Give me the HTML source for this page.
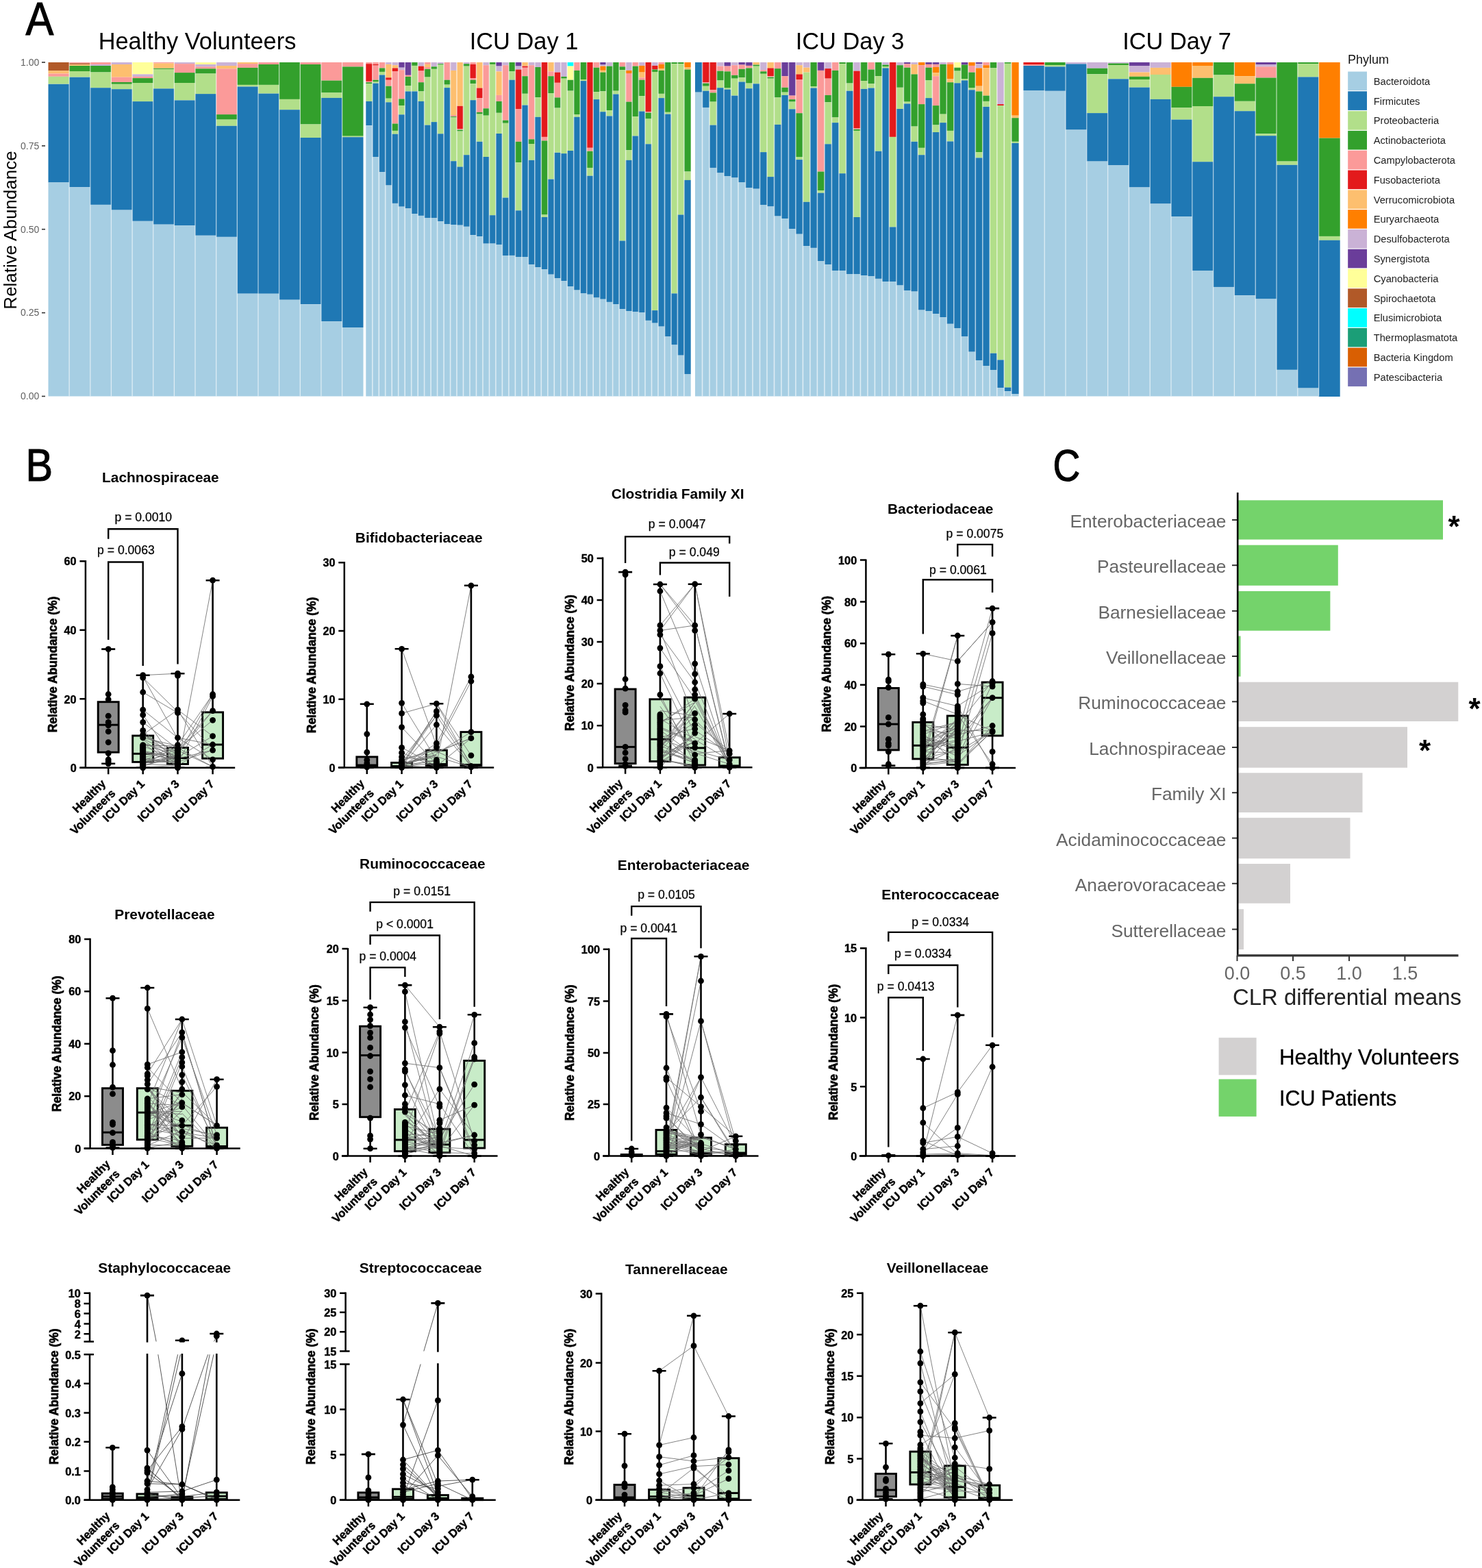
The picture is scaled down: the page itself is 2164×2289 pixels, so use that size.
<!DOCTYPE html>
<html lang="en"><head><meta charset="utf-8"><title>Figure: gut microbiota composition</title>
<style>html,body{margin:0;padding:0;background:#fff}svg{display:block}</style></head>
<body>
<svg width="2164" height="2289" viewBox="0 0 2164 2289" font-family='"Liberation Sans", Arial, Helvetica, sans-serif'>
<g id="panelA">
<text transform="translate(37.5 50.8) scale(0.9 1)" font-size="68" stroke="#000" stroke-width="1.2">A</text>
<text x="23.8" y="336" font-size="26" text-anchor="middle" transform="rotate(-90 23.8 336)">Relative Abundance</text>
<rect x="61" y="90.2" width="5" height="1.6" fill="#333"/>
<text x="57.3" y="95.8" font-size="14" text-anchor="end" fill="#5f5f5f">1.00</text>
<rect x="61" y="212.1" width="5" height="1.6" fill="#333"/>
<text x="57.3" y="217.7" font-size="14" text-anchor="end" fill="#5f5f5f">0.75</text>
<rect x="61" y="333.9" width="5" height="1.6" fill="#333"/>
<text x="57.3" y="339.6" font-size="14" text-anchor="end" fill="#5f5f5f">0.50</text>
<rect x="61" y="455.8" width="5" height="1.6" fill="#333"/>
<text x="57.3" y="461.4" font-size="14" text-anchor="end" fill="#5f5f5f">0.25</text>
<rect x="61" y="577.7" width="5" height="1.6" fill="#333"/>
<text x="57.3" y="583.3" font-size="14" text-anchor="end" fill="#5f5f5f">0.00</text>
<text x="288" y="71.6" font-size="34.4" text-anchor="middle">Healthy Volunteers</text>
<rect x="70.5" y="91" width="30.9" height="12.2" fill="#B15928"/>
<rect x="70.5" y="103.2" width="30.9" height="4.3" fill="#FDBF6F"/>
<rect x="70.5" y="107.5" width="30.9" height="4.3" fill="#FB9A99"/>
<rect x="70.5" y="111.8" width="30.9" height="10.9" fill="#B2DF8A"/>
<rect x="70.5" y="122.8" width="30.9" height="143.6" fill="#1F78B4"/>
<rect x="70.5" y="266.4" width="30.9" height="312.1" fill="#A6CEE3"/>
<rect x="101.1" y="91" width="30.9" height="1.5" fill="#FB9A99"/>
<rect x="101.1" y="92.5" width="30.9" height="1.7" fill="#B15928"/>
<rect x="101.1" y="94.3" width="30.9" height="1.7" fill="#FDBF6F"/>
<rect x="101.1" y="96" width="30.9" height="8.1" fill="#33A02C"/>
<rect x="101.1" y="104" width="30.9" height="8.6" fill="#B2DF8A"/>
<rect x="101.1" y="112.7" width="30.9" height="160.6" fill="#1F78B4"/>
<rect x="101.1" y="273.3" width="30.9" height="305.2" fill="#A6CEE3"/>
<rect x="131.8" y="91" width="30.9" height="3" fill="#FB9A99"/>
<rect x="131.8" y="94" width="30.9" height="2" fill="#CAB2D6"/>
<rect x="131.8" y="96" width="30.9" height="9.5" fill="#33A02C"/>
<rect x="131.8" y="105.5" width="30.9" height="22.7" fill="#B2DF8A"/>
<rect x="131.8" y="128.2" width="30.9" height="170.7" fill="#1F78B4"/>
<rect x="131.8" y="298.9" width="30.9" height="279.6" fill="#A6CEE3"/>
<rect x="162.4" y="91" width="30.9" height="3" fill="#CAB2D6"/>
<rect x="162.4" y="94" width="30.9" height="18.7" fill="#FDBF6F"/>
<rect x="162.4" y="112.7" width="30.9" height="7.2" fill="#FB9A99"/>
<rect x="162.4" y="119.9" width="30.9" height="2.9" fill="#33A02C"/>
<rect x="162.4" y="122.8" width="30.9" height="7.5" fill="#B2DF8A"/>
<rect x="162.4" y="130.2" width="30.9" height="176.4" fill="#1F78B4"/>
<rect x="162.4" y="306.7" width="30.9" height="271.8" fill="#A6CEE3"/>
<rect x="193.1" y="91" width="30.9" height="17.4" fill="#FFFF99"/>
<rect x="193.1" y="108.4" width="30.9" height="3.5" fill="#CAB2D6"/>
<rect x="193.1" y="111.8" width="30.9" height="2.3" fill="#FB9A99"/>
<rect x="193.1" y="114.1" width="30.9" height="6.9" fill="#33A02C"/>
<rect x="193.1" y="121" width="30.9" height="27.1" fill="#B2DF8A"/>
<rect x="193.1" y="148.1" width="30.9" height="174.7" fill="#1F78B4"/>
<rect x="193.1" y="322.8" width="30.9" height="255.7" fill="#A6CEE3"/>
<rect x="223.7" y="91" width="30.9" height="1.5" fill="#FB9A99"/>
<rect x="223.7" y="92.5" width="30.9" height="7.2" fill="#FDBF6F"/>
<rect x="223.7" y="99.7" width="30.9" height="1.2" fill="#33A02C"/>
<rect x="223.7" y="100.9" width="30.9" height="28.5" fill="#B2DF8A"/>
<rect x="223.7" y="129.4" width="30.9" height="198.3" fill="#1F78B4"/>
<rect x="223.7" y="327.7" width="30.9" height="250.8" fill="#A6CEE3"/>
<rect x="254.4" y="91" width="30.9" height="2.1" fill="#CAB2D6"/>
<rect x="254.4" y="93.1" width="30.9" height="13" fill="#FB9A99"/>
<rect x="254.4" y="106.1" width="30.9" height="15" fill="#33A02C"/>
<rect x="254.4" y="121" width="30.9" height="25.3" fill="#B2DF8A"/>
<rect x="254.4" y="146.4" width="30.9" height="182.8" fill="#1F78B4"/>
<rect x="254.4" y="329.1" width="30.9" height="249.4" fill="#A6CEE3"/>
<rect x="285" y="91" width="30.9" height="3" fill="#FFFF99"/>
<rect x="285" y="94" width="30.9" height="3.5" fill="#CAB2D6"/>
<rect x="285" y="97.4" width="30.9" height="2.9" fill="#FB9A99"/>
<rect x="285" y="100.3" width="30.9" height="7.2" fill="#33A02C"/>
<rect x="285" y="107.5" width="30.9" height="29.6" fill="#B2DF8A"/>
<rect x="285" y="137.1" width="30.9" height="206.7" fill="#1F78B4"/>
<rect x="285" y="343.8" width="30.9" height="234.7" fill="#A6CEE3"/>
<rect x="315.7" y="91" width="30.9" height="5" fill="#CAB2D6"/>
<rect x="315.7" y="96" width="30.9" height="4.3" fill="#FDBF6F"/>
<rect x="315.7" y="100.3" width="30.9" height="66.8" fill="#FB9A99"/>
<rect x="315.7" y="167.1" width="30.9" height="7.5" fill="#33A02C"/>
<rect x="315.7" y="174.6" width="30.9" height="9.2" fill="#B2DF8A"/>
<rect x="315.7" y="183.8" width="30.9" height="162.1" fill="#1F78B4"/>
<rect x="315.7" y="345.8" width="30.9" height="232.7" fill="#A6CEE3"/>
<rect x="346.3" y="91" width="30.9" height="2.1" fill="#FDBF6F"/>
<rect x="346.3" y="93.1" width="30.9" height="5.8" fill="#FB9A99"/>
<rect x="346.3" y="98.9" width="30.9" height="25" fill="#33A02C"/>
<rect x="346.3" y="123.9" width="30.9" height="2.6" fill="#B2DF8A"/>
<rect x="346.3" y="126.5" width="30.9" height="302.2" fill="#1F78B4"/>
<rect x="346.3" y="428.7" width="30.9" height="149.8" fill="#A6CEE3"/>
<rect x="377" y="91" width="30.9" height="3" fill="#FB9A99"/>
<rect x="377" y="94" width="30.9" height="29.9" fill="#33A02C"/>
<rect x="377" y="123.9" width="30.9" height="12.7" fill="#B2DF8A"/>
<rect x="377" y="136.6" width="30.9" height="292.2" fill="#1F78B4"/>
<rect x="377" y="428.7" width="30.9" height="149.8" fill="#A6CEE3"/>
<rect x="407.6" y="91" width="30.9" height="53.9" fill="#33A02C"/>
<rect x="407.6" y="144.9" width="30.9" height="15.3" fill="#B2DF8A"/>
<rect x="407.6" y="160.2" width="30.9" height="277.5" fill="#1F78B4"/>
<rect x="407.6" y="437.7" width="30.9" height="140.8" fill="#A6CEE3"/>
<rect x="438.3" y="91" width="30.9" height="3" fill="#FB9A99"/>
<rect x="438.3" y="94" width="30.9" height="87.5" fill="#33A02C"/>
<rect x="438.3" y="181.5" width="30.9" height="19.6" fill="#B2DF8A"/>
<rect x="438.3" y="201" width="30.9" height="243.2" fill="#1F78B4"/>
<rect x="438.3" y="444.3" width="30.9" height="134.2" fill="#A6CEE3"/>
<rect x="468.9" y="91" width="30.9" height="26.6" fill="#FB9A99"/>
<rect x="468.9" y="117.6" width="30.9" height="17.8" fill="#33A02C"/>
<rect x="468.9" y="135.4" width="30.9" height="7.5" fill="#B2DF8A"/>
<rect x="468.9" y="142.9" width="30.9" height="326.4" fill="#1F78B4"/>
<rect x="468.9" y="469.3" width="30.9" height="109.2" fill="#A6CEE3"/>
<rect x="499.6" y="91" width="30.9" height="6.4" fill="#FB9A99"/>
<rect x="499.6" y="97.4" width="30.9" height="101.3" fill="#33A02C"/>
<rect x="499.6" y="198.7" width="30.9" height="1.4" fill="#B2DF8A"/>
<rect x="499.6" y="200.2" width="30.9" height="277.8" fill="#1F78B4"/>
<rect x="499.6" y="478" width="30.9" height="100.5" fill="#A6CEE3"/>
<path d="M101.1 91V578.5M131.8 91V578.5M162.4 91V578.5M193.1 91V578.5M223.7 91V578.5M254.4 91V578.5M285 91V578.5M315.7 91V578.5M346.3 91V578.5M377 91V578.5M407.6 91V578.5M438.3 91V578.5M468.9 91V578.5M499.6 91V578.5" stroke="#fff" stroke-opacity="0.6" stroke-width="1.3" fill="none"/>
<text x="765" y="71.6" font-size="34.4" text-anchor="middle">ICU Day 1</text>
<rect x="534.3" y="91" width="9.8" height="2.2" fill="#FB9A99"/>
<rect x="534.3" y="93.2" width="9.8" height="25.6" fill="#E31A1C"/>
<rect x="534.3" y="118.8" width="9.8" height="1.4" fill="#FB9A99"/>
<rect x="534.3" y="120.2" width="9.8" height="2.1" fill="#33A02C"/>
<rect x="534.3" y="122.3" width="9.8" height="25.6" fill="#B2DF8A"/>
<rect x="534.3" y="147.9" width="9.8" height="35.3" fill="#1F78B4"/>
<rect x="534.3" y="183.3" width="9.8" height="395.2" fill="#A6CEE3"/>
<rect x="543.8" y="91" width="9.8" height="2.9" fill="#FB9A99"/>
<rect x="543.8" y="93.9" width="9.8" height="1.7" fill="#E31A1C"/>
<rect x="543.8" y="95.5" width="9.8" height="21.2" fill="#FB9A99"/>
<rect x="543.8" y="116.7" width="9.8" height="2.8" fill="#33A02C"/>
<rect x="543.8" y="119.5" width="9.8" height="2.1" fill="#B2DF8A"/>
<rect x="543.8" y="121.6" width="9.8" height="107.4" fill="#1F78B4"/>
<rect x="543.8" y="229" width="9.8" height="349.5" fill="#A6CEE3"/>
<rect x="553.3" y="91" width="9.8" height="8.4" fill="#FB9A99"/>
<rect x="553.3" y="99.4" width="9.8" height="5.5" fill="#33A02C"/>
<rect x="553.3" y="104.9" width="9.8" height="4.4" fill="#B2DF8A"/>
<rect x="553.3" y="109.4" width="9.8" height="141.8" fill="#1F78B4"/>
<rect x="553.3" y="251.2" width="9.8" height="327.3" fill="#A6CEE3"/>
<rect x="562.7" y="91" width="9.8" height="2.9" fill="#CAB2D6"/>
<rect x="562.7" y="93.9" width="9.8" height="19.4" fill="#FDBF6F"/>
<rect x="562.7" y="113.3" width="9.8" height="3.5" fill="#E31A1C"/>
<rect x="562.7" y="116.7" width="9.8" height="9" fill="#FB9A99"/>
<rect x="562.7" y="125.7" width="9.8" height="18" fill="#33A02C"/>
<rect x="562.7" y="143.8" width="9.8" height="5.5" fill="#B2DF8A"/>
<rect x="562.7" y="149.3" width="9.8" height="121.3" fill="#1F78B4"/>
<rect x="562.7" y="270.6" width="9.8" height="307.9" fill="#A6CEE3"/>
<rect x="572.2" y="91" width="9.8" height="4.2" fill="#CAB2D6"/>
<rect x="572.2" y="95.2" width="9.8" height="4.2" fill="#FDBF6F"/>
<rect x="572.2" y="99.4" width="9.8" height="4.9" fill="#E31A1C"/>
<rect x="572.2" y="104.3" width="9.8" height="76.2" fill="#FB9A99"/>
<rect x="572.2" y="180.5" width="9.8" height="10.4" fill="#33A02C"/>
<rect x="572.2" y="190.9" width="9.8" height="4.9" fill="#B2DF8A"/>
<rect x="572.2" y="195.7" width="9.8" height="101.2" fill="#1F78B4"/>
<rect x="572.2" y="296.9" width="9.8" height="281.6" fill="#A6CEE3"/>
<rect x="581.7" y="91" width="9.8" height="7.7" fill="#6A3D9A"/>
<rect x="581.7" y="98.7" width="9.8" height="3.5" fill="#CAB2D6"/>
<rect x="581.7" y="102.2" width="9.8" height="42.3" fill="#FB9A99"/>
<rect x="581.7" y="144.4" width="9.8" height="9.7" fill="#33A02C"/>
<rect x="581.7" y="154.1" width="9.8" height="13.2" fill="#B2DF8A"/>
<rect x="581.7" y="167.3" width="9.8" height="134.4" fill="#1F78B4"/>
<rect x="581.7" y="301.7" width="9.8" height="276.8" fill="#A6CEE3"/>
<rect x="591.2" y="91" width="9.8" height="18.8" fill="#6A3D9A"/>
<rect x="591.2" y="109.8" width="9.8" height="2.1" fill="#FB9A99"/>
<rect x="591.2" y="111.9" width="9.8" height="13.2" fill="#33A02C"/>
<rect x="591.2" y="125" width="9.8" height="8.3" fill="#B2DF8A"/>
<rect x="591.2" y="133.4" width="9.8" height="170.9" fill="#1F78B4"/>
<rect x="591.2" y="304.2" width="9.8" height="274.3" fill="#A6CEE3"/>
<rect x="600.7" y="91" width="9.8" height="4.9" fill="#33A02C"/>
<rect x="600.7" y="95.9" width="9.8" height="37.4" fill="#B2DF8A"/>
<rect x="600.7" y="133.4" width="9.8" height="178.8" fill="#1F78B4"/>
<rect x="600.7" y="312.1" width="9.8" height="266.4" fill="#A6CEE3"/>
<rect x="610.2" y="91" width="9.8" height="5.6" fill="#CAB2D6"/>
<rect x="610.2" y="96.6" width="9.8" height="6.9" fill="#E31A1C"/>
<rect x="610.2" y="103.6" width="9.8" height="16.6" fill="#FB9A99"/>
<rect x="610.2" y="120.2" width="9.8" height="13.2" fill="#33A02C"/>
<rect x="610.2" y="133.4" width="9.8" height="14.6" fill="#B2DF8A"/>
<rect x="610.2" y="147.9" width="9.8" height="167" fill="#1F78B4"/>
<rect x="610.2" y="314.9" width="9.8" height="263.6" fill="#A6CEE3"/>
<rect x="619.6" y="91" width="9.8" height="2.9" fill="#FB9A99"/>
<rect x="619.6" y="93.9" width="9.8" height="4.2" fill="#FDBF6F"/>
<rect x="619.6" y="98" width="9.8" height="2.8" fill="#FB9A99"/>
<rect x="619.6" y="100.8" width="9.8" height="11.8" fill="#33A02C"/>
<rect x="619.6" y="112.6" width="9.8" height="70" fill="#B2DF8A"/>
<rect x="619.6" y="182.6" width="9.8" height="135.8" fill="#1F78B4"/>
<rect x="619.6" y="318.4" width="9.8" height="260.1" fill="#A6CEE3"/>
<rect x="629.1" y="91" width="9.8" height="6.3" fill="#CAB2D6"/>
<rect x="629.1" y="97.3" width="9.8" height="3.5" fill="#33A02C"/>
<rect x="629.1" y="100.8" width="9.8" height="77.3" fill="#B2DF8A"/>
<rect x="629.1" y="178.1" width="9.8" height="140.3" fill="#1F78B4"/>
<rect x="629.1" y="318.4" width="9.8" height="260.1" fill="#A6CEE3"/>
<rect x="638.6" y="91" width="9.8" height="2.2" fill="#CAB2D6"/>
<rect x="638.6" y="93.2" width="9.8" height="1.4" fill="#33A02C"/>
<rect x="638.6" y="94.6" width="9.8" height="100.8" fill="#B2DF8A"/>
<rect x="638.6" y="195.3" width="9.8" height="127.9" fill="#1F78B4"/>
<rect x="638.6" y="323.2" width="9.8" height="255.3" fill="#A6CEE3"/>
<rect x="648.1" y="91" width="9.8" height="25.7" fill="#FB9A99"/>
<rect x="648.1" y="116.7" width="9.8" height="6.9" fill="#33A02C"/>
<rect x="648.1" y="123.7" width="9.8" height="4.4" fill="#B2DF8A"/>
<rect x="648.1" y="128.1" width="9.8" height="199.3" fill="#1F78B4"/>
<rect x="648.1" y="327.4" width="9.8" height="251.1" fill="#A6CEE3"/>
<rect x="657.6" y="91" width="9.8" height="11.9" fill="#CAB2D6"/>
<rect x="657.6" y="102.9" width="9.8" height="65.1" fill="#FDBF6F"/>
<rect x="657.6" y="168" width="9.8" height="2.1" fill="#FB9A99"/>
<rect x="657.6" y="170.1" width="9.8" height="1.4" fill="#33A02C"/>
<rect x="657.6" y="171.5" width="9.8" height="63.8" fill="#B2DF8A"/>
<rect x="657.6" y="235.2" width="9.8" height="92.9" fill="#1F78B4"/>
<rect x="657.6" y="328.1" width="9.8" height="250.4" fill="#A6CEE3"/>
<rect x="667" y="91" width="9.8" height="63.8" fill="#FDBF6F"/>
<rect x="667" y="154.8" width="9.8" height="33.3" fill="#E31A1C"/>
<rect x="667" y="188.1" width="9.8" height="1.4" fill="#FB9A99"/>
<rect x="667" y="189.5" width="9.8" height="2.1" fill="#33A02C"/>
<rect x="667" y="191.6" width="9.8" height="52" fill="#B2DF8A"/>
<rect x="667" y="243.5" width="9.8" height="85.2" fill="#1F78B4"/>
<rect x="667" y="328.8" width="9.8" height="249.7" fill="#A6CEE3"/>
<rect x="676.5" y="91" width="9.8" height="2.2" fill="#CAB2D6"/>
<rect x="676.5" y="93.2" width="9.8" height="3.5" fill="#33A02C"/>
<rect x="676.5" y="96.6" width="9.8" height="129.6" fill="#B2DF8A"/>
<rect x="676.5" y="226.2" width="9.8" height="104.6" fill="#1F78B4"/>
<rect x="676.5" y="330.9" width="9.8" height="247.6" fill="#A6CEE3"/>
<rect x="686" y="91" width="9.8" height="2.9" fill="#FB9A99"/>
<rect x="686" y="93.9" width="9.8" height="20.1" fill="#E31A1C"/>
<rect x="686" y="114" width="9.8" height="2.8" fill="#FB9A99"/>
<rect x="686" y="116.7" width="9.8" height="5.5" fill="#33A02C"/>
<rect x="686" y="122.3" width="9.8" height="24" fill="#B2DF8A"/>
<rect x="686" y="146.2" width="9.8" height="196.9" fill="#1F78B4"/>
<rect x="686" y="343.2" width="9.8" height="235.3" fill="#A6CEE3"/>
<rect x="695.5" y="91" width="9.8" height="37.5" fill="#FDBF6F"/>
<rect x="695.5" y="128.5" width="9.8" height="14.6" fill="#E31A1C"/>
<rect x="695.5" y="143.1" width="9.8" height="20.8" fill="#FB9A99"/>
<rect x="695.5" y="163.8" width="9.8" height="2.8" fill="#33A02C"/>
<rect x="695.5" y="166.6" width="9.8" height="40.2" fill="#B2DF8A"/>
<rect x="695.5" y="206.8" width="9.8" height="138.4" fill="#1F78B4"/>
<rect x="695.5" y="345.2" width="9.8" height="233.3" fill="#A6CEE3"/>
<rect x="705" y="91" width="9.8" height="4.2" fill="#CAB2D6"/>
<rect x="705" y="95.2" width="9.8" height="63.1" fill="#FB9A99"/>
<rect x="705" y="158.3" width="9.8" height="10.4" fill="#33A02C"/>
<rect x="705" y="168.7" width="9.8" height="60.3" fill="#B2DF8A"/>
<rect x="705" y="229" width="9.8" height="126.7" fill="#1F78B4"/>
<rect x="705" y="355.6" width="9.8" height="222.9" fill="#A6CEE3"/>
<rect x="714.5" y="91" width="9.8" height="2.9" fill="#33A02C"/>
<rect x="714.5" y="93.9" width="9.8" height="220.4" fill="#B2DF8A"/>
<rect x="714.5" y="314.2" width="9.8" height="41.4" fill="#1F78B4"/>
<rect x="714.5" y="355.6" width="9.8" height="222.9" fill="#A6CEE3"/>
<rect x="723.9" y="91" width="9.8" height="5.6" fill="#6A3D9A"/>
<rect x="723.9" y="96.6" width="9.8" height="7.6" fill="#CAB2D6"/>
<rect x="723.9" y="104.3" width="9.8" height="34.6" fill="#FDBF6F"/>
<rect x="723.9" y="138.9" width="9.8" height="9" fill="#FB9A99"/>
<rect x="723.9" y="147.9" width="9.8" height="16.9" fill="#33A02C"/>
<rect x="723.9" y="164.8" width="9.8" height="30.2" fill="#B2DF8A"/>
<rect x="723.9" y="195" width="9.8" height="162" fill="#1F78B4"/>
<rect x="723.9" y="357" width="9.8" height="221.5" fill="#A6CEE3"/>
<rect x="733.4" y="91" width="9.8" height="4.2" fill="#CAB2D6"/>
<rect x="733.4" y="95.2" width="9.8" height="80.4" fill="#FB9A99"/>
<rect x="733.4" y="175.6" width="9.8" height="4.2" fill="#33A02C"/>
<rect x="733.4" y="179.8" width="9.8" height="108.8" fill="#B2DF8A"/>
<rect x="733.4" y="288.6" width="9.8" height="84.4" fill="#1F78B4"/>
<rect x="733.4" y="373" width="9.8" height="205.5" fill="#A6CEE3"/>
<rect x="742.9" y="91" width="9.8" height="13.3" fill="#33A02C"/>
<rect x="742.9" y="104.3" width="9.8" height="12.5" fill="#B2DF8A"/>
<rect x="742.9" y="116.7" width="9.8" height="256.2" fill="#1F78B4"/>
<rect x="742.9" y="373" width="9.8" height="205.5" fill="#A6CEE3"/>
<rect x="752.4" y="91" width="9.8" height="5.6" fill="#6A3D9A"/>
<rect x="752.4" y="96.6" width="9.8" height="4.9" fill="#CAB2D6"/>
<rect x="752.4" y="101.5" width="9.8" height="57.5" fill="#E31A1C"/>
<rect x="752.4" y="159" width="9.8" height="47.8" fill="#FB9A99"/>
<rect x="752.4" y="206.8" width="9.8" height="30.5" fill="#33A02C"/>
<rect x="752.4" y="237.3" width="9.8" height="70" fill="#B2DF8A"/>
<rect x="752.4" y="307.3" width="9.8" height="67.8" fill="#1F78B4"/>
<rect x="752.4" y="375" width="9.8" height="203.5" fill="#A6CEE3"/>
<rect x="761.9" y="91" width="9.8" height="5.6" fill="#FDBF6F"/>
<rect x="761.9" y="96.6" width="9.8" height="2.1" fill="#E31A1C"/>
<rect x="761.9" y="98.7" width="9.8" height="12.5" fill="#FB9A99"/>
<rect x="761.9" y="111.2" width="9.8" height="25.6" fill="#33A02C"/>
<rect x="761.9" y="136.8" width="9.8" height="16.6" fill="#B2DF8A"/>
<rect x="761.9" y="153.5" width="9.8" height="221.6" fill="#1F78B4"/>
<rect x="761.9" y="375" width="9.8" height="203.5" fill="#A6CEE3"/>
<rect x="771.4" y="91" width="9.8" height="4.2" fill="#CAB2D6"/>
<rect x="771.4" y="95.2" width="9.8" height="108.1" fill="#FB9A99"/>
<rect x="771.4" y="203.3" width="9.8" height="6.7" fill="#33A02C"/>
<rect x="771.4" y="210" width="9.8" height="23.8" fill="#B2DF8A"/>
<rect x="771.4" y="233.8" width="9.8" height="152.3" fill="#1F78B4"/>
<rect x="771.4" y="386.1" width="9.8" height="192.4" fill="#A6CEE3"/>
<rect x="780.8" y="91" width="9.8" height="7" fill="#CAB2D6"/>
<rect x="780.8" y="98" width="9.8" height="44.3" fill="#33A02C"/>
<rect x="780.8" y="142.4" width="9.8" height="28.4" fill="#B2DF8A"/>
<rect x="780.8" y="170.8" width="9.8" height="219.5" fill="#1F78B4"/>
<rect x="780.8" y="390.3" width="9.8" height="188.2" fill="#A6CEE3"/>
<rect x="790.3" y="91" width="9.8" height="108.9" fill="#E31A1C"/>
<rect x="790.3" y="199.9" width="9.8" height="5.5" fill="#FB9A99"/>
<rect x="790.3" y="205.4" width="9.8" height="108.1" fill="#33A02C"/>
<rect x="790.3" y="313.5" width="9.8" height="3.5" fill="#B2DF8A"/>
<rect x="790.3" y="317" width="9.8" height="76.1" fill="#1F78B4"/>
<rect x="790.3" y="393.1" width="9.8" height="185.4" fill="#A6CEE3"/>
<rect x="799.8" y="91" width="9.8" height="13.3" fill="#FDBF6F"/>
<rect x="799.8" y="104.3" width="9.8" height="6.9" fill="#FB9A99"/>
<rect x="799.8" y="111.2" width="9.8" height="24.9" fill="#33A02C"/>
<rect x="799.8" y="136.1" width="9.8" height="125.4" fill="#B2DF8A"/>
<rect x="799.8" y="261.6" width="9.8" height="139.1" fill="#1F78B4"/>
<rect x="799.8" y="400.7" width="9.8" height="177.8" fill="#A6CEE3"/>
<rect x="809.3" y="91" width="9.8" height="14.6" fill="#CAB2D6"/>
<rect x="809.3" y="105.6" width="9.8" height="15.2" fill="#E31A1C"/>
<rect x="809.3" y="120.9" width="9.8" height="21.5" fill="#FB9A99"/>
<rect x="809.3" y="142.4" width="9.8" height="15.2" fill="#33A02C"/>
<rect x="809.3" y="157.6" width="9.8" height="65.1" fill="#B2DF8A"/>
<rect x="809.3" y="222.8" width="9.8" height="183.5" fill="#1F78B4"/>
<rect x="809.3" y="406.2" width="9.8" height="172.3" fill="#A6CEE3"/>
<rect x="818.8" y="91" width="9.8" height="20.9" fill="#CAB2D6"/>
<rect x="818.8" y="111.9" width="9.8" height="2.8" fill="#33A02C"/>
<rect x="818.8" y="114.6" width="9.8" height="109.5" fill="#B2DF8A"/>
<rect x="818.8" y="224.1" width="9.8" height="186.2" fill="#1F78B4"/>
<rect x="818.8" y="410.4" width="9.8" height="168.1" fill="#A6CEE3"/>
<rect x="828.2" y="91" width="9.8" height="5.6" fill="#00FFFF"/>
<rect x="828.2" y="96.6" width="9.8" height="20.1" fill="#FFFF99"/>
<rect x="828.2" y="116.7" width="9.8" height="15.9" fill="#33A02C"/>
<rect x="828.2" y="132.7" width="9.8" height="87.3" fill="#B2DF8A"/>
<rect x="828.2" y="220" width="9.8" height="198" fill="#1F78B4"/>
<rect x="828.2" y="418" width="9.8" height="160.5" fill="#A6CEE3"/>
<rect x="837.7" y="91" width="9.8" height="11.9" fill="#FB9A99"/>
<rect x="837.7" y="102.9" width="9.8" height="64.4" fill="#33A02C"/>
<rect x="837.7" y="167.3" width="9.8" height="3.5" fill="#B2DF8A"/>
<rect x="837.7" y="170.8" width="9.8" height="252.8" fill="#1F78B4"/>
<rect x="837.7" y="423.6" width="9.8" height="154.9" fill="#A6CEE3"/>
<rect x="847.2" y="91" width="9.8" height="25" fill="#33A02C"/>
<rect x="847.2" y="116" width="9.8" height="2.1" fill="#B2DF8A"/>
<rect x="847.2" y="118.1" width="9.8" height="310.3" fill="#1F78B4"/>
<rect x="847.2" y="428.4" width="9.8" height="150.1" fill="#A6CEE3"/>
<rect x="856.7" y="91" width="9.8" height="124.8" fill="#E31A1C"/>
<rect x="856.7" y="215.8" width="9.8" height="4.9" fill="#FB9A99"/>
<rect x="856.7" y="220.7" width="9.8" height="24.3" fill="#33A02C"/>
<rect x="856.7" y="244.9" width="9.8" height="11.8" fill="#B2DF8A"/>
<rect x="856.7" y="256.7" width="9.8" height="173.1" fill="#1F78B4"/>
<rect x="856.7" y="429.8" width="9.8" height="148.7" fill="#A6CEE3"/>
<rect x="866.2" y="91" width="9.8" height="7.7" fill="#FB9A99"/>
<rect x="866.2" y="98.7" width="9.8" height="35.3" fill="#33A02C"/>
<rect x="866.2" y="134.1" width="9.8" height="11.1" fill="#B2DF8A"/>
<rect x="866.2" y="145.1" width="9.8" height="289.5" fill="#1F78B4"/>
<rect x="866.2" y="434.6" width="9.8" height="143.9" fill="#A6CEE3"/>
<rect x="875.7" y="91" width="9.8" height="3.6" fill="#6A3D9A"/>
<rect x="875.7" y="94.6" width="9.8" height="2.1" fill="#CAB2D6"/>
<rect x="875.7" y="96.6" width="9.8" height="6.2" fill="#FF7F00"/>
<rect x="875.7" y="102.9" width="9.8" height="2.8" fill="#FDBF6F"/>
<rect x="875.7" y="105.6" width="9.8" height="27.7" fill="#33A02C"/>
<rect x="875.7" y="133.4" width="9.8" height="29.8" fill="#B2DF8A"/>
<rect x="875.7" y="163.2" width="9.8" height="273.6" fill="#1F78B4"/>
<rect x="875.7" y="436.7" width="9.8" height="141.8" fill="#A6CEE3"/>
<rect x="885.1" y="91" width="9.8" height="5.6" fill="#CAB2D6"/>
<rect x="885.1" y="96.6" width="9.8" height="64.4" fill="#33A02C"/>
<rect x="885.1" y="161.1" width="9.8" height="8.3" fill="#B2DF8A"/>
<rect x="885.1" y="169.4" width="9.8" height="271.5" fill="#1F78B4"/>
<rect x="885.1" y="440.9" width="9.8" height="137.6" fill="#A6CEE3"/>
<rect x="894.6" y="91" width="9.8" height="41.7" fill="#33A02C"/>
<rect x="894.6" y="132.7" width="9.8" height="4.9" fill="#B2DF8A"/>
<rect x="894.6" y="137.5" width="9.8" height="306.8" fill="#1F78B4"/>
<rect x="894.6" y="444.3" width="9.8" height="134.2" fill="#A6CEE3"/>
<rect x="904.1" y="91" width="9.8" height="6.3" fill="#FB9A99"/>
<rect x="904.1" y="97.3" width="9.8" height="4.9" fill="#33A02C"/>
<rect x="904.1" y="102.2" width="9.8" height="249.3" fill="#B2DF8A"/>
<rect x="904.1" y="351.5" width="9.8" height="99.8" fill="#1F78B4"/>
<rect x="904.1" y="451.3" width="9.8" height="127.2" fill="#A6CEE3"/>
<rect x="913.6" y="91" width="9.8" height="11.9" fill="#CAB2D6"/>
<rect x="913.6" y="102.9" width="9.8" height="4.2" fill="#FF7F00"/>
<rect x="913.6" y="107" width="9.8" height="41.6" fill="#FB9A99"/>
<rect x="913.6" y="148.6" width="9.8" height="70.7" fill="#33A02C"/>
<rect x="913.6" y="219.3" width="9.8" height="14.6" fill="#B2DF8A"/>
<rect x="913.6" y="233.8" width="9.8" height="220.2" fill="#1F78B4"/>
<rect x="913.6" y="454" width="9.8" height="124.5" fill="#A6CEE3"/>
<rect x="923.1" y="91" width="9.8" height="5.6" fill="#FB9A99"/>
<rect x="923.1" y="96.6" width="9.8" height="73.5" fill="#33A02C"/>
<rect x="923.1" y="170.1" width="9.8" height="28.4" fill="#B2DF8A"/>
<rect x="923.1" y="198.5" width="9.8" height="256.9" fill="#1F78B4"/>
<rect x="923.1" y="455.4" width="9.8" height="123.1" fill="#A6CEE3"/>
<rect x="932.5" y="91" width="9.8" height="4.9" fill="#CAB2D6"/>
<rect x="932.5" y="95.9" width="9.8" height="9.7" fill="#FF7F00"/>
<rect x="932.5" y="105.6" width="9.8" height="7.6" fill="#FDBF6F"/>
<rect x="932.5" y="113.3" width="9.8" height="3.5" fill="#FB9A99"/>
<rect x="932.5" y="116.7" width="9.8" height="23.6" fill="#33A02C"/>
<rect x="932.5" y="140.3" width="9.8" height="22.2" fill="#B2DF8A"/>
<rect x="932.5" y="162.5" width="9.8" height="293.9" fill="#1F78B4"/>
<rect x="932.5" y="456.4" width="9.8" height="122.1" fill="#A6CEE3"/>
<rect x="942" y="91" width="9.8" height="72.2" fill="#E31A1C"/>
<rect x="942" y="163.2" width="9.8" height="1.4" fill="#FB9A99"/>
<rect x="942" y="164.5" width="9.8" height="9" fill="#33A02C"/>
<rect x="942" y="173.6" width="9.8" height="36.7" fill="#B2DF8A"/>
<rect x="942" y="210.3" width="9.8" height="257.6" fill="#1F78B4"/>
<rect x="942" y="467.9" width="9.8" height="110.6" fill="#A6CEE3"/>
<rect x="951.5" y="91" width="9.8" height="4.9" fill="#CAB2D6"/>
<rect x="951.5" y="95.9" width="9.8" height="5.5" fill="#E31A1C"/>
<rect x="951.5" y="101.5" width="9.8" height="3.5" fill="#33A02C"/>
<rect x="951.5" y="104.9" width="9.8" height="348.1" fill="#B2DF8A"/>
<rect x="951.5" y="453.1" width="9.8" height="18.6" fill="#1F78B4"/>
<rect x="951.5" y="471.6" width="9.8" height="106.9" fill="#A6CEE3"/>
<rect x="961" y="91" width="9.8" height="2.9" fill="#FB9A99"/>
<rect x="961" y="93.9" width="9.8" height="6.2" fill="#FF7F00"/>
<rect x="961" y="100.1" width="9.8" height="2.8" fill="#FDBF6F"/>
<rect x="961" y="102.9" width="9.8" height="34" fill="#33A02C"/>
<rect x="961" y="136.8" width="9.8" height="6.2" fill="#B2DF8A"/>
<rect x="961" y="143.1" width="9.8" height="333.6" fill="#1F78B4"/>
<rect x="961" y="476.6" width="9.8" height="101.9" fill="#A6CEE3"/>
<rect x="970.5" y="91" width="9.8" height="72.8" fill="#33A02C"/>
<rect x="970.5" y="163.8" width="9.8" height="2.8" fill="#B2DF8A"/>
<rect x="970.5" y="166.6" width="9.8" height="324.8" fill="#1F78B4"/>
<rect x="970.5" y="491.5" width="9.8" height="87" fill="#A6CEE3"/>
<rect x="980" y="91" width="9.8" height="2.2" fill="#33A02C"/>
<rect x="980" y="93.2" width="9.8" height="335.2" fill="#B2DF8A"/>
<rect x="980" y="428.4" width="9.8" height="75.1" fill="#1F78B4"/>
<rect x="980" y="503.5" width="9.8" height="75" fill="#A6CEE3"/>
<rect x="989.4" y="91" width="9.8" height="2.2" fill="#33A02C"/>
<rect x="989.4" y="93.2" width="9.8" height="220.4" fill="#B2DF8A"/>
<rect x="989.4" y="313.5" width="9.8" height="205.2" fill="#1F78B4"/>
<rect x="989.4" y="518.8" width="9.8" height="59.7" fill="#A6CEE3"/>
<rect x="998.9" y="91" width="9.8" height="7" fill="#FF7F00"/>
<rect x="998.9" y="98" width="9.8" height="3.5" fill="#FDBF6F"/>
<rect x="998.9" y="101.5" width="9.8" height="149" fill="#33A02C"/>
<rect x="998.9" y="250.5" width="9.8" height="12.5" fill="#B2DF8A"/>
<rect x="998.9" y="262.9" width="9.8" height="283.5" fill="#1F78B4"/>
<rect x="998.9" y="546.5" width="9.8" height="32" fill="#A6CEE3"/>
<path d="M543.8 91V578.5M553.3 91V578.5M562.7 91V578.5M572.2 91V578.5M581.7 91V578.5M591.2 91V578.5M600.7 91V578.5M610.2 91V578.5M619.6 91V578.5M629.1 91V578.5M638.6 91V578.5M648.1 91V578.5M657.6 91V578.5M667 91V578.5M676.5 91V578.5M686 91V578.5M695.5 91V578.5M705 91V578.5M714.5 91V578.5M723.9 91V578.5M733.4 91V578.5M742.9 91V578.5M752.4 91V578.5M761.9 91V578.5M771.4 91V578.5M780.8 91V578.5M790.3 91V578.5M799.8 91V578.5M809.3 91V578.5M818.8 91V578.5M828.2 91V578.5M837.7 91V578.5M847.2 91V578.5M856.7 91V578.5M866.2 91V578.5M875.7 91V578.5M885.1 91V578.5M894.6 91V578.5M904.1 91V578.5M913.6 91V578.5M923.1 91V578.5M932.5 91V578.5M942 91V578.5M951.5 91V578.5M961 91V578.5M970.5 91V578.5M980 91V578.5M989.4 91V578.5M998.9 91V578.5" stroke="#fff" stroke-opacity="0.6" stroke-width="1.6" fill="none"/>
<text x="1241" y="71.6" font-size="34.4" text-anchor="middle">ICU Day 3</text>
<rect x="1015" y="91" width="10.8" height="43.7" fill="#1F78B4"/>
<rect x="1015" y="134.7" width="10.8" height="443.8" fill="#A6CEE3"/>
<rect x="1025.5" y="91" width="10.8" height="29.2" fill="#E31A1C"/>
<rect x="1025.5" y="120.2" width="10.8" height="1.4" fill="#FB9A99"/>
<rect x="1025.5" y="121.6" width="10.8" height="4.2" fill="#33A02C"/>
<rect x="1025.5" y="125.7" width="10.8" height="6.9" fill="#B2DF8A"/>
<rect x="1025.5" y="132.7" width="10.8" height="24.3" fill="#1F78B4"/>
<rect x="1025.5" y="156.9" width="10.8" height="421.6" fill="#A6CEE3"/>
<rect x="1036" y="91" width="10.8" height="40.3" fill="#E31A1C"/>
<rect x="1036" y="131.3" width="10.8" height="4.2" fill="#FB9A99"/>
<rect x="1036" y="135.4" width="10.8" height="13.2" fill="#33A02C"/>
<rect x="1036" y="148.6" width="10.8" height="34" fill="#B2DF8A"/>
<rect x="1036" y="182.6" width="10.8" height="62.4" fill="#1F78B4"/>
<rect x="1036" y="244.9" width="10.8" height="333.6" fill="#A6CEE3"/>
<rect x="1046.5" y="91" width="10.8" height="5.6" fill="#CAB2D6"/>
<rect x="1046.5" y="96.6" width="10.8" height="6.9" fill="#FB9A99"/>
<rect x="1046.5" y="103.6" width="10.8" height="13.9" fill="#33A02C"/>
<rect x="1046.5" y="117.4" width="10.8" height="10.8" fill="#B2DF8A"/>
<rect x="1046.5" y="128.2" width="10.8" height="124.3" fill="#1F78B4"/>
<rect x="1046.5" y="252.5" width="10.8" height="326" fill="#A6CEE3"/>
<rect x="1057" y="91" width="10.8" height="5.6" fill="#6A3D9A"/>
<rect x="1057" y="96.6" width="10.8" height="7.6" fill="#FB9A99"/>
<rect x="1057" y="104.3" width="10.8" height="24.3" fill="#33A02C"/>
<rect x="1057" y="128.5" width="10.8" height="2.1" fill="#B2DF8A"/>
<rect x="1057" y="130.6" width="10.8" height="126.8" fill="#1F78B4"/>
<rect x="1057" y="257.4" width="10.8" height="321.1" fill="#A6CEE3"/>
<rect x="1067.5" y="91" width="10.8" height="4.2" fill="#CAB2D6"/>
<rect x="1067.5" y="95.2" width="10.8" height="14.6" fill="#FB9A99"/>
<rect x="1067.5" y="109.8" width="10.8" height="4.9" fill="#33A02C"/>
<rect x="1067.5" y="114.6" width="10.8" height="24.9" fill="#B2DF8A"/>
<rect x="1067.5" y="139.6" width="10.8" height="119.9" fill="#1F78B4"/>
<rect x="1067.5" y="259.5" width="10.8" height="319" fill="#A6CEE3"/>
<rect x="1078" y="91" width="10.8" height="3.6" fill="#6A3D9A"/>
<rect x="1078" y="94.6" width="10.8" height="6.2" fill="#FB9A99"/>
<rect x="1078" y="100.8" width="10.8" height="12.5" fill="#33A02C"/>
<rect x="1078" y="113.3" width="10.8" height="6.2" fill="#B2DF8A"/>
<rect x="1078" y="119.5" width="10.8" height="146.5" fill="#1F78B4"/>
<rect x="1078" y="266" width="10.8" height="312.5" fill="#A6CEE3"/>
<rect x="1088.5" y="91" width="10.8" height="4.9" fill="#6A3D9A"/>
<rect x="1088.5" y="95.9" width="10.8" height="3.5" fill="#FB9A99"/>
<rect x="1088.5" y="99.4" width="10.8" height="22.2" fill="#33A02C"/>
<rect x="1088.5" y="121.6" width="10.8" height="7.6" fill="#B2DF8A"/>
<rect x="1088.5" y="129.2" width="10.8" height="145.1" fill="#1F78B4"/>
<rect x="1088.5" y="274.3" width="10.8" height="304.2" fill="#A6CEE3"/>
<rect x="1099" y="91" width="10.8" height="3.6" fill="#FDBF6F"/>
<rect x="1099" y="94.6" width="10.8" height="2.1" fill="#33A02C"/>
<rect x="1099" y="96.6" width="10.8" height="25.6" fill="#B2DF8A"/>
<rect x="1099" y="122.3" width="10.8" height="153.4" fill="#1F78B4"/>
<rect x="1099" y="275.7" width="10.8" height="302.8" fill="#A6CEE3"/>
<rect x="1109.5" y="91" width="10.8" height="11.2" fill="#CAB2D6"/>
<rect x="1109.5" y="102.2" width="10.8" height="2.1" fill="#FB9A99"/>
<rect x="1109.5" y="104.3" width="10.8" height="3.5" fill="#33A02C"/>
<rect x="1109.5" y="107.7" width="10.8" height="114.3" fill="#B2DF8A"/>
<rect x="1109.5" y="222.1" width="10.8" height="76.9" fill="#1F78B4"/>
<rect x="1109.5" y="299" width="10.8" height="279.5" fill="#A6CEE3"/>
<rect x="1120" y="91" width="10.8" height="8.4" fill="#FDBF6F"/>
<rect x="1120" y="99.4" width="10.8" height="11.8" fill="#E31A1C"/>
<rect x="1120" y="111.2" width="10.8" height="1.4" fill="#FB9A99"/>
<rect x="1120" y="112.6" width="10.8" height="2.1" fill="#33A02C"/>
<rect x="1120" y="114.6" width="10.8" height="143.4" fill="#B2DF8A"/>
<rect x="1120" y="258.1" width="10.8" height="43.4" fill="#1F78B4"/>
<rect x="1120" y="301.5" width="10.8" height="277" fill="#A6CEE3"/>
<rect x="1130.5" y="91" width="10.8" height="9.1" fill="#FB9A99"/>
<rect x="1130.5" y="100.1" width="10.8" height="42.3" fill="#33A02C"/>
<rect x="1130.5" y="142.4" width="10.8" height="39.5" fill="#B2DF8A"/>
<rect x="1130.5" y="181.9" width="10.8" height="133.7" fill="#1F78B4"/>
<rect x="1130.5" y="315.6" width="10.8" height="262.9" fill="#A6CEE3"/>
<rect x="1140.9" y="91" width="10.8" height="20.2" fill="#6A3D9A"/>
<rect x="1140.9" y="111.2" width="10.8" height="16.6" fill="#FB9A99"/>
<rect x="1140.9" y="127.8" width="10.8" height="6.9" fill="#33A02C"/>
<rect x="1140.9" y="134.7" width="10.8" height="4.2" fill="#B2DF8A"/>
<rect x="1140.9" y="138.9" width="10.8" height="180.2" fill="#1F78B4"/>
<rect x="1140.9" y="319.1" width="10.8" height="259.4" fill="#A6CEE3"/>
<rect x="1151.4" y="91" width="10.8" height="48.6" fill="#6A3D9A"/>
<rect x="1151.4" y="139.6" width="10.8" height="5.5" fill="#FB9A99"/>
<rect x="1151.4" y="145.1" width="10.8" height="3.5" fill="#33A02C"/>
<rect x="1151.4" y="148.6" width="10.8" height="10.7" fill="#B2DF8A"/>
<rect x="1151.4" y="159.3" width="10.8" height="175" fill="#1F78B4"/>
<rect x="1151.4" y="334.3" width="10.8" height="244.2" fill="#A6CEE3"/>
<rect x="1161.9" y="91" width="10.8" height="4.2" fill="#CAB2D6"/>
<rect x="1161.9" y="95.2" width="10.8" height="13.2" fill="#FDBF6F"/>
<rect x="1161.9" y="108.4" width="10.8" height="7.6" fill="#E31A1C"/>
<rect x="1161.9" y="116" width="10.8" height="49.2" fill="#FB9A99"/>
<rect x="1161.9" y="165.2" width="10.8" height="63.8" fill="#33A02C"/>
<rect x="1161.9" y="229" width="10.8" height="4.2" fill="#B2DF8A"/>
<rect x="1161.9" y="233.1" width="10.8" height="108.6" fill="#1F78B4"/>
<rect x="1161.9" y="341.8" width="10.8" height="236.7" fill="#A6CEE3"/>
<rect x="1172.4" y="91" width="10.8" height="7.7" fill="#CAB2D6"/>
<rect x="1172.4" y="98.7" width="10.8" height="6.9" fill="#FDBF6F"/>
<rect x="1172.4" y="105.6" width="10.8" height="189.2" fill="#B2DF8A"/>
<rect x="1172.4" y="294.8" width="10.8" height="64.3" fill="#1F78B4"/>
<rect x="1172.4" y="359.1" width="10.8" height="219.4" fill="#A6CEE3"/>
<rect x="1182.9" y="91" width="10.8" height="35.4" fill="#33A02C"/>
<rect x="1182.9" y="126.4" width="10.8" height="2.1" fill="#B2DF8A"/>
<rect x="1182.9" y="128.5" width="10.8" height="233.4" fill="#1F78B4"/>
<rect x="1182.9" y="361.9" width="10.8" height="216.6" fill="#A6CEE3"/>
<rect x="1193.4" y="91" width="10.8" height="11.9" fill="#6A3D9A"/>
<rect x="1193.4" y="102.9" width="10.8" height="147.6" fill="#FB9A99"/>
<rect x="1193.4" y="250.5" width="10.8" height="27.7" fill="#33A02C"/>
<rect x="1193.4" y="278.2" width="10.8" height="3.5" fill="#B2DF8A"/>
<rect x="1193.4" y="281.7" width="10.8" height="99.3" fill="#1F78B4"/>
<rect x="1193.4" y="381" width="10.8" height="197.5" fill="#A6CEE3"/>
<rect x="1203.9" y="91" width="10.8" height="9.1" fill="#CAB2D6"/>
<rect x="1203.9" y="100.1" width="10.8" height="14.6" fill="#E31A1C"/>
<rect x="1203.9" y="114.6" width="10.8" height="24.3" fill="#FB9A99"/>
<rect x="1203.9" y="138.9" width="10.8" height="10.4" fill="#33A02C"/>
<rect x="1203.9" y="149.3" width="10.8" height="61" fill="#B2DF8A"/>
<rect x="1203.9" y="210.3" width="10.8" height="175.9" fill="#1F78B4"/>
<rect x="1203.9" y="386.1" width="10.8" height="192.4" fill="#A6CEE3"/>
<rect x="1214.4" y="91" width="10.8" height="11.9" fill="#FB9A99"/>
<rect x="1214.4" y="102.9" width="10.8" height="68.6" fill="#33A02C"/>
<rect x="1214.4" y="171.5" width="10.8" height="7.6" fill="#B2DF8A"/>
<rect x="1214.4" y="179.1" width="10.8" height="216" fill="#1F78B4"/>
<rect x="1214.4" y="395.1" width="10.8" height="183.4" fill="#A6CEE3"/>
<rect x="1224.9" y="91" width="10.8" height="2.2" fill="#33A02C"/>
<rect x="1224.9" y="93.2" width="10.8" height="160.1" fill="#B2DF8A"/>
<rect x="1224.9" y="253.2" width="10.8" height="141.9" fill="#1F78B4"/>
<rect x="1224.9" y="395.1" width="10.8" height="183.4" fill="#A6CEE3"/>
<rect x="1235.4" y="91" width="10.8" height="30.6" fill="#33A02C"/>
<rect x="1235.4" y="121.6" width="10.8" height="11.1" fill="#B2DF8A"/>
<rect x="1235.4" y="132.7" width="10.8" height="267.3" fill="#1F78B4"/>
<rect x="1235.4" y="400" width="10.8" height="178.5" fill="#A6CEE3"/>
<rect x="1245.9" y="91" width="10.8" height="12.6" fill="#CAB2D6"/>
<rect x="1245.9" y="103.6" width="10.8" height="83.8" fill="#E31A1C"/>
<rect x="1245.9" y="187.4" width="10.8" height="1.4" fill="#FB9A99"/>
<rect x="1245.9" y="188.8" width="10.8" height="2.1" fill="#33A02C"/>
<rect x="1245.9" y="190.9" width="10.8" height="126.1" fill="#B2DF8A"/>
<rect x="1245.9" y="317" width="10.8" height="83" fill="#1F78B4"/>
<rect x="1245.9" y="400" width="10.8" height="178.5" fill="#A6CEE3"/>
<rect x="1256.4" y="91" width="10.8" height="27.1" fill="#33A02C"/>
<rect x="1256.4" y="118.1" width="10.8" height="11.8" fill="#B2DF8A"/>
<rect x="1256.4" y="129.9" width="10.8" height="272.2" fill="#1F78B4"/>
<rect x="1256.4" y="402.1" width="10.8" height="176.4" fill="#A6CEE3"/>
<rect x="1266.9" y="91" width="10.8" height="10.5" fill="#FB9A99"/>
<rect x="1266.9" y="101.5" width="10.8" height="20.8" fill="#33A02C"/>
<rect x="1266.9" y="122.3" width="10.8" height="6.2" fill="#B2DF8A"/>
<rect x="1266.9" y="128.5" width="10.8" height="274.9" fill="#1F78B4"/>
<rect x="1266.9" y="403.5" width="10.8" height="175" fill="#A6CEE3"/>
<rect x="1277.4" y="91" width="10.8" height="20.2" fill="#33A02C"/>
<rect x="1277.4" y="111.2" width="10.8" height="109.5" fill="#B2DF8A"/>
<rect x="1277.4" y="220.7" width="10.8" height="186.2" fill="#1F78B4"/>
<rect x="1277.4" y="406.9" width="10.8" height="171.6" fill="#A6CEE3"/>
<rect x="1287.9" y="91" width="10.8" height="3.6" fill="#CAB2D6"/>
<rect x="1287.9" y="94.6" width="10.8" height="2.8" fill="#33A02C"/>
<rect x="1287.9" y="97.3" width="10.8" height="2.1" fill="#B2DF8A"/>
<rect x="1287.9" y="99.4" width="10.8" height="311.7" fill="#1F78B4"/>
<rect x="1287.9" y="411.1" width="10.8" height="167.4" fill="#A6CEE3"/>
<rect x="1298.4" y="91" width="10.8" height="108.9" fill="#E31A1C"/>
<rect x="1298.4" y="199.9" width="10.8" height="131.5" fill="#B2DF8A"/>
<rect x="1298.4" y="331.4" width="10.8" height="79.7" fill="#1F78B4"/>
<rect x="1298.4" y="411.1" width="10.8" height="167.4" fill="#A6CEE3"/>
<rect x="1308.9" y="91" width="10.8" height="4.2" fill="#CAB2D6"/>
<rect x="1308.9" y="95.2" width="10.8" height="32.6" fill="#33A02C"/>
<rect x="1308.9" y="127.8" width="10.8" height="31.2" fill="#B2DF8A"/>
<rect x="1308.9" y="159" width="10.8" height="257.6" fill="#1F78B4"/>
<rect x="1308.9" y="416.6" width="10.8" height="161.9" fill="#A6CEE3"/>
<rect x="1319.4" y="91" width="10.8" height="2.2" fill="#6A3D9A"/>
<rect x="1319.4" y="93.2" width="10.8" height="5.5" fill="#FB9A99"/>
<rect x="1319.4" y="98.7" width="10.8" height="49.9" fill="#33A02C"/>
<rect x="1319.4" y="148.6" width="10.8" height="2.8" fill="#B2DF8A"/>
<rect x="1319.4" y="151.4" width="10.8" height="272.9" fill="#1F78B4"/>
<rect x="1319.4" y="424.2" width="10.8" height="154.3" fill="#A6CEE3"/>
<rect x="1329.9" y="91" width="10.8" height="2.9" fill="#CAB2D6"/>
<rect x="1329.9" y="93.9" width="10.8" height="14.6" fill="#FDBF6F"/>
<rect x="1329.9" y="108.4" width="10.8" height="76.2" fill="#33A02C"/>
<rect x="1329.9" y="184.6" width="10.8" height="22.2" fill="#B2DF8A"/>
<rect x="1329.9" y="206.8" width="10.8" height="218.8" fill="#1F78B4"/>
<rect x="1329.9" y="425.6" width="10.8" height="152.9" fill="#A6CEE3"/>
<rect x="1340.4" y="91" width="10.8" height="4.2" fill="#FF7F00"/>
<rect x="1340.4" y="95.2" width="10.8" height="56.8" fill="#FB9A99"/>
<rect x="1340.4" y="152.1" width="10.8" height="63.8" fill="#33A02C"/>
<rect x="1340.4" y="215.8" width="10.8" height="10.4" fill="#B2DF8A"/>
<rect x="1340.4" y="226.2" width="10.8" height="226.4" fill="#1F78B4"/>
<rect x="1340.4" y="452.7" width="10.8" height="125.8" fill="#A6CEE3"/>
<rect x="1350.9" y="91" width="10.8" height="2.9" fill="#6A3D9A"/>
<rect x="1350.9" y="93.9" width="10.8" height="4.9" fill="#FB9A99"/>
<rect x="1350.9" y="98.7" width="10.8" height="18.7" fill="#33A02C"/>
<rect x="1350.9" y="117.4" width="10.8" height="25.6" fill="#B2DF8A"/>
<rect x="1350.9" y="143.1" width="10.8" height="311" fill="#1F78B4"/>
<rect x="1350.9" y="454" width="10.8" height="124.5" fill="#A6CEE3"/>
<rect x="1361.4" y="91" width="10.8" height="2.9" fill="#6A3D9A"/>
<rect x="1361.4" y="93.9" width="10.8" height="4.2" fill="#FB9A99"/>
<rect x="1361.4" y="98" width="10.8" height="8.3" fill="#FF7F00"/>
<rect x="1361.4" y="106.3" width="10.8" height="4.9" fill="#FDBF6F"/>
<rect x="1361.4" y="111.2" width="10.8" height="43" fill="#FB9A99"/>
<rect x="1361.4" y="154.1" width="10.8" height="28.4" fill="#33A02C"/>
<rect x="1361.4" y="182.6" width="10.8" height="10.4" fill="#B2DF8A"/>
<rect x="1361.4" y="193" width="10.8" height="265.2" fill="#1F78B4"/>
<rect x="1361.4" y="458.2" width="10.8" height="120.3" fill="#A6CEE3"/>
<rect x="1371.8" y="91" width="10.8" height="2.9" fill="#CAB2D6"/>
<rect x="1371.8" y="93.9" width="10.8" height="72.8" fill="#33A02C"/>
<rect x="1371.8" y="166.6" width="10.8" height="12.5" fill="#B2DF8A"/>
<rect x="1371.8" y="179.1" width="10.8" height="284.2" fill="#1F78B4"/>
<rect x="1371.8" y="463.3" width="10.8" height="115.2" fill="#A6CEE3"/>
<rect x="1382.3" y="91" width="10.8" height="2.9" fill="#FB9A99"/>
<rect x="1382.3" y="93.9" width="10.8" height="21.5" fill="#FF7F00"/>
<rect x="1382.3" y="115.3" width="10.8" height="4.9" fill="#FDBF6F"/>
<rect x="1382.3" y="120.2" width="10.8" height="70.7" fill="#33A02C"/>
<rect x="1382.3" y="190.9" width="10.8" height="15.5" fill="#B2DF8A"/>
<rect x="1382.3" y="206.4" width="10.8" height="266.4" fill="#1F78B4"/>
<rect x="1382.3" y="472.8" width="10.8" height="105.7" fill="#A6CEE3"/>
<rect x="1392.8" y="91" width="10.8" height="7.7" fill="#FFFF99"/>
<rect x="1392.8" y="98.7" width="10.8" height="4.9" fill="#33A02C"/>
<rect x="1392.8" y="103.6" width="10.8" height="17.7" fill="#B2DF8A"/>
<rect x="1392.8" y="121.3" width="10.8" height="357.7" fill="#1F78B4"/>
<rect x="1392.8" y="479" width="10.8" height="99.5" fill="#A6CEE3"/>
<rect x="1403.3" y="91" width="10.8" height="3.6" fill="#6A3D9A"/>
<rect x="1403.3" y="94.6" width="10.8" height="20.8" fill="#33A02C"/>
<rect x="1403.3" y="115.3" width="10.8" height="2.1" fill="#B2DF8A"/>
<rect x="1403.3" y="117.4" width="10.8" height="374" fill="#1F78B4"/>
<rect x="1403.3" y="491.5" width="10.8" height="87" fill="#A6CEE3"/>
<rect x="1413.8" y="91" width="10.8" height="4.9" fill="#FF7F00"/>
<rect x="1413.8" y="95.9" width="10.8" height="9.7" fill="#FB9A99"/>
<rect x="1413.8" y="105.6" width="10.8" height="22.9" fill="#33A02C"/>
<rect x="1413.8" y="128.5" width="10.8" height="2.8" fill="#B2DF8A"/>
<rect x="1413.8" y="131.3" width="10.8" height="382.4" fill="#1F78B4"/>
<rect x="1413.8" y="513.6" width="10.8" height="64.9" fill="#A6CEE3"/>
<rect x="1424.3" y="91" width="10.8" height="2.2" fill="#6A3D9A"/>
<rect x="1424.3" y="93.2" width="10.8" height="6.2" fill="#CAB2D6"/>
<rect x="1424.3" y="99.4" width="10.8" height="26.3" fill="#FF7F00"/>
<rect x="1424.3" y="125.7" width="10.8" height="7.6" fill="#FDBF6F"/>
<rect x="1424.3" y="133.4" width="10.8" height="88.7" fill="#33A02C"/>
<rect x="1424.3" y="222.1" width="10.8" height="8.3" fill="#B2DF8A"/>
<rect x="1424.3" y="230.4" width="10.8" height="295.7" fill="#1F78B4"/>
<rect x="1424.3" y="526.1" width="10.8" height="52.4" fill="#A6CEE3"/>
<rect x="1434.8" y="91" width="10.8" height="4.2" fill="#FB9A99"/>
<rect x="1434.8" y="95.2" width="10.8" height="4.2" fill="#FF7F00"/>
<rect x="1434.8" y="99.4" width="10.8" height="40.2" fill="#FDBF6F"/>
<rect x="1434.8" y="139.6" width="10.8" height="8.3" fill="#33A02C"/>
<rect x="1434.8" y="147.9" width="10.8" height="8" fill="#B2DF8A"/>
<rect x="1434.8" y="155.9" width="10.8" height="378.1" fill="#1F78B4"/>
<rect x="1434.8" y="534" width="10.8" height="44.5" fill="#A6CEE3"/>
<rect x="1445.3" y="91" width="10.8" height="8.4" fill="#33A02C"/>
<rect x="1445.3" y="99.4" width="10.8" height="416.3" fill="#B2DF8A"/>
<rect x="1445.3" y="515.7" width="10.8" height="24.3" fill="#1F78B4"/>
<rect x="1445.3" y="540" width="10.8" height="38.5" fill="#A6CEE3"/>
<rect x="1455.8" y="91" width="10.8" height="61.1" fill="#CAB2D6"/>
<rect x="1455.8" y="152.1" width="10.8" height="2.1" fill="#E31A1C"/>
<rect x="1455.8" y="154.1" width="10.8" height="371.3" fill="#B2DF8A"/>
<rect x="1455.8" y="525.4" width="10.8" height="40.9" fill="#1F78B4"/>
<rect x="1455.8" y="566.3" width="10.8" height="12.2" fill="#A6CEE3"/>
<rect x="1466.3" y="91" width="10.8" height="1.8" fill="#33A02C"/>
<rect x="1466.3" y="92.8" width="10.8" height="472.9" fill="#B2DF8A"/>
<rect x="1466.3" y="565.6" width="10.8" height="5.5" fill="#1F78B4"/>
<rect x="1466.3" y="571.2" width="10.8" height="7.3" fill="#A6CEE3"/>
<rect x="1476.8" y="91" width="10.8" height="77.7" fill="#FF7F00"/>
<rect x="1476.8" y="168.7" width="10.8" height="3.5" fill="#FDBF6F"/>
<rect x="1476.8" y="172.2" width="10.8" height="34.6" fill="#33A02C"/>
<rect x="1476.8" y="206.8" width="10.8" height="2.1" fill="#B2DF8A"/>
<rect x="1476.8" y="208.9" width="10.8" height="366.4" fill="#1F78B4"/>
<rect x="1476.8" y="575.3" width="10.8" height="3.2" fill="#A6CEE3"/>
<path d="M1025.5 91V578.5M1036 91V578.5M1046.5 91V578.5M1057 91V578.5M1067.5 91V578.5M1078 91V578.5M1088.5 91V578.5M1099 91V578.5M1109.5 91V578.5M1120 91V578.5M1130.5 91V578.5M1140.9 91V578.5M1151.4 91V578.5M1161.9 91V578.5M1172.4 91V578.5M1182.9 91V578.5M1193.4 91V578.5M1203.9 91V578.5M1214.4 91V578.5M1224.9 91V578.5M1235.4 91V578.5M1245.9 91V578.5M1256.4 91V578.5M1266.9 91V578.5M1277.4 91V578.5M1287.9 91V578.5M1298.4 91V578.5M1308.9 91V578.5M1319.4 91V578.5M1329.9 91V578.5M1340.4 91V578.5M1350.9 91V578.5M1361.4 91V578.5M1371.8 91V578.5M1382.3 91V578.5M1392.8 91V578.5M1403.3 91V578.5M1413.8 91V578.5M1424.3 91V578.5M1434.8 91V578.5M1445.3 91V578.5M1455.8 91V578.5M1466.3 91V578.5M1476.8 91V578.5" stroke="#fff" stroke-opacity="0.6" stroke-width="1.6" fill="none"/>
<text x="1718.5" y="71.6" font-size="34.4" text-anchor="middle">ICU Day 7</text>
<rect x="1494.4" y="91" width="31.1" height="3.5" fill="#E31A1C"/>
<rect x="1494.4" y="94.5" width="31.1" height="1.4" fill="#FB9A99"/>
<rect x="1494.4" y="96" width="31.1" height="36" fill="#1F78B4"/>
<rect x="1494.4" y="132" width="31.1" height="446.5" fill="#A6CEE3"/>
<rect x="1525.2" y="91" width="31.1" height="4.1" fill="#33A02C"/>
<rect x="1525.2" y="95.1" width="31.1" height="2.3" fill="#B2DF8A"/>
<rect x="1525.2" y="97.4" width="31.1" height="35.4" fill="#1F78B4"/>
<rect x="1525.2" y="132.8" width="31.1" height="445.7" fill="#A6CEE3"/>
<rect x="1556" y="91" width="31.1" height="2.4" fill="#CAB2D6"/>
<rect x="1556" y="93.4" width="31.1" height="96.1" fill="#1F78B4"/>
<rect x="1556" y="189.5" width="31.1" height="389" fill="#A6CEE3"/>
<rect x="1586.8" y="91" width="31.1" height="8.7" fill="#CAB2D6"/>
<rect x="1586.8" y="99.7" width="31.1" height="8.6" fill="#33A02C"/>
<rect x="1586.8" y="108.4" width="31.1" height="56.7" fill="#B2DF8A"/>
<rect x="1586.8" y="165.1" width="31.1" height="70.5" fill="#1F78B4"/>
<rect x="1586.8" y="235.6" width="31.1" height="342.9" fill="#A6CEE3"/>
<rect x="1617.6" y="91" width="31.1" height="1.5" fill="#CAB2D6"/>
<rect x="1617.6" y="92.5" width="31.1" height="2.6" fill="#33A02C"/>
<rect x="1617.6" y="95.1" width="31.1" height="20.1" fill="#B2DF8A"/>
<rect x="1617.6" y="115.3" width="31.1" height="126.1" fill="#1F78B4"/>
<rect x="1617.6" y="241.3" width="31.1" height="337.2" fill="#A6CEE3"/>
<rect x="1648.4" y="91" width="31.1" height="5" fill="#6A3D9A"/>
<rect x="1648.4" y="96" width="31.1" height="9.5" fill="#CAB2D6"/>
<rect x="1648.4" y="105.5" width="31.1" height="6.3" fill="#FDBF6F"/>
<rect x="1648.4" y="111.8" width="31.1" height="4.3" fill="#33A02C"/>
<rect x="1648.4" y="116.1" width="31.1" height="11.5" fill="#B2DF8A"/>
<rect x="1648.4" y="127.6" width="31.1" height="145.9" fill="#1F78B4"/>
<rect x="1648.4" y="273.6" width="31.1" height="304.9" fill="#A6CEE3"/>
<rect x="1679.2" y="91" width="31.1" height="7.9" fill="#CAB2D6"/>
<rect x="1679.2" y="98.9" width="31.1" height="10.1" fill="#FDBF6F"/>
<rect x="1679.2" y="108.9" width="31.1" height="36" fill="#B2DF8A"/>
<rect x="1679.2" y="144.9" width="31.1" height="152.6" fill="#1F78B4"/>
<rect x="1679.2" y="297.5" width="31.1" height="281" fill="#A6CEE3"/>
<rect x="1710" y="91" width="31.1" height="35.8" fill="#FF7F00"/>
<rect x="1710" y="126.8" width="31.1" height="30.5" fill="#33A02C"/>
<rect x="1710" y="157.3" width="31.1" height="17.3" fill="#B2DF8A"/>
<rect x="1710" y="174.6" width="31.1" height="141.6" fill="#1F78B4"/>
<rect x="1710" y="316.2" width="31.1" height="262.3" fill="#A6CEE3"/>
<rect x="1740.8" y="91" width="31.1" height="5" fill="#FF7F00"/>
<rect x="1740.8" y="96" width="31.1" height="17.8" fill="#FDBF6F"/>
<rect x="1740.8" y="113.8" width="31.1" height="41.2" fill="#33A02C"/>
<rect x="1740.8" y="155" width="31.1" height="81.2" fill="#B2DF8A"/>
<rect x="1740.8" y="236.2" width="31.1" height="159.2" fill="#1F78B4"/>
<rect x="1740.8" y="395.3" width="31.1" height="183.2" fill="#A6CEE3"/>
<rect x="1771.6" y="91" width="31.1" height="18.5" fill="#33A02C"/>
<rect x="1771.6" y="109.5" width="31.1" height="31.7" fill="#B2DF8A"/>
<rect x="1771.6" y="141.2" width="31.1" height="277.8" fill="#1F78B4"/>
<rect x="1771.6" y="418.9" width="31.1" height="159.6" fill="#A6CEE3"/>
<rect x="1802.4" y="91" width="31.1" height="20.2" fill="#FF7F00"/>
<rect x="1802.4" y="111.2" width="31.1" height="10.9" fill="#FDBF6F"/>
<rect x="1802.4" y="122.2" width="31.1" height="25.6" fill="#33A02C"/>
<rect x="1802.4" y="147.8" width="31.1" height="14.4" fill="#B2DF8A"/>
<rect x="1802.4" y="162.2" width="31.1" height="269.1" fill="#1F78B4"/>
<rect x="1802.4" y="431.3" width="31.1" height="147.2" fill="#A6CEE3"/>
<rect x="1833.2" y="91" width="31.1" height="3" fill="#6A3D9A"/>
<rect x="1833.2" y="94" width="31.1" height="3.5" fill="#CAB2D6"/>
<rect x="1833.2" y="97.4" width="31.1" height="16.1" fill="#FB9A99"/>
<rect x="1833.2" y="113.5" width="31.1" height="81.7" fill="#33A02C"/>
<rect x="1833.2" y="195.3" width="31.1" height="2.9" fill="#B2DF8A"/>
<rect x="1833.2" y="198.2" width="31.1" height="238.3" fill="#1F78B4"/>
<rect x="1833.2" y="436.5" width="31.1" height="142" fill="#A6CEE3"/>
<rect x="1864" y="91" width="31.1" height="144.6" fill="#33A02C"/>
<rect x="1864" y="235.6" width="31.1" height="5.2" fill="#B2DF8A"/>
<rect x="1864" y="240.8" width="31.1" height="299.1" fill="#1F78B4"/>
<rect x="1864" y="539.8" width="31.1" height="38.7" fill="#A6CEE3"/>
<rect x="1894.8" y="91" width="31.1" height="2.1" fill="#33A02C"/>
<rect x="1894.8" y="93.1" width="31.1" height="19.3" fill="#B2DF8A"/>
<rect x="1894.8" y="112.4" width="31.1" height="454.2" fill="#1F78B4"/>
<rect x="1894.8" y="566.6" width="31.1" height="11.9" fill="#A6CEE3"/>
<rect x="1925.6" y="91" width="31.1" height="110.6" fill="#FF7F00"/>
<rect x="1925.6" y="201.6" width="31.1" height="143.3" fill="#33A02C"/>
<rect x="1925.6" y="345" width="31.1" height="5.8" fill="#B2DF8A"/>
<rect x="1925.6" y="350.7" width="31.1" height="228.3" fill="#1F78B4"/>
<path d="M1525.2 91V578.5M1556 91V578.5M1586.8 91V578.5M1617.6 91V578.5M1648.4 91V578.5M1679.2 91V578.5M1710 91V578.5M1740.8 91V578.5M1771.6 91V578.5M1802.4 91V578.5M1833.2 91V578.5M1864 91V578.5M1894.8 91V578.5M1925.6 91V578.5" stroke="#fff" stroke-opacity="0.6" stroke-width="1.3" fill="none"/>
<text x="1968" y="92.5" font-size="18" fill="#111">Phylum</text>
<rect x="1968.2" y="104.5" width="27.8" height="27.6" fill="#A6CEE3"/>
<text x="2005.7" y="123.7" font-size="14.7" fill="#222">Bacteroidota</text>
<rect x="1968.2" y="133.3" width="27.8" height="27.6" fill="#1F78B4"/>
<text x="2005.7" y="152.5" font-size="14.7" fill="#222">Firmicutes</text>
<rect x="1968.2" y="162.1" width="27.8" height="27.6" fill="#B2DF8A"/>
<text x="2005.7" y="181.3" font-size="14.7" fill="#222">Proteobacteria</text>
<rect x="1968.2" y="190.9" width="27.8" height="27.6" fill="#33A02C"/>
<text x="2005.7" y="210.1" font-size="14.7" fill="#222">Actinobacteriota</text>
<rect x="1968.2" y="219.7" width="27.8" height="27.6" fill="#FB9A99"/>
<text x="2005.7" y="238.9" font-size="14.7" fill="#222">Campylobacterota</text>
<rect x="1968.2" y="248.5" width="27.8" height="27.6" fill="#E31A1C"/>
<text x="2005.7" y="267.7" font-size="14.7" fill="#222">Fusobacteriota</text>
<rect x="1968.2" y="277.3" width="27.8" height="27.6" fill="#FDBF6F"/>
<text x="2005.7" y="296.5" font-size="14.7" fill="#222">Verrucomicrobiota</text>
<rect x="1968.2" y="306.1" width="27.8" height="27.6" fill="#FF7F00"/>
<text x="2005.7" y="325.3" font-size="14.7" fill="#222">Euryarchaeota</text>
<rect x="1968.2" y="334.9" width="27.8" height="27.6" fill="#CAB2D6"/>
<text x="2005.7" y="354.1" font-size="14.7" fill="#222">Desulfobacterota</text>
<rect x="1968.2" y="363.7" width="27.8" height="27.6" fill="#6A3D9A"/>
<text x="2005.7" y="382.9" font-size="14.7" fill="#222">Synergistota</text>
<rect x="1968.2" y="392.5" width="27.8" height="27.6" fill="#FFFF99"/>
<text x="2005.7" y="411.7" font-size="14.7" fill="#222">Cyanobacteria</text>
<rect x="1968.2" y="421.3" width="27.8" height="27.6" fill="#B15928"/>
<text x="2005.7" y="440.5" font-size="14.7" fill="#222">Spirochaetota</text>
<rect x="1968.2" y="450.1" width="27.8" height="27.6" fill="#00FFFF"/>
<text x="2005.7" y="469.3" font-size="14.7" fill="#222">Elusimicrobiota</text>
<rect x="1968.2" y="478.9" width="27.8" height="27.6" fill="#1B9E77"/>
<text x="2005.7" y="498.1" font-size="14.7" fill="#222">Thermoplasmatota</text>
<rect x="1968.2" y="507.7" width="27.8" height="27.6" fill="#D95F02"/>
<text x="2005.7" y="526.9" font-size="14.7" fill="#222">Bacteria Kingdom</text>
<rect x="1968.2" y="536.5" width="27.8" height="27.6" fill="#7570B3"/>
<text x="2005.7" y="555.7" font-size="14.7" fill="#222">Patescibacteria</text>
</g>
<g id="panelB">
<text transform="translate(37.5 702) scale(0.9 1)" font-size="66" stroke="#000" stroke-width="1.2">B</text>
<g id="bp-Lachnospiraceae">
<text x="234.4" y="703.5" font-size="20.9" font-weight="bold" text-anchor="middle">Lachnospiraceae</text>
<text x="83.4" y="970" font-size="17.5" font-weight="bold" text-anchor="middle" transform="rotate(-90 83.4 970)" stroke="#000" stroke-width="0.7">Relative Abundance (%)</text>
<rect x="143.2" y="1024.7" width="30" height="73.5" fill="#8c8c8c" stroke="#000" stroke-width="2.9"/>
<path d="M143.2 1058.2H173.2" stroke="#000" stroke-width="2.9"/>
<rect x="193.7" y="1074" width="30" height="38.4" fill="#c8ecc8" stroke="#000" stroke-width="2.9"/>
<path d="M193.7 1100.3H223.7" stroke="#000" stroke-width="2.9"/>
<rect x="244.5" y="1091.5" width="30" height="23.9" fill="#c8ecc8" stroke="#000" stroke-width="2.9"/>
<path d="M244.5 1106.6H274.5" stroke="#000" stroke-width="2.9"/>
<rect x="295.6" y="1039.8" width="30" height="67.4" fill="#c8ecc8" stroke="#000" stroke-width="2.9"/>
<path d="M295.6 1087H325.6" stroke="#000" stroke-width="2.9"/>
<path d="M208.7 985.7L259.5 983.2M208.7 989.3L259.5 1039.2M259.5 1039.2L310.6 1093.6M208.7 1010.5L259.5 1040.7M208.7 1036.2L259.5 1077M259.5 1077L310.6 1087M208.7 1043.7L259.5 1117.8M208.7 1054.3L259.5 1093.6M259.5 1093.6L310.6 1051.3M208.7 1066.4L259.5 1111.8M259.5 1117.8L310.6 847.2M259.5 1087.6L310.6 1013.5M259.5 1099.7L310.6 1037.7M259.5 1114.8L310.6 1016.5M259.5 1036.2L310.6 1119.3M259.5 1077L310.6 1108.8M208.7 987.8L259.5 1078.5M208.7 1072.5L259.5 1036.2M259.5 1036.2L310.6 1074.6M208.7 1079.8L259.5 1116.6M208.7 1110.9L259.5 1098.3M208.7 1098.7L259.5 1104.8M208.7 1105.9L259.5 1115M208.7 1077.2L259.5 1088.9M208.7 1114L259.5 1104.3M208.7 1110.8L259.5 1087.2M208.7 1096.4L259.5 1113.1M208.7 1085.2L259.5 1119.4M208.7 1116.8L259.5 1089.1M208.7 1072.2L259.5 1107.7M208.7 1118.3L259.5 1102.6M208.7 1084.6L259.5 1104M208.7 1072.5L259.5 1097.1M208.7 1096L259.5 1106.3M208.7 1085.5L259.5 1097.5M208.7 1084.7L259.5 1105.2M208.7 1088.5L259.5 1088.5M208.7 1114.1L259.5 1108.2M208.7 1105.5L259.5 1095.8M208.7 1120.5L259.5 1117M208.7 1078.9L259.5 1101M208.7 1109L259.5 1112.8M208.7 1118.2L259.5 1104M208.7 1113.7L259.5 1111.6M208.7 1089.2L259.5 1109.1M208.7 1116L259.5 1116.6M208.7 1099.2L259.5 1109.2M208.7 1072.9L259.5 1097.9M208.7 1112.3L259.5 1103.7M259.5 1095.3L310.6 1119.3M259.5 1117.6L310.6 1087M259.5 1091.8L310.6 1119.3M259.5 1092.7L310.6 1037.7M259.5 1107.1L310.6 1095.1M259.5 1102.3L310.6 1013.5M259.5 1105.5L310.6 1074.6M259.5 1112.5L310.6 1095.1" stroke="#747474" stroke-width="0.9" fill="none"/>
<path d="M158.2 947.6V1024.7M158.2 1098.2V1114.8M148.2 947.6H168.2M148.2 1114.8H168.2" stroke="#000" stroke-width="2.6" fill="none"/>
<path d="M208.7 985.7V1074M208.7 1112.4V1120.8M198.7 985.7H218.7M198.7 1120.8H218.7" stroke="#000" stroke-width="2.6" fill="none"/>
<path d="M259.5 983.2V1091.5M259.5 1115.4V1120.8M249.5 983.2H269.5M249.5 1120.8H269.5" stroke="#000" stroke-width="2.6" fill="none"/>
<path d="M310.6 847.2V1039.8M310.6 1107.2V1120.8M300.6 847.2H320.6M300.6 1120.8H320.6" stroke="#000" stroke-width="2.6" fill="none"/>
<g fill="#000"><circle cx="158.2" cy="947.6" r="4.4"/><circle cx="158.2" cy="1013.5" r="4.4"/><circle cx="158.2" cy="1021" r="4.4"/><circle cx="158.2" cy="1045.2" r="4.4"/><circle cx="158.2" cy="1054.3" r="4.4"/><circle cx="158.2" cy="1058.9" r="4.4"/><circle cx="158.2" cy="1067.9" r="4.4"/><circle cx="158.2" cy="1083.6" r="4.4"/><circle cx="158.2" cy="1099.7" r="4.4"/><circle cx="158.2" cy="1108.8" r="4.4"/><circle cx="158.2" cy="1111.8" r="4.4"/><circle cx="158.2" cy="1114.8" r="4.4"/><circle cx="208.7" cy="985.7" r="4.4"/><circle cx="208.7" cy="989.3" r="4.4"/><circle cx="208.7" cy="1010.5" r="4.4"/><circle cx="208.7" cy="1036.2" r="4.4"/><circle cx="208.7" cy="1043.7" r="4.4"/><circle cx="208.7" cy="1054.3" r="4.4"/><circle cx="208.7" cy="1066.4" r="4.4"/><circle cx="208.7" cy="1072.5" r="4.4"/><circle cx="208.7" cy="1077" r="4.4"/><circle cx="208.7" cy="1087.6" r="4.4"/><circle cx="208.7" cy="1088.7" r="4.4"/><circle cx="208.7" cy="1089.9" r="4.4"/><circle cx="208.7" cy="1091" r="4.4"/><circle cx="208.7" cy="1092.2" r="4.4"/><circle cx="208.7" cy="1093.3" r="4.4"/><circle cx="208.7" cy="1094.5" r="4.4"/><circle cx="208.7" cy="1095.6" r="4.4"/><circle cx="208.7" cy="1096.8" r="4.4"/><circle cx="208.7" cy="1097.9" r="4.4"/><circle cx="208.7" cy="1099.1" r="4.4"/><circle cx="208.7" cy="1100.2" r="4.4"/><circle cx="208.7" cy="1101.3" r="4.4"/><circle cx="208.7" cy="1102.5" r="4.4"/><circle cx="208.7" cy="1103.6" r="4.4"/><circle cx="208.7" cy="1104.8" r="4.4"/><circle cx="208.7" cy="1105.9" r="4.4"/><circle cx="208.7" cy="1107.1" r="4.4"/><circle cx="208.7" cy="1108.2" r="4.4"/><circle cx="208.7" cy="1109.4" r="4.4"/><circle cx="208.7" cy="1110.5" r="4.4"/><circle cx="208.7" cy="1111.7" r="4.4"/><circle cx="208.7" cy="1112.8" r="4.4"/><circle cx="208.7" cy="1114" r="4.4"/><circle cx="208.7" cy="1115.1" r="4.4"/><circle cx="208.7" cy="1116.3" r="4.4"/><circle cx="208.7" cy="1117.4" r="4.4"/><circle cx="208.7" cy="1118.6" r="4.4"/><circle cx="208.7" cy="1119.7" r="4.4"/><circle cx="208.7" cy="1120.8" r="4.4"/><circle cx="259.5" cy="983.2" r="4.4"/><circle cx="259.5" cy="986.3" r="4.4"/><circle cx="259.5" cy="1036.2" r="4.4"/><circle cx="259.5" cy="1040.7" r="4.4"/><circle cx="259.5" cy="1077" r="4.4"/><circle cx="259.5" cy="1087.6" r="4.4"/><circle cx="259.5" cy="1092.1" r="4.4"/><circle cx="259.5" cy="1093.1" r="4.4"/><circle cx="259.5" cy="1094.1" r="4.4"/><circle cx="259.5" cy="1095.1" r="4.4"/><circle cx="259.5" cy="1096.1" r="4.4"/><circle cx="259.5" cy="1097.1" r="4.4"/><circle cx="259.5" cy="1098.1" r="4.4"/><circle cx="259.5" cy="1099.1" r="4.4"/><circle cx="259.5" cy="1100" r="4.4"/><circle cx="259.5" cy="1101" r="4.4"/><circle cx="259.5" cy="1102" r="4.4"/><circle cx="259.5" cy="1103" r="4.4"/><circle cx="259.5" cy="1104" r="4.4"/><circle cx="259.5" cy="1105" r="4.4"/><circle cx="259.5" cy="1106" r="4.4"/><circle cx="259.5" cy="1107" r="4.4"/><circle cx="259.5" cy="1108" r="4.4"/><circle cx="259.5" cy="1109" r="4.4"/><circle cx="259.5" cy="1109.9" r="4.4"/><circle cx="259.5" cy="1110.9" r="4.4"/><circle cx="259.5" cy="1111.9" r="4.4"/><circle cx="259.5" cy="1112.9" r="4.4"/><circle cx="259.5" cy="1113.9" r="4.4"/><circle cx="259.5" cy="1114.9" r="4.4"/><circle cx="259.5" cy="1115.9" r="4.4"/><circle cx="259.5" cy="1116.9" r="4.4"/><circle cx="259.5" cy="1117.9" r="4.4"/><circle cx="259.5" cy="1118.9" r="4.4"/><circle cx="259.5" cy="1119.9" r="4.4"/><circle cx="259.5" cy="1120.8" r="4.4"/><circle cx="310.6" cy="847.2" r="4.4"/><circle cx="310.6" cy="1013.5" r="4.4"/><circle cx="310.6" cy="1016.5" r="4.4"/><circle cx="310.6" cy="1037.7" r="4.4"/><circle cx="310.6" cy="1051.3" r="4.4"/><circle cx="310.6" cy="1074.6" r="4.4"/><circle cx="310.6" cy="1087" r="4.4"/><circle cx="310.6" cy="1095.1" r="4.4"/><circle cx="310.6" cy="1108.8" r="4.4"/><circle cx="310.6" cy="1119.3" r="4.4"/></g>
<path d="M124.9 817.9V1120.8" stroke="#000" stroke-width="2.5" fill="none"/>
<path d="M116.4 1120.8H343.2" stroke="#000" stroke-width="2.5" fill="none"/>
<text x="111.7" y="825.4" font-size="16.3" font-weight="bold" text-anchor="end" stroke="#000" stroke-width="0.4">60</text>
<text x="111.7" y="925.9" font-size="16.3" font-weight="bold" text-anchor="end" stroke="#000" stroke-width="0.4">40</text>
<text x="111.7" y="1026.5" font-size="16.3" font-weight="bold" text-anchor="end" stroke="#000" stroke-width="0.4">20</text>
<text x="111.7" y="1127" font-size="16.3" font-weight="bold" text-anchor="end" stroke="#000" stroke-width="0.4">0</text>
<path d="M116.4 819.2H124.9M116.4 919.7H124.9M116.4 1020.3H124.9M116.4 1120.8H124.9M158.2 1120.8V1130.3M208.7 1120.8V1130.3M259.5 1120.8V1130.3M310.6 1120.8V1130.3" stroke="#000" stroke-width="2.5" fill="none"/>
<g transform="translate(157.2 1145.3) rotate(-45)" font-size="16.7" font-weight="bold" text-anchor="end" stroke="#000" stroke-width="0.45"><text x="-1" y="-1.5">Healthy</text><text x="-1" y="18.5">Volunteers</text></g>
<g transform="translate(207.7 1141.3) rotate(-45)" font-size="16.7" font-weight="bold" text-anchor="end" stroke="#000" stroke-width="0.45"><text x="0" y="6">ICU Day 1</text></g>
<g transform="translate(258.5 1141.3) rotate(-45)" font-size="16.7" font-weight="bold" text-anchor="end" stroke="#000" stroke-width="0.45"><text x="0" y="6">ICU Day 3</text></g>
<g transform="translate(309.6 1141.3) rotate(-45)" font-size="16.7" font-weight="bold" text-anchor="end" stroke="#000" stroke-width="0.45"><text x="0" y="6">ICU Day 7</text></g>
<path d="M158.2 786.7V772.2H259.5V969.6" stroke="#000" stroke-width="2.4" fill="none"/>
<text x="209.3" y="760.9" font-size="17.6" text-anchor="middle" stroke="#000" stroke-width="0.25">p = 0.0010</text>
<path d="M158.2 934V820.5H208.7V972.1" stroke="#000" stroke-width="2.4" fill="none"/>
<text x="183.9" y="809.2" font-size="17.6" text-anchor="middle" stroke="#000" stroke-width="0.25">p = 0.0063</text>
</g>
<g id="bp-Bifidobacteriaceae">
<text x="611.7" y="791.9" font-size="20.9" font-weight="bold" text-anchor="middle">Bifidobacteriaceae</text>
<text x="460.7" y="970.9" font-size="17.5" font-weight="bold" text-anchor="middle" transform="rotate(-90 460.7 970.9)" stroke="#000" stroke-width="0.7">Relative Abundance (%)</text>
<rect x="520.8" y="1104.9" width="30" height="13.6" fill="#8c8c8c" stroke="#000" stroke-width="2.9"/>
<path d="M520.8 1117H550.8" stroke="#000" stroke-width="2.9"/>
<rect x="571.6" y="1113.4" width="30" height="6.7" fill="#c8ecc8" stroke="#000" stroke-width="2.9"/>
<path d="M571.6 1118.5H601.6" stroke="#000" stroke-width="2.9"/>
<rect x="622.4" y="1095.2" width="30" height="22.4" fill="#c8ecc8" stroke="#000" stroke-width="2.9"/>
<path d="M622.4 1115.5H652.4" stroke="#000" stroke-width="2.9"/>
<rect x="672.9" y="1068.6" width="30" height="49" fill="#c8ecc8" stroke="#000" stroke-width="2.9"/>
<path d="M672.9 1116.4H702.9" stroke="#000" stroke-width="2.9"/>
<path d="M586.6 947.3L637.4 1088.3M586.6 1026.3L637.4 1109.4M586.6 1041.4L637.4 1027.2M637.4 1027.2L687.9 1118.5M586.6 1061.7L637.4 1115.5M586.6 1115.5L637.4 1038.4M586.6 1117L637.4 1044.4M586.6 1118.5L637.4 1058M586.6 1118.5L637.4 1085.2M637.4 1085.2L687.9 987.9M637.4 1115.5L687.9 854.8M637.4 1090.7L687.9 994.5M637.4 1027.2L687.9 1102.8M637.4 1058L687.9 1118.5M586.6 1091.3L637.4 1118.5M637.4 1118.5L687.9 1077.7M586.6 1098.9L637.4 1120M586.6 1104.9L637.4 1112.5M586.6 1120L637.4 1090.7M586.6 1109.4L637.4 1044.4M637.4 1044.4L687.9 1120M586.6 1119.1L637.4 1038.4M637.4 1038.4L687.9 1115.5M586.6 1120.2L637.4 1119.4M586.6 1110L637.4 1094.8M586.6 1119L637.4 1114.1M586.6 1117.4L637.4 1102.4M586.6 1116.7L637.4 1110.8M586.6 1116.5L637.4 1097.5M586.6 1114.8L637.4 1104.9M586.6 1117.9L637.4 1120.5M586.6 1120.1L637.4 1109.1M586.6 1115L637.4 1101.1M586.6 1109.7L637.4 1092.4M586.6 1115.2L637.4 1102.7M637.4 1104.5L687.9 1120M637.4 1097.8L687.9 1077.7M637.4 1100.1L687.9 1068.6M637.4 1098.2L687.9 1077.7M637.4 1096.8L687.9 1120" stroke="#747474" stroke-width="0.9" fill="none"/>
<path d="M535.8 1027.8V1104.9M535.8 1118.5V1120.6M525.8 1027.8H545.8M525.8 1120.6H545.8" stroke="#000" stroke-width="2.6" fill="none"/>
<path d="M586.6 947.3V1113.4M586.6 1120V1120.6M576.6 947.3H596.6M576.6 1120.6H596.6" stroke="#000" stroke-width="2.6" fill="none"/>
<path d="M637.4 1027.2V1095.2M637.4 1117.6V1120.6M627.4 1027.2H647.4M627.4 1120.6H647.4" stroke="#000" stroke-width="2.6" fill="none"/>
<path d="M687.9 854.8V1068.6M687.9 1117.6V1120.6M677.9 854.8H697.9M677.9 1120.6H697.9" stroke="#000" stroke-width="2.6" fill="none"/>
<g fill="#000"><circle cx="535.8" cy="1027.8" r="4.4"/><circle cx="535.8" cy="1071.6" r="4.4"/><circle cx="535.8" cy="1098.2" r="4.4"/><circle cx="535.8" cy="1109.4" r="4.4"/><circle cx="535.8" cy="1114" r="4.4"/><circle cx="535.8" cy="1117" r="4.4"/><circle cx="535.8" cy="1118.5" r="4.4"/><circle cx="535.8" cy="1120" r="4.4"/><circle cx="586.6" cy="947.3" r="4.4"/><circle cx="586.6" cy="1026.3" r="4.4"/><circle cx="586.6" cy="1041.4" r="4.4"/><circle cx="586.6" cy="1061.7" r="4.4"/><circle cx="586.6" cy="1091.3" r="4.4"/><circle cx="586.6" cy="1098.9" r="4.4"/><circle cx="586.6" cy="1104.9" r="4.4"/><circle cx="586.6" cy="1109.4" r="4.4"/><circle cx="586.6" cy="1112.5" r="4.4"/><circle cx="586.6" cy="1113.2" r="4.4"/><circle cx="586.6" cy="1113.9" r="4.4"/><circle cx="586.6" cy="1114.7" r="4.4"/><circle cx="586.6" cy="1115.4" r="4.4"/><circle cx="586.6" cy="1116.2" r="4.4"/><circle cx="586.6" cy="1116.9" r="4.4"/><circle cx="586.6" cy="1117.7" r="4.4"/><circle cx="586.6" cy="1118.4" r="4.4"/><circle cx="586.6" cy="1119.1" r="4.4"/><circle cx="586.6" cy="1119.9" r="4.4"/><circle cx="586.6" cy="1120.6" r="4.4"/><circle cx="637.4" cy="1027.2" r="4.4"/><circle cx="637.4" cy="1038.4" r="4.4"/><circle cx="637.4" cy="1044.4" r="4.4"/><circle cx="637.4" cy="1058" r="4.4"/><circle cx="637.4" cy="1085.2" r="4.4"/><circle cx="637.4" cy="1090.7" r="4.4"/><circle cx="637.4" cy="1109.4" r="4.4"/><circle cx="637.4" cy="1112.5" r="4.4"/><circle cx="637.4" cy="1113.2" r="4.4"/><circle cx="637.4" cy="1113.9" r="4.4"/><circle cx="637.4" cy="1114.7" r="4.4"/><circle cx="637.4" cy="1115.4" r="4.4"/><circle cx="637.4" cy="1116.2" r="4.4"/><circle cx="637.4" cy="1116.9" r="4.4"/><circle cx="637.4" cy="1117.7" r="4.4"/><circle cx="637.4" cy="1118.4" r="4.4"/><circle cx="637.4" cy="1119.1" r="4.4"/><circle cx="637.4" cy="1119.9" r="4.4"/><circle cx="637.4" cy="1120.6" r="4.4"/><circle cx="687.9" cy="854.8" r="4.4"/><circle cx="687.9" cy="987.9" r="4.4"/><circle cx="687.9" cy="994.5" r="4.4"/><circle cx="687.9" cy="1068.6" r="4.4"/><circle cx="687.9" cy="1077.7" r="4.4"/><circle cx="687.9" cy="1102.8" r="4.4"/><circle cx="687.9" cy="1118.5" r="4.4"/><circle cx="687.9" cy="1120" r="4.4"/></g>
<path d="M502.8 820V1120.6" stroke="#000" stroke-width="2.5" fill="none"/>
<path d="M493.8 1120.6H721.2" stroke="#000" stroke-width="2.5" fill="none"/>
<text x="489.6" y="827.4" font-size="16.3" font-weight="bold" text-anchor="end" stroke="#000" stroke-width="0.4">30</text>
<text x="489.6" y="927.2" font-size="16.3" font-weight="bold" text-anchor="end" stroke="#000" stroke-width="0.4">20</text>
<text x="489.6" y="1027" font-size="16.3" font-weight="bold" text-anchor="end" stroke="#000" stroke-width="0.4">10</text>
<text x="489.6" y="1126.8" font-size="16.3" font-weight="bold" text-anchor="end" stroke="#000" stroke-width="0.4">0</text>
<path d="M494.3 821.2H502.8M494.3 921H502.8M494.3 1020.8H502.8M494.3 1120.6H502.8M535.8 1120.6V1130.1M586.6 1120.6V1130.1M637.4 1120.6V1130.1M687.9 1120.6V1130.1" stroke="#000" stroke-width="2.5" fill="none"/>
<g transform="translate(534.8 1145.1) rotate(-45)" font-size="16.7" font-weight="bold" text-anchor="end" stroke="#000" stroke-width="0.45"><text x="-1" y="-1.5">Healthy</text><text x="-1" y="18.5">Volunteers</text></g>
<g transform="translate(585.6 1141.1) rotate(-45)" font-size="16.7" font-weight="bold" text-anchor="end" stroke="#000" stroke-width="0.45"><text x="0" y="6">ICU Day 1</text></g>
<g transform="translate(636.4 1141.1) rotate(-45)" font-size="16.7" font-weight="bold" text-anchor="end" stroke="#000" stroke-width="0.45"><text x="0" y="6">ICU Day 3</text></g>
<g transform="translate(686.9 1141.1) rotate(-45)" font-size="16.7" font-weight="bold" text-anchor="end" stroke="#000" stroke-width="0.45"><text x="0" y="6">ICU Day 7</text></g>
</g>
<g id="bp-Clostridia_Family_XI">
<text x="989.6" y="728.4" font-size="20.9" font-weight="bold" text-anchor="middle">Clostridia Family XI</text>
<text x="837.7" y="967.6" font-size="17.5" font-weight="bold" text-anchor="middle" transform="rotate(-90 837.7 967.6)" stroke="#000" stroke-width="0.7">Relative Abundance (%)</text>
<rect x="898.1" y="1006" width="30" height="108.6" fill="#8c8c8c" stroke="#000" stroke-width="2.9"/>
<path d="M898.1 1090.4H928.1" stroke="#000" stroke-width="2.9"/>
<rect x="948.9" y="1020.8" width="30" height="90.7" fill="#c8ecc8" stroke="#000" stroke-width="2.9"/>
<path d="M948.9 1079.2H978.9" stroke="#000" stroke-width="2.9"/>
<rect x="999.7" y="1018.1" width="30" height="98.9" fill="#c8ecc8" stroke="#000" stroke-width="2.9"/>
<path d="M999.7 1091.9H1029.7" stroke="#000" stroke-width="2.9"/>
<rect x="1050.2" y="1105.8" width="30" height="13.3" fill="#c8ecc8" stroke="#000" stroke-width="2.9"/>
<path d="M1050.2 1117.9H1080.2" stroke="#000" stroke-width="2.9"/>
<path d="M963.9 853L1014.7 912.9M1014.7 912.9L1065.2 1115.5M963.9 863L1014.7 983.9M963.9 912.9L1014.7 852.7M1014.7 852.7L1065.2 1109.4M963.9 920.4L1014.7 912.9M963.9 920.4L1014.7 852.7M963.9 926.5L1014.7 996M1014.7 996L1065.2 1118.5M963.9 946.1L1014.7 1020.2M963.9 972.7L1014.7 1070.1M963.9 983L1014.7 1091.3M963.9 853L1014.7 920.4M963.9 920.4L1014.7 1050.5M1014.7 1050.5L1065.2 1100.4M963.9 1014.2L1014.7 1115.5M1014.7 852.7L1065.2 1095.8M1014.7 912.9L1065.2 1118.5M1014.7 968.8L1065.2 1120.3M1014.7 1085.2L1065.2 1042M1014.7 1014.2L1065.2 1115.5M963.9 1049.3L1014.7 1079.2M963.9 1063.2L1014.7 1084.9M963.9 1087.8L1014.7 1025.6M963.9 1019.5L1014.7 1106.2M963.9 1051.6L1014.7 1047M963.9 1120L1014.7 1071.9M963.9 1106.5L1014.7 1072.6M963.9 1089L1014.7 1037M963.9 1088.6L1014.7 1108.9M963.9 1078.2L1014.7 1097.6M963.9 1091.9L1014.7 1025.4M963.9 1099.7L1014.7 1083.7M963.9 1056.1L1014.7 1020.2M963.9 1109L1014.7 1072.2M963.9 1096.2L1014.7 1109.8M963.9 1095.8L1014.7 1113.5M963.9 1065.8L1014.7 1103M963.9 1070.7L1014.7 1114.8M963.9 1110.1L1014.7 1030.1M963.9 1037.4L1014.7 1045M963.9 1117.4L1014.7 1068.5M963.9 1087.9L1014.7 1054.4M963.9 1076.7L1014.7 1063.4M963.9 1061.3L1014.7 1083.1M963.9 1084L1014.7 1112.1M963.9 1092.9L1014.7 1114.2M963.9 1108.2L1014.7 1119.6M963.9 1091.9L1014.7 1038.6M963.9 1108.6L1014.7 1117.3M963.9 1112.3L1014.7 1081.6M963.9 1095.7L1014.7 1044.3M963.9 1106.1L1014.7 1082M963.9 1054.4L1014.7 1025.3M963.9 1108L1014.7 1119.5M963.9 1031.2L1014.7 1102.9M1014.7 1065.9L1065.2 1100.4M1014.7 1018.3L1065.2 1115.5M1014.7 1100.1L1065.2 1095.8M1014.7 1022.4L1065.2 1118.5M1014.7 1099.4L1065.2 1115.5M1014.7 1095.5L1065.2 1109.4M1014.7 1079.8L1065.2 1109.4M1014.7 1075.4L1065.2 1095.8M1014.7 1055.4L1065.2 1095.8M1014.7 1031.6L1065.2 1118.5" stroke="#747474" stroke-width="0.9" fill="none"/>
<path d="M913.1 835.1V1006M913.1 1114.6V1117.9M903.1 835.1H923.1M903.1 1117.9H923.1" stroke="#000" stroke-width="2.6" fill="none"/>
<path d="M963.9 853V1020.8M963.9 1111.6V1120.3M953.9 853H973.9M953.9 1120.3H973.9" stroke="#000" stroke-width="2.6" fill="none"/>
<path d="M1014.7 852.7V1018.1M1014.7 1117V1120.3M1004.7 852.7H1024.7M1004.7 1120.3H1024.7" stroke="#000" stroke-width="2.6" fill="none"/>
<path d="M1065.2 1042V1105.8M1065.2 1119.1V1120.3M1055.2 1042H1075.2M1055.2 1120.3H1075.2" stroke="#000" stroke-width="2.6" fill="none"/>
<g fill="#000"><circle cx="913.1" cy="835.1" r="4.4"/><circle cx="913.1" cy="838.8" r="4.4"/><circle cx="913.1" cy="991.5" r="4.4"/><circle cx="913.1" cy="1005.1" r="4.4"/><circle cx="913.1" cy="1029.3" r="4.4"/><circle cx="913.1" cy="1036.9" r="4.4"/><circle cx="913.1" cy="1039.9" r="4.4"/><circle cx="913.1" cy="1090.4" r="4.4"/><circle cx="913.1" cy="1098.9" r="4.4"/><circle cx="913.1" cy="1107.9" r="4.4"/><circle cx="913.1" cy="1115.5" r="4.4"/><circle cx="913.1" cy="1118.5" r="4.4"/><circle cx="963.9" cy="853" r="4.4"/><circle cx="963.9" cy="863" r="4.4"/><circle cx="963.9" cy="912.9" r="4.4"/><circle cx="963.9" cy="920.4" r="4.4"/><circle cx="963.9" cy="926.5" r="4.4"/><circle cx="963.9" cy="946.1" r="4.4"/><circle cx="963.9" cy="972.7" r="4.4"/><circle cx="963.9" cy="983" r="4.4"/><circle cx="963.9" cy="1014.2" r="4.4"/><circle cx="963.9" cy="1042.9" r="4.4"/><circle cx="963.9" cy="1045.2" r="4.4"/><circle cx="963.9" cy="1047.5" r="4.4"/><circle cx="963.9" cy="1049.7" r="4.4"/><circle cx="963.9" cy="1052" r="4.4"/><circle cx="963.9" cy="1054.3" r="4.4"/><circle cx="963.9" cy="1056.6" r="4.4"/><circle cx="963.9" cy="1058.8" r="4.4"/><circle cx="963.9" cy="1061.1" r="4.4"/><circle cx="963.9" cy="1063.4" r="4.4"/><circle cx="963.9" cy="1065.7" r="4.4"/><circle cx="963.9" cy="1068" r="4.4"/><circle cx="963.9" cy="1070.2" r="4.4"/><circle cx="963.9" cy="1072.5" r="4.4"/><circle cx="963.9" cy="1074.8" r="4.4"/><circle cx="963.9" cy="1077.1" r="4.4"/><circle cx="963.9" cy="1079.3" r="4.4"/><circle cx="963.9" cy="1081.6" r="4.4"/><circle cx="963.9" cy="1083.9" r="4.4"/><circle cx="963.9" cy="1086.2" r="4.4"/><circle cx="963.9" cy="1088.4" r="4.4"/><circle cx="963.9" cy="1090.7" r="4.4"/><circle cx="963.9" cy="1093" r="4.4"/><circle cx="963.9" cy="1095.3" r="4.4"/><circle cx="963.9" cy="1097.6" r="4.4"/><circle cx="963.9" cy="1099.8" r="4.4"/><circle cx="963.9" cy="1102.1" r="4.4"/><circle cx="963.9" cy="1104.4" r="4.4"/><circle cx="963.9" cy="1106.7" r="4.4"/><circle cx="963.9" cy="1108.9" r="4.4"/><circle cx="963.9" cy="1111.2" r="4.4"/><circle cx="963.9" cy="1113.5" r="4.4"/><circle cx="963.9" cy="1115.8" r="4.4"/><circle cx="963.9" cy="1118" r="4.4"/><circle cx="963.9" cy="1120.3" r="4.4"/><circle cx="1014.7" cy="852.7" r="4.4"/><circle cx="1014.7" cy="912.9" r="4.4"/><circle cx="1014.7" cy="920.4" r="4.4"/><circle cx="1014.7" cy="968.8" r="4.4"/><circle cx="1014.7" cy="983.9" r="4.4"/><circle cx="1014.7" cy="996" r="4.4"/><circle cx="1014.7" cy="1006.6" r="4.4"/><circle cx="1014.7" cy="1014.2" r="4.4"/><circle cx="1014.7" cy="1020.2" r="4.4"/><circle cx="1014.7" cy="1041.4" r="4.4"/><circle cx="1014.7" cy="1050.5" r="4.4"/><circle cx="1014.7" cy="1058" r="4.4"/><circle cx="1014.7" cy="1064.1" r="4.4"/><circle cx="1014.7" cy="1070.1" r="4.4"/><circle cx="1014.7" cy="1085.2" r="4.4"/><circle cx="1014.7" cy="1091.3" r="4.4"/><circle cx="1014.7" cy="1101.9" r="4.4"/><circle cx="1014.7" cy="1109.4" r="4.4"/><circle cx="1014.7" cy="1110.6" r="4.4"/><circle cx="1014.7" cy="1111.9" r="4.4"/><circle cx="1014.7" cy="1113.1" r="4.4"/><circle cx="1014.7" cy="1114.3" r="4.4"/><circle cx="1014.7" cy="1115.5" r="4.4"/><circle cx="1014.7" cy="1116.7" r="4.4"/><circle cx="1014.7" cy="1117.9" r="4.4"/><circle cx="1014.7" cy="1119.1" r="4.4"/><circle cx="1014.7" cy="1120.3" r="4.4"/><circle cx="1065.2" cy="1042" r="4.4"/><circle cx="1065.2" cy="1095.8" r="4.4"/><circle cx="1065.2" cy="1100.4" r="4.4"/><circle cx="1065.2" cy="1109.4" r="4.4"/><circle cx="1065.2" cy="1115.5" r="4.4"/><circle cx="1065.2" cy="1118.5" r="4.4"/><circle cx="1065.2" cy="1120.3" r="4.4"/></g>
<path d="M880.1 813.6V1120.3" stroke="#000" stroke-width="2.5" fill="none"/>
<path d="M871.7 1120.3H1098.5" stroke="#000" stroke-width="2.5" fill="none"/>
<text x="866.9" y="821.1" font-size="16.3" font-weight="bold" text-anchor="end" stroke="#000" stroke-width="0.4">50</text>
<text x="866.9" y="882.2" font-size="16.3" font-weight="bold" text-anchor="end" stroke="#000" stroke-width="0.4">40</text>
<text x="866.9" y="943.3" font-size="16.3" font-weight="bold" text-anchor="end" stroke="#000" stroke-width="0.4">30</text>
<text x="866.9" y="1004.3" font-size="16.3" font-weight="bold" text-anchor="end" stroke="#000" stroke-width="0.4">20</text>
<text x="866.9" y="1065.4" font-size="16.3" font-weight="bold" text-anchor="end" stroke="#000" stroke-width="0.4">10</text>
<text x="866.9" y="1126.5" font-size="16.3" font-weight="bold" text-anchor="end" stroke="#000" stroke-width="0.4">0</text>
<path d="M871.6 814.9H880.1M871.6 876H880.1M871.6 937.1H880.1M871.6 998.1H880.1M871.6 1059.2H880.1M871.6 1120.3H880.1M913.1 1120.3V1129.8M963.9 1120.3V1129.8M1014.7 1120.3V1129.8M1065.2 1120.3V1129.8" stroke="#000" stroke-width="2.5" fill="none"/>
<g transform="translate(912.1 1144.8) rotate(-45)" font-size="16.7" font-weight="bold" text-anchor="end" stroke="#000" stroke-width="0.45"><text x="-1" y="-1.5">Healthy</text><text x="-1" y="18.5">Volunteers</text></g>
<g transform="translate(962.9 1140.8) rotate(-45)" font-size="16.7" font-weight="bold" text-anchor="end" stroke="#000" stroke-width="0.45"><text x="0" y="6">ICU Day 1</text></g>
<g transform="translate(1013.7 1140.8) rotate(-45)" font-size="16.7" font-weight="bold" text-anchor="end" stroke="#000" stroke-width="0.45"><text x="0" y="6">ICU Day 3</text></g>
<g transform="translate(1064.2 1140.8) rotate(-45)" font-size="16.7" font-weight="bold" text-anchor="end" stroke="#000" stroke-width="0.45"><text x="0" y="6">ICU Day 7</text></g>
<path d="M913.1 822.1V783.4H1065.2V793.4" stroke="#000" stroke-width="2.4" fill="none"/>
<text x="988.7" y="771.2" font-size="17.6" text-anchor="middle" stroke="#000" stroke-width="0.25">p = 0.0047</text>
<path d="M963.9 839.4V821.5H1065.2V871.1" stroke="#000" stroke-width="2.4" fill="none"/>
<text x="1013.8" y="812.1" font-size="17.6" text-anchor="middle" stroke="#000" stroke-width="0.25">p = 0.049</text>
</g>
<g id="bp-Bacteriodaceae">
<text x="1373.2" y="750.2" font-size="20.9" font-weight="bold" text-anchor="middle">Bacteriodaceae</text>
<text x="1213.2" y="969.3" font-size="17.5" font-weight="bold" text-anchor="middle" transform="rotate(-90 1213.2 969.3)" stroke="#000" stroke-width="0.7">Relative Abundance (%)</text>
<rect x="1282.3" y="1004.5" width="30" height="90.4" fill="#8c8c8c" stroke="#000" stroke-width="2.9"/>
<path d="M1282.3 1057.1H1312.3" stroke="#000" stroke-width="2.9"/>
<rect x="1332.8" y="1054.4" width="30" height="53.5" fill="#c8ecc8" stroke="#000" stroke-width="2.9"/>
<path d="M1332.8 1088.3H1362.8" stroke="#000" stroke-width="2.9"/>
<rect x="1383.3" y="1045" width="30" height="71.4" fill="#c8ecc8" stroke="#000" stroke-width="2.9"/>
<path d="M1383.3 1091.3H1413.3" stroke="#000" stroke-width="2.9"/>
<rect x="1434.1" y="996" width="30" height="78" fill="#c8ecc8" stroke="#000" stroke-width="2.9"/>
<path d="M1434.1 1018.7H1464.1" stroke="#000" stroke-width="2.9"/>
<path d="M1347.8 954.3L1398.3 965.2M1398.3 965.2L1449.1 908.3M1347.8 999.1L1398.3 1009.6M1398.3 1009.6L1449.1 994.5M1347.8 1002.1L1398.3 1014.2M1347.8 1018.7L1398.3 1030.8M1398.3 1030.8L1449.1 997.5M1347.8 1023.2L1398.3 1042.9M1347.8 1103.4L1398.3 928M1347.8 1112.5L1398.3 928M1398.3 965.2L1449.1 908.3M1398.3 1073.1L1449.1 888.1M1398.3 1088.3L1449.1 908.3M1398.3 1103.4L1449.1 924.4M1398.3 1058L1449.1 994.5M1398.3 998.4L1449.1 1002.1M1398.3 1109.4L1449.1 1018.7M1398.3 1115.5L1449.1 1059.5M1398.3 1042.9L1449.1 1115.5M1398.3 1030.8L1449.1 1120.9M1398.3 1097.3L1449.1 1067.1M1398.3 1106.4L1449.1 997.5M1398.3 1082.2L1449.1 1068.6M1347.8 1072.3L1398.3 1053.6M1347.8 1083.7L1398.3 1058.6M1347.8 1058L1398.3 1079.3M1347.8 1116.2L1398.3 1107.8M1347.8 1107.2L1398.3 1064.6M1347.8 1093.1L1398.3 1069.3M1347.8 1067.3L1398.3 1053.9M1347.8 1070.6L1398.3 1116.2M1347.8 1111L1398.3 1108.2M1347.8 1109.3L1398.3 1062.1M1347.8 1077.7L1398.3 1095.9M1347.8 1105.2L1398.3 1111.4M1347.8 1114L1398.3 1051.9M1347.8 1097.5L1398.3 1099M1347.8 1091.1L1398.3 1060.7M1347.8 1088.9L1398.3 1052.1M1347.8 1117.2L1398.3 1112.1M1347.8 1093.8L1398.3 1071.2M1347.8 1115.7L1398.3 1092M1347.8 1114.2L1398.3 1111M1347.8 1091.2L1398.3 1080.2M1347.8 1097L1398.3 1081.5M1347.8 1066.4L1398.3 1071.6M1347.8 1110.1L1398.3 1047M1347.8 1055.9L1398.3 1095.8M1347.8 1075.6L1398.3 1089.2M1347.8 1088.8L1398.3 1074.6M1347.8 1120.8L1398.3 1062.3M1347.8 1084.9L1398.3 1062.9M1347.8 1099.1L1398.3 1069.2M1347.8 1081L1398.3 1104.2M1347.8 1078.5L1398.3 1091M1347.8 1115.4L1398.3 1053.3M1347.8 1057.5L1398.3 1065.2M1347.8 1107.2L1398.3 1095M1398.3 1065.9L1449.1 1067.1M1398.3 1116.7L1449.1 1067.1M1398.3 1083.6L1449.1 1018.7M1398.3 1075.8L1449.1 1018.7M1398.3 1114.2L1449.1 1067.1M1398.3 1103.4L1449.1 1067.1M1398.3 1043.7L1449.1 1067.1M1398.3 1072.9L1449.1 1059.5" stroke="#747474" stroke-width="0.9" fill="none"/>
<path d="M1297.3 955.2V1004.5M1297.3 1094.9V1117.6M1287.3 955.2H1307.3M1287.3 1117.6H1307.3" stroke="#000" stroke-width="2.6" fill="none"/>
<path d="M1347.8 954.3V1054.4M1347.8 1107.9V1120.9M1337.8 954.3H1357.8M1337.8 1120.9H1357.8" stroke="#000" stroke-width="2.6" fill="none"/>
<path d="M1398.3 928V1045M1398.3 1116.4V1120.9M1388.3 928H1408.3M1388.3 1120.9H1408.3" stroke="#000" stroke-width="2.6" fill="none"/>
<path d="M1449.1 888.1V996M1449.1 1074.1V1120.9M1439.1 888.1H1459.1M1439.1 1120.9H1459.1" stroke="#000" stroke-width="2.6" fill="none"/>
<g fill="#000"><circle cx="1297.3" cy="955.2" r="4.4"/><circle cx="1297.3" cy="992.1" r="4.4"/><circle cx="1297.3" cy="994.5" r="4.4"/><circle cx="1297.3" cy="1003.6" r="4.4"/><circle cx="1297.3" cy="1047.4" r="4.4"/><circle cx="1297.3" cy="1057.1" r="4.4"/><circle cx="1297.3" cy="1079.2" r="4.4"/><circle cx="1297.3" cy="1085.2" r="4.4"/><circle cx="1297.3" cy="1088.3" r="4.4"/><circle cx="1297.3" cy="1097.3" r="4.4"/><circle cx="1297.3" cy="1115.5" r="4.4"/><circle cx="1297.3" cy="1117.6" r="4.4"/><circle cx="1347.8" cy="954.3" r="4.4"/><circle cx="1347.8" cy="999.1" r="4.4"/><circle cx="1347.8" cy="1002.1" r="4.4"/><circle cx="1347.8" cy="1018.7" r="4.4"/><circle cx="1347.8" cy="1023.2" r="4.4"/><circle cx="1347.8" cy="1026.3" r="4.4"/><circle cx="1347.8" cy="1042.9" r="4.4"/><circle cx="1347.8" cy="1049" r="4.4"/><circle cx="1347.8" cy="1051.1" r="4.4"/><circle cx="1347.8" cy="1053.2" r="4.4"/><circle cx="1347.8" cy="1055.3" r="4.4"/><circle cx="1347.8" cy="1057.4" r="4.4"/><circle cx="1347.8" cy="1059.5" r="4.4"/><circle cx="1347.8" cy="1061.7" r="4.4"/><circle cx="1347.8" cy="1063.8" r="4.4"/><circle cx="1347.8" cy="1065.9" r="4.4"/><circle cx="1347.8" cy="1068" r="4.4"/><circle cx="1347.8" cy="1070.1" r="4.4"/><circle cx="1347.8" cy="1072.2" r="4.4"/><circle cx="1347.8" cy="1074.4" r="4.4"/><circle cx="1347.8" cy="1076.5" r="4.4"/><circle cx="1347.8" cy="1078.6" r="4.4"/><circle cx="1347.8" cy="1080.7" r="4.4"/><circle cx="1347.8" cy="1082.8" r="4.4"/><circle cx="1347.8" cy="1084.9" r="4.4"/><circle cx="1347.8" cy="1087.1" r="4.4"/><circle cx="1347.8" cy="1089.2" r="4.4"/><circle cx="1347.8" cy="1091.3" r="4.4"/><circle cx="1347.8" cy="1093.4" r="4.4"/><circle cx="1347.8" cy="1095.5" r="4.4"/><circle cx="1347.8" cy="1097.6" r="4.4"/><circle cx="1347.8" cy="1099.8" r="4.4"/><circle cx="1347.8" cy="1101.9" r="4.4"/><circle cx="1347.8" cy="1104" r="4.4"/><circle cx="1347.8" cy="1106.1" r="4.4"/><circle cx="1347.8" cy="1108.2" r="4.4"/><circle cx="1347.8" cy="1110.3" r="4.4"/><circle cx="1347.8" cy="1112.5" r="4.4"/><circle cx="1347.8" cy="1114.6" r="4.4"/><circle cx="1347.8" cy="1116.7" r="4.4"/><circle cx="1347.8" cy="1118.8" r="4.4"/><circle cx="1347.8" cy="1120.9" r="4.4"/><circle cx="1398.3" cy="928" r="4.4"/><circle cx="1398.3" cy="965.2" r="4.4"/><circle cx="1398.3" cy="998.4" r="4.4"/><circle cx="1398.3" cy="1009.6" r="4.4"/><circle cx="1398.3" cy="1014.2" r="4.4"/><circle cx="1398.3" cy="1030.8" r="4.4"/><circle cx="1398.3" cy="1033.1" r="4.4"/><circle cx="1398.3" cy="1035.4" r="4.4"/><circle cx="1398.3" cy="1037.7" r="4.4"/><circle cx="1398.3" cy="1040" r="4.4"/><circle cx="1398.3" cy="1042.4" r="4.4"/><circle cx="1398.3" cy="1044.7" r="4.4"/><circle cx="1398.3" cy="1047" r="4.4"/><circle cx="1398.3" cy="1049.3" r="4.4"/><circle cx="1398.3" cy="1051.6" r="4.4"/><circle cx="1398.3" cy="1053.9" r="4.4"/><circle cx="1398.3" cy="1056.2" r="4.4"/><circle cx="1398.3" cy="1058.5" r="4.4"/><circle cx="1398.3" cy="1060.8" r="4.4"/><circle cx="1398.3" cy="1063.2" r="4.4"/><circle cx="1398.3" cy="1065.5" r="4.4"/><circle cx="1398.3" cy="1067.8" r="4.4"/><circle cx="1398.3" cy="1070.1" r="4.4"/><circle cx="1398.3" cy="1072.4" r="4.4"/><circle cx="1398.3" cy="1074.7" r="4.4"/><circle cx="1398.3" cy="1077" r="4.4"/><circle cx="1398.3" cy="1079.3" r="4.4"/><circle cx="1398.3" cy="1081.6" r="4.4"/><circle cx="1398.3" cy="1084" r="4.4"/><circle cx="1398.3" cy="1086.3" r="4.4"/><circle cx="1398.3" cy="1088.6" r="4.4"/><circle cx="1398.3" cy="1090.9" r="4.4"/><circle cx="1398.3" cy="1093.2" r="4.4"/><circle cx="1398.3" cy="1095.5" r="4.4"/><circle cx="1398.3" cy="1097.8" r="4.4"/><circle cx="1398.3" cy="1100.1" r="4.4"/><circle cx="1398.3" cy="1102.4" r="4.4"/><circle cx="1398.3" cy="1104.8" r="4.4"/><circle cx="1398.3" cy="1107.1" r="4.4"/><circle cx="1398.3" cy="1109.4" r="4.4"/><circle cx="1398.3" cy="1111.7" r="4.4"/><circle cx="1398.3" cy="1114" r="4.4"/><circle cx="1398.3" cy="1116.3" r="4.4"/><circle cx="1398.3" cy="1118.6" r="4.4"/><circle cx="1398.3" cy="1120.9" r="4.4"/><circle cx="1449.1" cy="888.1" r="4.4"/><circle cx="1449.1" cy="908.3" r="4.4"/><circle cx="1449.1" cy="924.4" r="4.4"/><circle cx="1449.1" cy="994.5" r="4.4"/><circle cx="1449.1" cy="997.5" r="4.4"/><circle cx="1449.1" cy="1002.1" r="4.4"/><circle cx="1449.1" cy="1018.7" r="4.4"/><circle cx="1449.1" cy="1059.5" r="4.4"/><circle cx="1449.1" cy="1067.1" r="4.4"/><circle cx="1449.1" cy="1068.6" r="4.4"/><circle cx="1449.1" cy="1097.3" r="4.4"/><circle cx="1449.1" cy="1115.5" r="4.4"/><circle cx="1449.1" cy="1120.9" r="4.4"/></g>
<path d="M1264.4 816.4V1120.9" stroke="#000" stroke-width="2.5" fill="none"/>
<path d="M1254.7 1120.9H1483" stroke="#000" stroke-width="2.5" fill="none"/>
<text x="1251.2" y="823.8" font-size="16.3" font-weight="bold" text-anchor="end" stroke="#000" stroke-width="0.4">100</text>
<text x="1251.2" y="884.6" font-size="16.3" font-weight="bold" text-anchor="end" stroke="#000" stroke-width="0.4">80</text>
<text x="1251.2" y="945.4" font-size="16.3" font-weight="bold" text-anchor="end" stroke="#000" stroke-width="0.4">60</text>
<text x="1251.2" y="1005.9" font-size="16.3" font-weight="bold" text-anchor="end" stroke="#000" stroke-width="0.4">40</text>
<text x="1251.2" y="1066.6" font-size="16.3" font-weight="bold" text-anchor="end" stroke="#000" stroke-width="0.4">20</text>
<text x="1251.2" y="1127.1" font-size="16.3" font-weight="bold" text-anchor="end" stroke="#000" stroke-width="0.4">0</text>
<path d="M1255.9 817.6H1264.4M1255.9 878.4H1264.4M1255.9 939.2H1264.4M1255.9 999.7H1264.4M1255.9 1060.4H1264.4M1255.9 1120.9H1264.4M1297.3 1120.9V1130.4M1347.8 1120.9V1130.4M1398.3 1120.9V1130.4M1449.1 1120.9V1130.4" stroke="#000" stroke-width="2.5" fill="none"/>
<g transform="translate(1296.3 1145.4) rotate(-45)" font-size="16.7" font-weight="bold" text-anchor="end" stroke="#000" stroke-width="0.45"><text x="-1" y="-1.5">Healthy</text><text x="-1" y="18.5">Volunteers</text></g>
<g transform="translate(1346.8 1141.4) rotate(-45)" font-size="16.7" font-weight="bold" text-anchor="end" stroke="#000" stroke-width="0.45"><text x="0" y="6">ICU Day 1</text></g>
<g transform="translate(1397.3 1141.4) rotate(-45)" font-size="16.7" font-weight="bold" text-anchor="end" stroke="#000" stroke-width="0.45"><text x="0" y="6">ICU Day 3</text></g>
<g transform="translate(1448.1 1141.4) rotate(-45)" font-size="16.7" font-weight="bold" text-anchor="end" stroke="#000" stroke-width="0.45"><text x="0" y="6">ICU Day 7</text></g>
<path d="M1398.3 812.5V794.9H1449.1V812.5" stroke="#000" stroke-width="2.4" fill="none"/>
<text x="1423.4" y="784.8" font-size="17.6" text-anchor="middle" stroke="#000" stroke-width="0.25">p = 0.0075</text>
<path d="M1347.8 925.6V846.3H1449.1V865.1" stroke="#000" stroke-width="2.4" fill="none"/>
<text x="1398.9" y="837.8" font-size="17.6" text-anchor="middle" stroke="#000" stroke-width="0.25">p = 0.0061</text>
</g>
<g id="bp-Prevotellaceae">
<text x="240.4" y="1342.2" font-size="20.9" font-weight="bold" text-anchor="middle">Prevotellaceae</text>
<text x="89.5" y="1523.7" font-size="17.5" font-weight="bold" text-anchor="middle" transform="rotate(-90 89.5 1523.7)" stroke="#000" stroke-width="0.7">Relative Abundance (%)</text>
<rect x="149.5" y="1588.7" width="30" height="82.6" fill="#8c8c8c" stroke="#000" stroke-width="2.9"/>
<path d="M149.5 1653.1H179.5" stroke="#000" stroke-width="2.9"/>
<rect x="200.3" y="1588.7" width="30" height="75" fill="#c8ecc8" stroke="#000" stroke-width="2.9"/>
<path d="M200.3 1624.1H230.3" stroke="#000" stroke-width="2.9"/>
<rect x="250.8" y="1592.3" width="30" height="81" fill="#c8ecc8" stroke="#000" stroke-width="2.9"/>
<path d="M250.8 1643.1H280.8" stroke="#000" stroke-width="2.9"/>
<rect x="301.6" y="1646.2" width="30" height="28.7" fill="#c8ecc8" stroke="#000" stroke-width="2.9"/>
<path d="M301.6 1673.4H331.6" stroke="#000" stroke-width="2.9"/>
<path d="M215.3 1472.3L265.8 1590.2M215.3 1553.9L265.8 1535.8M215.3 1558.5L265.8 1609.9M215.3 1567.5L265.8 1488M215.3 1582.7L265.8 1507.1M265.8 1507.1L316.6 1673.4M215.3 1612.9L265.8 1488M265.8 1488L316.6 1643.1M215.3 1628L265.8 1514.6M215.3 1643.1L265.8 1507.1M265.8 1507.1L316.6 1674.9M215.3 1658.3L265.8 1535.8M215.3 1667.3L265.8 1543.3M215.3 1673.4L265.8 1550.9M265.8 1667.3L316.6 1575.7M265.8 1643.1L316.6 1586.3M265.8 1514.6L316.6 1656.8M265.8 1557L316.6 1676.4M265.8 1569.1L316.6 1671.9M265.8 1609.9L316.6 1643.1M215.3 1647.3L265.8 1657.6M215.3 1661L265.8 1672.3M215.3 1656.7L265.8 1670.9M215.3 1589.6L265.8 1635.9M215.3 1672.2L265.8 1650.5M215.3 1669L265.8 1603.3M215.3 1634.5L265.8 1616.7M215.3 1640.8L265.8 1644.6M215.3 1587.1L265.8 1613.9M215.3 1617.4L265.8 1670.4M215.3 1658.7L265.8 1608.2M215.3 1661.1L265.8 1606.1M215.3 1646.9L265.8 1604.8M215.3 1584.8L265.8 1667.2M215.3 1610.6L265.8 1613.8M215.3 1675.1L265.8 1667.2M215.3 1618.4L265.8 1673.7M215.3 1640.4L265.8 1652.7M215.3 1610.1L265.8 1672.2M215.3 1652.8L265.8 1674M215.3 1668.5L265.8 1621.5M215.3 1625L265.8 1608.9M215.3 1603.9L265.8 1597.8M215.3 1619.5L265.8 1646.9M215.3 1585.1L265.8 1652.7M215.3 1622.9L265.8 1622.5M215.3 1662.8L265.8 1637.1M215.3 1620.9L265.8 1637.2M215.3 1653.9L265.8 1596.8M215.3 1674.6L265.8 1592.1M215.3 1657.4L265.8 1665.2M215.3 1587.9L265.8 1661M215.3 1625.5L265.8 1645M215.3 1586.3L265.8 1595.4M215.3 1607.7L265.8 1673.2M215.3 1609.3L265.8 1658.6M215.3 1671.2L265.8 1672.3M215.3 1623.5L265.8 1626.5M215.3 1639.2L265.8 1660.1M215.3 1599.7L265.8 1658.1M265.8 1661.7L316.6 1661.3M265.8 1594.1L316.6 1643.1M265.8 1613.1L316.6 1674.9M265.8 1647.5L316.6 1656.8M265.8 1625.2L316.6 1676.4M265.8 1642.3L316.6 1661.3M265.8 1653.3L316.6 1661.3M265.8 1610L316.6 1643.1M265.8 1648.8L316.6 1676.4M265.8 1653.6L316.6 1671.9" stroke="#747474" stroke-width="0.9" fill="none"/>
<path d="M164.5 1457.2V1588.7M164.5 1671.3V1675.5M154.5 1457.2H174.5M154.5 1675.5H174.5" stroke="#000" stroke-width="2.6" fill="none"/>
<path d="M215.3 1442V1588.7M215.3 1663.7V1676.4M205.3 1442H225.3M205.3 1676.4H225.3" stroke="#000" stroke-width="2.6" fill="none"/>
<path d="M265.8 1488V1592.3M265.8 1673.4V1676.4M255.8 1488H275.8M255.8 1676.4H275.8" stroke="#000" stroke-width="2.6" fill="none"/>
<path d="M316.6 1575.7V1646.2M316.6 1674.9V1676.4M306.6 1575.7H326.6M306.6 1676.4H326.6" stroke="#000" stroke-width="2.6" fill="none"/>
<g fill="#000"><circle cx="164.5" cy="1457.2" r="4.4"/><circle cx="164.5" cy="1533.7" r="4.4"/><circle cx="164.5" cy="1554.5" r="4.4"/><circle cx="164.5" cy="1587.2" r="4.4"/><circle cx="164.5" cy="1596.9" r="4.4"/><circle cx="164.5" cy="1638.6" r="4.4"/><circle cx="164.5" cy="1641.6" r="4.4"/><circle cx="164.5" cy="1653.7" r="4.4"/><circle cx="164.5" cy="1667.3" r="4.4"/><circle cx="164.5" cy="1670.4" r="4.4"/><circle cx="164.5" cy="1673.4" r="4.4"/><circle cx="164.5" cy="1675.5" r="4.4"/><circle cx="215.3" cy="1442" r="4.4"/><circle cx="215.3" cy="1472.3" r="4.4"/><circle cx="215.3" cy="1553.9" r="4.4"/><circle cx="215.3" cy="1558.5" r="4.4"/><circle cx="215.3" cy="1567.5" r="4.4"/><circle cx="215.3" cy="1570.6" r="4.4"/><circle cx="215.3" cy="1576.6" r="4.4"/><circle cx="215.3" cy="1582.7" r="4.4"/><circle cx="215.3" cy="1590.2" r="4.4"/><circle cx="215.3" cy="1603.8" r="4.4"/><circle cx="215.3" cy="1606" r="4.4"/><circle cx="215.3" cy="1608.1" r="4.4"/><circle cx="215.3" cy="1610.2" r="4.4"/><circle cx="215.3" cy="1612.4" r="4.4"/><circle cx="215.3" cy="1614.5" r="4.4"/><circle cx="215.3" cy="1616.6" r="4.4"/><circle cx="215.3" cy="1618.8" r="4.4"/><circle cx="215.3" cy="1620.9" r="4.4"/><circle cx="215.3" cy="1623" r="4.4"/><circle cx="215.3" cy="1625.2" r="4.4"/><circle cx="215.3" cy="1627.3" r="4.4"/><circle cx="215.3" cy="1629.4" r="4.4"/><circle cx="215.3" cy="1631.6" r="4.4"/><circle cx="215.3" cy="1633.7" r="4.4"/><circle cx="215.3" cy="1635.9" r="4.4"/><circle cx="215.3" cy="1638" r="4.4"/><circle cx="215.3" cy="1640.1" r="4.4"/><circle cx="215.3" cy="1642.3" r="4.4"/><circle cx="215.3" cy="1644.4" r="4.4"/><circle cx="215.3" cy="1646.5" r="4.4"/><circle cx="215.3" cy="1648.7" r="4.4"/><circle cx="215.3" cy="1650.8" r="4.4"/><circle cx="215.3" cy="1652.9" r="4.4"/><circle cx="215.3" cy="1655.1" r="4.4"/><circle cx="215.3" cy="1657.2" r="4.4"/><circle cx="215.3" cy="1659.3" r="4.4"/><circle cx="215.3" cy="1661.5" r="4.4"/><circle cx="215.3" cy="1663.6" r="4.4"/><circle cx="215.3" cy="1665.7" r="4.4"/><circle cx="215.3" cy="1667.9" r="4.4"/><circle cx="215.3" cy="1670" r="4.4"/><circle cx="215.3" cy="1672.1" r="4.4"/><circle cx="215.3" cy="1674.3" r="4.4"/><circle cx="215.3" cy="1676.4" r="4.4"/><circle cx="265.8" cy="1488" r="4.4"/><circle cx="265.8" cy="1507.1" r="4.4"/><circle cx="265.8" cy="1514.6" r="4.4"/><circle cx="265.8" cy="1535.8" r="4.4"/><circle cx="265.8" cy="1543.3" r="4.4"/><circle cx="265.8" cy="1550.9" r="4.4"/><circle cx="265.8" cy="1557" r="4.4"/><circle cx="265.8" cy="1569.1" r="4.4"/><circle cx="265.8" cy="1579.6" r="4.4"/><circle cx="265.8" cy="1590.2" r="4.4"/><circle cx="265.8" cy="1597.8" r="4.4"/><circle cx="265.8" cy="1609.9" r="4.4"/><circle cx="265.8" cy="1615.9" r="4.4"/><circle cx="265.8" cy="1635.6" r="4.4"/><circle cx="265.8" cy="1643.1" r="4.4"/><circle cx="265.8" cy="1652.2" r="4.4"/><circle cx="265.8" cy="1659.8" r="4.4"/><circle cx="265.8" cy="1667.3" r="4.4"/><circle cx="265.8" cy="1670.4" r="4.4"/><circle cx="265.8" cy="1671.2" r="4.4"/><circle cx="265.8" cy="1672.1" r="4.4"/><circle cx="265.8" cy="1673" r="4.4"/><circle cx="265.8" cy="1673.8" r="4.4"/><circle cx="265.8" cy="1674.7" r="4.4"/><circle cx="265.8" cy="1675.5" r="4.4"/><circle cx="265.8" cy="1676.4" r="4.4"/><circle cx="316.6" cy="1575.7" r="4.4"/><circle cx="316.6" cy="1586.3" r="4.4"/><circle cx="316.6" cy="1643.1" r="4.4"/><circle cx="316.6" cy="1656.8" r="4.4"/><circle cx="316.6" cy="1661.3" r="4.4"/><circle cx="316.6" cy="1671.9" r="4.4"/><circle cx="316.6" cy="1674.9" r="4.4"/><circle cx="316.6" cy="1676.4" r="4.4"/></g>
<path d="M131.6 1369.7V1676.4" stroke="#000" stroke-width="2.5" fill="none"/>
<path d="M122.5 1676.4H350.8" stroke="#000" stroke-width="2.5" fill="none"/>
<text x="118.4" y="1377.2" font-size="16.3" font-weight="bold" text-anchor="end" stroke="#000" stroke-width="0.4">80</text>
<text x="118.4" y="1453.4" font-size="16.3" font-weight="bold" text-anchor="end" stroke="#000" stroke-width="0.4">60</text>
<text x="118.4" y="1529.9" font-size="16.3" font-weight="bold" text-anchor="end" stroke="#000" stroke-width="0.4">40</text>
<text x="118.4" y="1606.4" font-size="16.3" font-weight="bold" text-anchor="end" stroke="#000" stroke-width="0.4">20</text>
<text x="118.4" y="1682.6" font-size="16.3" font-weight="bold" text-anchor="end" stroke="#000" stroke-width="0.4">0</text>
<path d="M123.1 1371H131.6M123.1 1447.2H131.6M123.1 1523.7H131.6M123.1 1600.2H131.6M123.1 1676.4H131.6M164.5 1676.4V1685.9M215.3 1676.4V1685.9M265.8 1676.4V1685.9M316.6 1676.4V1685.9" stroke="#000" stroke-width="2.5" fill="none"/>
<g transform="translate(163.5 1700.9) rotate(-45)" font-size="16.7" font-weight="bold" text-anchor="end" stroke="#000" stroke-width="0.45"><text x="-1" y="-1.5">Healthy</text><text x="-1" y="18.5">Volunteers</text></g>
<g transform="translate(214.3 1696.9) rotate(-45)" font-size="16.7" font-weight="bold" text-anchor="end" stroke="#000" stroke-width="0.45"><text x="0" y="6">ICU Day 1</text></g>
<g transform="translate(264.8 1696.9) rotate(-45)" font-size="16.7" font-weight="bold" text-anchor="end" stroke="#000" stroke-width="0.45"><text x="0" y="6">ICU Day 3</text></g>
<g transform="translate(315.6 1696.9) rotate(-45)" font-size="16.7" font-weight="bold" text-anchor="end" stroke="#000" stroke-width="0.45"><text x="0" y="6">ICU Day 7</text></g>
</g>
<g id="bp-Ruminococcaceae">
<text x="616.8" y="1268.4" font-size="20.9" font-weight="bold" text-anchor="middle">Ruminococcaceae</text>
<text x="465.3" y="1536.4" font-size="17.5" font-weight="bold" text-anchor="middle" transform="rotate(-90 465.3 1536.4)" stroke="#000" stroke-width="0.7">Relative Abundance (%)</text>
<rect x="525.6" y="1498.2" width="30" height="132.5" fill="#8c8c8c" stroke="#000" stroke-width="2.9"/>
<path d="M525.6 1540.6H555.6" stroke="#000" stroke-width="2.9"/>
<rect x="576.4" y="1619.5" width="30" height="61.1" fill="#c8ecc8" stroke="#000" stroke-width="2.9"/>
<path d="M576.4 1664H606.4" stroke="#000" stroke-width="2.9"/>
<rect x="626.9" y="1648.2" width="30" height="34.5" fill="#c8ecc8" stroke="#000" stroke-width="2.9"/>
<path d="M626.9 1670.9H656.9" stroke="#000" stroke-width="2.9"/>
<rect x="677.7" y="1548.4" width="30" height="127.6" fill="#c8ecc8" stroke="#000" stroke-width="2.9"/>
<path d="M677.7 1664H707.7" stroke="#000" stroke-width="2.9"/>
<path d="M591.4 1438.1L641.9 1499.2M591.4 1447.7L641.9 1671.5M591.4 1491.6L641.9 1683.6M591.4 1500.1L641.9 1615.6M591.4 1552.1L641.9 1558.7M641.9 1558.7L692.7 1683.6M591.4 1561.1L641.9 1677.6M591.4 1564.2L641.9 1659.4M591.4 1583.8L641.9 1683.6M591.4 1623.1L641.9 1505.8M591.4 1653.4L641.9 1508.8M591.4 1668.5L641.9 1589.9M591.4 1599L641.9 1611.7M641.9 1611.7L692.7 1687.6M641.9 1653.4L692.7 1481.3M641.9 1668.5L692.7 1522.7M641.9 1677.6L692.7 1543M641.9 1683.6L692.7 1546M641.9 1662.5L692.7 1583.2M641.9 1635.2L692.7 1613.2M641.9 1505.8L692.7 1665.5M641.9 1558.7L692.7 1677.6M641.9 1589.9L692.7 1657M591.4 1675.3L641.9 1681.2M591.4 1655.7L641.9 1658.7M591.4 1615.1L641.9 1675.3M591.4 1654.7L641.9 1678.9M591.4 1648L641.9 1679.3M591.4 1640.6L641.9 1680.5M591.4 1671.4L641.9 1665.4M591.4 1659.2L641.9 1676M591.4 1634.4L641.9 1671M591.4 1676L641.9 1658.9M591.4 1675.9L641.9 1676.1M591.4 1678.4L641.9 1662M591.4 1625.8L641.9 1680.4M591.4 1676L641.9 1666.7M591.4 1625.9L641.9 1655.7M591.4 1665.4L641.9 1660.1M591.4 1684.7L641.9 1672.4M591.4 1635.1L641.9 1675M591.4 1647.1L641.9 1685.2M591.4 1682.3L641.9 1669.5M591.4 1666.1L641.9 1676.6M591.4 1676L641.9 1686.7M591.4 1619.2L641.9 1663.1M591.4 1663.3L641.9 1660.6M591.4 1662.5L641.9 1650.1M591.4 1680.5L641.9 1669.9M591.4 1628L641.9 1675.3M591.4 1643.6L641.9 1655.6M641.9 1668.2L692.7 1657M641.9 1672.7L692.7 1687.6M641.9 1682.8L692.7 1683.6M641.9 1669.8L692.7 1657M641.9 1679.6L692.7 1613.2M641.9 1674.7L692.7 1677.6" stroke="#747474" stroke-width="0.9" fill="none"/>
<path d="M540.6 1470.7V1498.2M540.6 1630.7V1676.7M530.6 1470.7H550.6M530.6 1676.7H550.6" stroke="#000" stroke-width="2.6" fill="none"/>
<path d="M591.4 1438.1V1619.5M591.4 1680.6V1687.6M581.4 1438.1H601.4M581.4 1687.6H601.4" stroke="#000" stroke-width="2.6" fill="none"/>
<path d="M641.9 1499.2V1648.2M641.9 1682.7V1687.6M631.9 1499.2H651.9M631.9 1687.6H651.9" stroke="#000" stroke-width="2.6" fill="none"/>
<path d="M692.7 1481.3V1548.4M692.7 1676.1V1687.6M682.7 1481.3H702.7M682.7 1687.6H702.7" stroke="#000" stroke-width="2.6" fill="none"/>
<g fill="#000"><circle cx="540.6" cy="1470.7" r="4.4"/><circle cx="540.6" cy="1481" r="4.4"/><circle cx="540.6" cy="1488.6" r="4.4"/><circle cx="540.6" cy="1497.6" r="4.4"/><circle cx="540.6" cy="1507.6" r="4.4"/><circle cx="540.6" cy="1514.9" r="4.4"/><circle cx="540.6" cy="1529.4" r="4.4"/><circle cx="540.6" cy="1541.5" r="4.4"/><circle cx="540.6" cy="1564.2" r="4.4"/><circle cx="540.6" cy="1575.4" r="4.4"/><circle cx="540.6" cy="1586.9" r="4.4"/><circle cx="540.6" cy="1632.2" r="4.4"/><circle cx="540.6" cy="1657.9" r="4.4"/><circle cx="540.6" cy="1663.1" r="4.4"/><circle cx="540.6" cy="1676.7" r="4.4"/><circle cx="591.4" cy="1438.1" r="4.4"/><circle cx="591.4" cy="1447.7" r="4.4"/><circle cx="591.4" cy="1491.6" r="4.4"/><circle cx="591.4" cy="1500.1" r="4.4"/><circle cx="591.4" cy="1552.1" r="4.4"/><circle cx="591.4" cy="1561.1" r="4.4"/><circle cx="591.4" cy="1564.2" r="4.4"/><circle cx="591.4" cy="1583.8" r="4.4"/><circle cx="591.4" cy="1599" r="4.4"/><circle cx="591.4" cy="1611.7" r="4.4"/><circle cx="591.4" cy="1617.1" r="4.4"/><circle cx="591.4" cy="1623.1" r="4.4"/><circle cx="591.4" cy="1638.3" r="4.4"/><circle cx="591.4" cy="1640" r="4.4"/><circle cx="591.4" cy="1641.7" r="4.4"/><circle cx="591.4" cy="1643.4" r="4.4"/><circle cx="591.4" cy="1645.1" r="4.4"/><circle cx="591.4" cy="1646.8" r="4.4"/><circle cx="591.4" cy="1648.5" r="4.4"/><circle cx="591.4" cy="1650.2" r="4.4"/><circle cx="591.4" cy="1651.9" r="4.4"/><circle cx="591.4" cy="1653.6" r="4.4"/><circle cx="591.4" cy="1655.3" r="4.4"/><circle cx="591.4" cy="1657" r="4.4"/><circle cx="591.4" cy="1658.7" r="4.4"/><circle cx="591.4" cy="1660.4" r="4.4"/><circle cx="591.4" cy="1662.1" r="4.4"/><circle cx="591.4" cy="1663.8" r="4.4"/><circle cx="591.4" cy="1665.5" r="4.4"/><circle cx="591.4" cy="1667.2" r="4.4"/><circle cx="591.4" cy="1668.9" r="4.4"/><circle cx="591.4" cy="1670.6" r="4.4"/><circle cx="591.4" cy="1672.3" r="4.4"/><circle cx="591.4" cy="1674" r="4.4"/><circle cx="591.4" cy="1675.7" r="4.4"/><circle cx="591.4" cy="1677.4" r="4.4"/><circle cx="591.4" cy="1679.1" r="4.4"/><circle cx="591.4" cy="1680.8" r="4.4"/><circle cx="591.4" cy="1682.5" r="4.4"/><circle cx="591.4" cy="1684.2" r="4.4"/><circle cx="591.4" cy="1685.9" r="4.4"/><circle cx="591.4" cy="1687.6" r="4.4"/><circle cx="641.9" cy="1499.2" r="4.4"/><circle cx="641.9" cy="1505.8" r="4.4"/><circle cx="641.9" cy="1508.8" r="4.4"/><circle cx="641.9" cy="1558.7" r="4.4"/><circle cx="641.9" cy="1589.9" r="4.4"/><circle cx="641.9" cy="1611.7" r="4.4"/><circle cx="641.9" cy="1615.6" r="4.4"/><circle cx="641.9" cy="1635.2" r="4.4"/><circle cx="641.9" cy="1639.8" r="4.4"/><circle cx="641.9" cy="1647.3" r="4.4"/><circle cx="641.9" cy="1649" r="4.4"/><circle cx="641.9" cy="1650.7" r="4.4"/><circle cx="641.9" cy="1652.4" r="4.4"/><circle cx="641.9" cy="1654" r="4.4"/><circle cx="641.9" cy="1655.7" r="4.4"/><circle cx="641.9" cy="1657.4" r="4.4"/><circle cx="641.9" cy="1659.1" r="4.4"/><circle cx="641.9" cy="1660.7" r="4.4"/><circle cx="641.9" cy="1662.4" r="4.4"/><circle cx="641.9" cy="1664.1" r="4.4"/><circle cx="641.9" cy="1665.8" r="4.4"/><circle cx="641.9" cy="1667.4" r="4.4"/><circle cx="641.9" cy="1669.1" r="4.4"/><circle cx="641.9" cy="1670.8" r="4.4"/><circle cx="641.9" cy="1672.5" r="4.4"/><circle cx="641.9" cy="1674.2" r="4.4"/><circle cx="641.9" cy="1675.8" r="4.4"/><circle cx="641.9" cy="1677.5" r="4.4"/><circle cx="641.9" cy="1679.2" r="4.4"/><circle cx="641.9" cy="1680.9" r="4.4"/><circle cx="641.9" cy="1682.5" r="4.4"/><circle cx="641.9" cy="1684.2" r="4.4"/><circle cx="641.9" cy="1685.9" r="4.4"/><circle cx="641.9" cy="1687.6" r="4.4"/><circle cx="692.7" cy="1481.3" r="4.4"/><circle cx="692.7" cy="1522.7" r="4.4"/><circle cx="692.7" cy="1543" r="4.4"/><circle cx="692.7" cy="1546" r="4.4"/><circle cx="692.7" cy="1583.2" r="4.4"/><circle cx="692.7" cy="1613.2" r="4.4"/><circle cx="692.7" cy="1657" r="4.4"/><circle cx="692.7" cy="1665.5" r="4.4"/><circle cx="692.7" cy="1671.5" r="4.4"/><circle cx="692.7" cy="1677.6" r="4.4"/><circle cx="692.7" cy="1683.6" r="4.4"/><circle cx="692.7" cy="1687.6" r="4.4"/></g>
<path d="M508 1383.9V1687.6" stroke="#000" stroke-width="2.5" fill="none"/>
<path d="M498.9 1687.6H726.6" stroke="#000" stroke-width="2.5" fill="none"/>
<text x="494.8" y="1391.3" font-size="16.3" font-weight="bold" text-anchor="end" stroke="#000" stroke-width="0.4">20</text>
<text x="494.8" y="1466.9" font-size="16.3" font-weight="bold" text-anchor="end" stroke="#000" stroke-width="0.4">15</text>
<text x="494.8" y="1542.6" font-size="16.3" font-weight="bold" text-anchor="end" stroke="#000" stroke-width="0.4">10</text>
<text x="494.8" y="1618.2" font-size="16.3" font-weight="bold" text-anchor="end" stroke="#000" stroke-width="0.4">5</text>
<text x="494.8" y="1693.8" font-size="16.3" font-weight="bold" text-anchor="end" stroke="#000" stroke-width="0.4">0</text>
<path d="M499.5 1385.1H508M499.5 1460.7H508M499.5 1536.4H508M499.5 1612H508M499.5 1687.6H508M540.6 1687.6V1697.1M591.4 1687.6V1697.1M641.9 1687.6V1697.1M692.7 1687.6V1697.1" stroke="#000" stroke-width="2.5" fill="none"/>
<g transform="translate(539.6 1712.1) rotate(-45)" font-size="16.7" font-weight="bold" text-anchor="end" stroke="#000" stroke-width="0.45"><text x="-1" y="-1.5">Healthy</text><text x="-1" y="18.5">Volunteers</text></g>
<g transform="translate(590.4 1708.1) rotate(-45)" font-size="16.7" font-weight="bold" text-anchor="end" stroke="#000" stroke-width="0.45"><text x="0" y="6">ICU Day 1</text></g>
<g transform="translate(640.9 1708.1) rotate(-45)" font-size="16.7" font-weight="bold" text-anchor="end" stroke="#000" stroke-width="0.45"><text x="0" y="6">ICU Day 3</text></g>
<g transform="translate(691.7 1708.1) rotate(-45)" font-size="16.7" font-weight="bold" text-anchor="end" stroke="#000" stroke-width="0.45"><text x="0" y="6">ICU Day 7</text></g>
<path d="M540.6 1330.7V1317.1H692.7V1469.8" stroke="#000" stroke-width="2.4" fill="none"/>
<text x="616.2" y="1307" font-size="17.6" text-anchor="middle" stroke="#000" stroke-width="0.25">p = 0.0151</text>
<path d="M540.6 1379.1V1365.5H641.9V1488" stroke="#000" stroke-width="2.4" fill="none"/>
<text x="591.1" y="1354.5" font-size="17.6" text-anchor="middle" stroke="#000" stroke-width="0.25">p &lt; 0.0001</text>
<path d="M540.6 1459.2V1412.4H591.4V1426" stroke="#000" stroke-width="2.4" fill="none"/>
<text x="566.3" y="1402.3" font-size="17.6" text-anchor="middle" stroke="#000" stroke-width="0.25">p = 0.0004</text>
</g>
<g id="bp-Enterobacteriaceae">
<text x="998.1" y="1270.2" font-size="20.9" font-weight="bold" text-anchor="middle">Enterobacteriaceae</text>
<text x="838" y="1536.7" font-size="17.5" font-weight="bold" text-anchor="middle" transform="rotate(-90 838 1536.7)" stroke="#000" stroke-width="0.7">Relative Abundance (%)</text>
<rect x="907.2" y="1685.4" width="30" height="2.1" fill="#8c8c8c" stroke="#000" stroke-width="2.9"/>
<path d="M907.2 1686.7H937.2" stroke="#000" stroke-width="2.9"/>
<rect x="958" y="1649.5" width="30" height="35.7" fill="#c8ecc8" stroke="#000" stroke-width="2.9"/>
<path d="M958 1680.6H988" stroke="#000" stroke-width="2.9"/>
<rect x="1008.5" y="1660.9" width="30" height="25.1" fill="#c8ecc8" stroke="#000" stroke-width="2.9"/>
<path d="M1008.5 1683.6H1038.5" stroke="#000" stroke-width="2.9"/>
<rect x="1059.3" y="1670.6" width="30" height="14.5" fill="#c8ecc8" stroke="#000" stroke-width="2.9"/>
<path d="M1059.3 1683H1089.3" stroke="#000" stroke-width="2.9"/>
<path d="M973 1480.4L1023.5 1656.4M973 1484L1023.5 1622.5M973 1559L1023.5 1683.6M973 1573.2L1023.5 1615.6M973 1576.3L1023.5 1686.7M973 1617.1L1023.5 1668.5M973 1624.7L1023.5 1641.3M1023.5 1641.3L1074.3 1677.6M973 1677.6L1023.5 1396.3M973 1680.6L1023.5 1432M973 1683.6L1023.5 1490.7M1023.5 1490.7L1074.3 1665.5M973 1685.1L1023.5 1572.6M1023.5 1572.6L1074.3 1671.5M973 1653.4L1023.5 1602M1023.5 1602L1074.3 1682.1M973 1668.5L1023.5 1396.3M973 1659.4L1023.5 1572.6M1023.5 1615.6L1074.3 1658.8M1023.5 1602L1074.3 1685.1M1023.5 1490.7L1074.3 1677.6M973 1629.2L1023.5 1683.6M973 1632.2L1023.5 1677.6M973 1645.8L1023.5 1680.6M1023.5 1680.6L1074.3 1658.8M973 1662.2L1023.5 1663.3M973 1675.2L1023.5 1660.2M973 1670.8L1023.5 1670.3M973 1649.3L1023.5 1674.5M973 1648L1023.5 1672.4M973 1650L1023.5 1661M973 1666.4L1023.5 1683.2M973 1652.9L1023.5 1665.8M973 1674.3L1023.5 1686.3M973 1672.4L1023.5 1671.3M973 1686.7L1023.5 1659.1M973 1682.7L1023.5 1668M973 1654L1023.5 1662M973 1661.6L1023.5 1682.9M973 1655.8L1023.5 1676.6M973 1674.7L1023.5 1670.5M973 1671.3L1023.5 1659.8M973 1649.4L1023.5 1665.2M973 1676.3L1023.5 1672.2M973 1661.8L1023.5 1676.7M973 1667.6L1023.5 1668.3M973 1680.4L1023.5 1679.8M973 1658.7L1023.5 1676.4M973 1670.4L1023.5 1684.4M973 1678L1023.5 1667.9M1023.5 1687.1L1074.3 1677.6M1023.5 1674.6L1074.3 1682.1M1023.5 1681.3L1074.3 1682.1M1023.5 1685.9L1074.3 1687.6M1023.5 1658.7L1074.3 1677.6M1023.5 1681.5L1074.3 1685.1M1023.5 1669.6L1074.3 1685.1M1023.5 1677L1074.3 1687.6M1023.5 1660.1L1074.3 1677.6M1023.5 1686.2L1074.3 1687.6" stroke="#747474" stroke-width="0.9" fill="none"/>
<path d="M922.2 1677V1685.4M922.2 1687.6V1687.6M912.2 1677H932.2M912.2 1687.6H932.2" stroke="#000" stroke-width="2.6" fill="none"/>
<path d="M973 1480.4V1649.5M973 1685.1V1687.6M963 1480.4H983M963 1687.6H983" stroke="#000" stroke-width="2.6" fill="none"/>
<path d="M1023.5 1396.3V1660.9M1023.5 1686V1687.6M1013.5 1396.3H1033.5M1013.5 1687.6H1033.5" stroke="#000" stroke-width="2.6" fill="none"/>
<path d="M1074.3 1658.8V1670.6M1074.3 1685.1V1687.6M1064.3 1658.8H1084.3M1064.3 1687.6H1084.3" stroke="#000" stroke-width="2.6" fill="none"/>
<g fill="#000"><circle cx="922.2" cy="1677" r="4.4"/><circle cx="922.2" cy="1682.1" r="4.4"/><circle cx="922.2" cy="1685.1" r="4.4"/><circle cx="922.2" cy="1686.7" r="4.4"/><circle cx="973" cy="1480.4" r="4.4"/><circle cx="973" cy="1484" r="4.4"/><circle cx="973" cy="1559" r="4.4"/><circle cx="973" cy="1573.2" r="4.4"/><circle cx="973" cy="1576.3" r="4.4"/><circle cx="973" cy="1617.1" r="4.4"/><circle cx="973" cy="1624.7" r="4.4"/><circle cx="973" cy="1629.2" r="4.4"/><circle cx="973" cy="1632.2" r="4.4"/><circle cx="973" cy="1645.8" r="4.4"/><circle cx="973" cy="1650.4" r="4.4"/><circle cx="973" cy="1651.9" r="4.4"/><circle cx="973" cy="1653.5" r="4.4"/><circle cx="973" cy="1655" r="4.4"/><circle cx="973" cy="1656.6" r="4.4"/><circle cx="973" cy="1658.1" r="4.4"/><circle cx="973" cy="1659.7" r="4.4"/><circle cx="973" cy="1661.2" r="4.4"/><circle cx="973" cy="1662.8" r="4.4"/><circle cx="973" cy="1664.3" r="4.4"/><circle cx="973" cy="1665.9" r="4.4"/><circle cx="973" cy="1667.4" r="4.4"/><circle cx="973" cy="1669" r="4.4"/><circle cx="973" cy="1670.5" r="4.4"/><circle cx="973" cy="1672.1" r="4.4"/><circle cx="973" cy="1673.6" r="4.4"/><circle cx="973" cy="1675.2" r="4.4"/><circle cx="973" cy="1676.7" r="4.4"/><circle cx="973" cy="1678.3" r="4.4"/><circle cx="973" cy="1679.8" r="4.4"/><circle cx="973" cy="1681.4" r="4.4"/><circle cx="973" cy="1682.9" r="4.4"/><circle cx="973" cy="1684.5" r="4.4"/><circle cx="973" cy="1686" r="4.4"/><circle cx="973" cy="1687.6" r="4.4"/><circle cx="1023.5" cy="1396.3" r="4.4"/><circle cx="1023.5" cy="1432" r="4.4"/><circle cx="1023.5" cy="1490.7" r="4.4"/><circle cx="1023.5" cy="1572.6" r="4.4"/><circle cx="1023.5" cy="1602" r="4.4"/><circle cx="1023.5" cy="1615.6" r="4.4"/><circle cx="1023.5" cy="1622.5" r="4.4"/><circle cx="1023.5" cy="1641.3" r="4.4"/><circle cx="1023.5" cy="1656.4" r="4.4"/><circle cx="1023.5" cy="1668.5" r="4.4"/><circle cx="1023.5" cy="1669.9" r="4.4"/><circle cx="1023.5" cy="1671.2" r="4.4"/><circle cx="1023.5" cy="1672.6" r="4.4"/><circle cx="1023.5" cy="1674" r="4.4"/><circle cx="1023.5" cy="1675.3" r="4.4"/><circle cx="1023.5" cy="1676.7" r="4.4"/><circle cx="1023.5" cy="1678" r="4.4"/><circle cx="1023.5" cy="1679.4" r="4.4"/><circle cx="1023.5" cy="1680.8" r="4.4"/><circle cx="1023.5" cy="1682.1" r="4.4"/><circle cx="1023.5" cy="1683.5" r="4.4"/><circle cx="1023.5" cy="1684.8" r="4.4"/><circle cx="1023.5" cy="1686.2" r="4.4"/><circle cx="1023.5" cy="1687.6" r="4.4"/><circle cx="1074.3" cy="1658.8" r="4.4"/><circle cx="1074.3" cy="1665.5" r="4.4"/><circle cx="1074.3" cy="1671.5" r="4.4"/><circle cx="1074.3" cy="1677.6" r="4.4"/><circle cx="1074.3" cy="1682.1" r="4.4"/><circle cx="1074.3" cy="1685.1" r="4.4"/><circle cx="1074.3" cy="1687.6" r="4.4"/></g>
<path d="M889.2 1384.5V1687.6" stroke="#000" stroke-width="2.5" fill="none"/>
<path d="M880.1 1687.6H1107.5" stroke="#000" stroke-width="2.5" fill="none"/>
<text x="876" y="1391.9" font-size="16.3" font-weight="bold" text-anchor="end" stroke="#000" stroke-width="0.4">100</text>
<text x="876" y="1467.6" font-size="16.3" font-weight="bold" text-anchor="end" stroke="#000" stroke-width="0.4">75</text>
<text x="876" y="1543.2" font-size="16.3" font-weight="bold" text-anchor="end" stroke="#000" stroke-width="0.4">50</text>
<text x="876" y="1618.2" font-size="16.3" font-weight="bold" text-anchor="end" stroke="#000" stroke-width="0.4">25</text>
<text x="876" y="1693.8" font-size="16.3" font-weight="bold" text-anchor="end" stroke="#000" stroke-width="0.4">0</text>
<path d="M880.7 1385.7H889.2M880.7 1461.4H889.2M880.7 1537H889.2M880.7 1612H889.2M880.7 1687.6H889.2M922.2 1687.6V1697.1M973 1687.6V1697.1M1023.5 1687.6V1697.1M1074.3 1687.6V1697.1" stroke="#000" stroke-width="2.5" fill="none"/>
<g transform="translate(921.2 1712.1) rotate(-45)" font-size="16.7" font-weight="bold" text-anchor="end" stroke="#000" stroke-width="0.45"><text x="-1" y="-1.5">Healthy</text><text x="-1" y="18.5">Volunteers</text></g>
<g transform="translate(972 1708.1) rotate(-45)" font-size="16.7" font-weight="bold" text-anchor="end" stroke="#000" stroke-width="0.45"><text x="0" y="6">ICU Day 1</text></g>
<g transform="translate(1022.5 1708.1) rotate(-45)" font-size="16.7" font-weight="bold" text-anchor="end" stroke="#000" stroke-width="0.45"><text x="0" y="6">ICU Day 3</text></g>
<g transform="translate(1073.3 1708.1) rotate(-45)" font-size="16.7" font-weight="bold" text-anchor="end" stroke="#000" stroke-width="0.45"><text x="0" y="6">ICU Day 7</text></g>
<path d="M922.2 1336.8V1323.1H1023.5V1384.2" stroke="#000" stroke-width="2.4" fill="none"/>
<text x="973" y="1312.2" font-size="17.6" text-anchor="middle" stroke="#000" stroke-width="0.25">p = 0.0105</text>
<path d="M922.2 1665.5V1370H973V1468.9" stroke="#000" stroke-width="2.4" fill="none"/>
<text x="947.3" y="1360.5" font-size="17.6" text-anchor="middle" stroke="#000" stroke-width="0.25">p = 0.0041</text>
</g>
<g id="bp-Enterococcaceae">
<text x="1373.2" y="1312.6" font-size="20.9" font-weight="bold" text-anchor="middle">Enterococcaceae</text>
<text x="1223.2" y="1535.9" font-size="17.5" font-weight="bold" text-anchor="middle" transform="rotate(-90 1223.2 1535.9)" stroke="#000" stroke-width="0.7">Relative Abundance (%)</text>
<path d="M1347.8 1617.7L1398.3 1594.4M1398.3 1594.4L1449.1 1525.8M1347.8 1683.6L1398.3 1481.9M1347.8 1638.9L1398.3 1685.1M1347.8 1668.5L1398.3 1659.4M1398.3 1659.4L1449.1 1683.6M1347.8 1680.6L1398.3 1597.4M1347.8 1682.1L1398.3 1646.4M1347.8 1677.6L1398.3 1673M1398.3 1673L1449.1 1557.5M1347.8 1685.1L1398.3 1683.6M1398.3 1683.6L1449.1 1686.7M1347.8 1665.5L1398.3 1686.7M1347.8 1686.7L1398.3 1685.1M1398.3 1685.1L1449.1 1687.6M1347.8 1687.6L1398.3 1686.7M1398.3 1686.7L1449.1 1687.6" stroke="#747474" stroke-width="0.9" fill="none"/>
<path d="M1297.3 1686.4V1687.6M1287.3 1686.4H1307.3M1287.3 1687.6H1307.3" stroke="#000" stroke-width="2.6" fill="none"/>
<path d="M1347.8 1546V1687.6M1337.8 1546H1357.8M1337.8 1687.6H1357.8" stroke="#000" stroke-width="2.6" fill="none"/>
<path d="M1398.3 1481.9V1687.6M1388.3 1481.9H1408.3M1388.3 1687.6H1408.3" stroke="#000" stroke-width="2.6" fill="none"/>
<path d="M1449.1 1525.8V1687.6M1439.1 1525.8H1459.1M1439.1 1687.6H1459.1" stroke="#000" stroke-width="2.6" fill="none"/>
<g fill="#000"><circle cx="1297.3" cy="1687" r="4.4"/><circle cx="1347.8" cy="1546" r="4.4"/><circle cx="1347.8" cy="1617.7" r="4.4"/><circle cx="1347.8" cy="1638.9" r="4.4"/><circle cx="1347.8" cy="1665.5" r="4.4"/><circle cx="1347.8" cy="1668.5" r="4.4"/><circle cx="1347.8" cy="1677.6" r="4.4"/><circle cx="1347.8" cy="1682.1" r="4.4"/><circle cx="1347.8" cy="1685.1" r="4.4"/><circle cx="1347.8" cy="1687.6" r="4.4"/><circle cx="1398.3" cy="1481.9" r="4.4"/><circle cx="1398.3" cy="1594.4" r="4.4"/><circle cx="1398.3" cy="1597.4" r="4.4"/><circle cx="1398.3" cy="1646.4" r="4.4"/><circle cx="1398.3" cy="1659.4" r="4.4"/><circle cx="1398.3" cy="1673" r="4.4"/><circle cx="1398.3" cy="1683.6" r="4.4"/><circle cx="1398.3" cy="1686.7" r="4.4"/><circle cx="1449.1" cy="1525.8" r="4.4"/><circle cx="1449.1" cy="1557.5" r="4.4"/><circle cx="1449.1" cy="1683.6" r="4.4"/><circle cx="1449.1" cy="1687.6" r="4.4"/></g>
<path d="M1264.4 1383V1687.6" stroke="#000" stroke-width="2.5" fill="none"/>
<path d="M1254.7 1687.6H1483" stroke="#000" stroke-width="2.5" fill="none"/>
<text x="1251.2" y="1390.4" font-size="16.3" font-weight="bold" text-anchor="end" stroke="#000" stroke-width="0.4">15</text>
<text x="1251.2" y="1491.7" font-size="16.3" font-weight="bold" text-anchor="end" stroke="#000" stroke-width="0.4">10</text>
<text x="1251.2" y="1592.5" font-size="16.3" font-weight="bold" text-anchor="end" stroke="#000" stroke-width="0.4">5</text>
<text x="1251.2" y="1693.8" font-size="16.3" font-weight="bold" text-anchor="end" stroke="#000" stroke-width="0.4">0</text>
<path d="M1255.9 1384.2H1264.4M1255.9 1485.5H1264.4M1255.9 1586.2H1264.4M1255.9 1687.6H1264.4M1297.3 1687.6V1697.1M1347.8 1687.6V1697.1M1398.3 1687.6V1697.1M1449.1 1687.6V1697.1" stroke="#000" stroke-width="2.5" fill="none"/>
<g transform="translate(1296.3 1712.1) rotate(-45)" font-size="16.7" font-weight="bold" text-anchor="end" stroke="#000" stroke-width="0.45"><text x="-1" y="-1.5">Healthy</text><text x="-1" y="18.5">Volunteers</text></g>
<g transform="translate(1346.8 1708.1) rotate(-45)" font-size="16.7" font-weight="bold" text-anchor="end" stroke="#000" stroke-width="0.45"><text x="0" y="6">ICU Day 1</text></g>
<g transform="translate(1397.3 1708.1) rotate(-45)" font-size="16.7" font-weight="bold" text-anchor="end" stroke="#000" stroke-width="0.45"><text x="0" y="6">ICU Day 3</text></g>
<g transform="translate(1448.1 1708.1) rotate(-45)" font-size="16.7" font-weight="bold" text-anchor="end" stroke="#000" stroke-width="0.45"><text x="0" y="6">ICU Day 7</text></g>
<path d="M1297.3 1374.6V1360.9H1449.1V1514.3" stroke="#000" stroke-width="2.4" fill="none"/>
<text x="1373.2" y="1351.5" font-size="17.6" text-anchor="middle" stroke="#000" stroke-width="0.25">p = 0.0334</text>
<path d="M1297.3 1422V1409H1398.3V1470.4" stroke="#000" stroke-width="2.4" fill="none"/>
<text x="1347.8" y="1398.3" font-size="17.6" text-anchor="middle" stroke="#000" stroke-width="0.25">p = 0.0334</text>
<path d="M1297.3 1674.6V1456.2H1347.8V1533.9" stroke="#000" stroke-width="2.4" fill="none"/>
<text x="1322.7" y="1446.1" font-size="17.6" text-anchor="middle" stroke="#000" stroke-width="0.25">p = 0.0413</text>
</g>
<g id="bp-Staphylococcaceae">
<text x="240.2" y="1858.3" font-size="20.9" font-weight="bold" text-anchor="middle">Staphylococcaceae</text>
<text x="84.9" y="2038.7" font-size="17.5" font-weight="bold" text-anchor="middle" transform="rotate(-90 84.9 2038.7)" stroke="#000" stroke-width="0.7">Relative Abundance (%)</text>
<rect x="149.3" y="2180.1" width="30" height="8.3" fill="#8c8c8c" stroke="#000" stroke-width="2.9"/>
<path d="M149.3 2184.7H179.3" stroke="#000" stroke-width="2.9"/>
<rect x="200" y="2180.9" width="30" height="7.6" fill="#c8ecc8" stroke="#000" stroke-width="2.9"/>
<path d="M200 2185.9H230" stroke="#000" stroke-width="2.9"/>
<rect x="250.9" y="2185.2" width="30" height="3.8" fill="#c8ecc8" stroke="#000" stroke-width="2.9"/>
<path d="M250.9 2187.7H280.9" stroke="#000" stroke-width="2.9"/>
<rect x="301.3" y="2178.9" width="30" height="9.6" fill="#c8ecc8" stroke="#000" stroke-width="2.9"/>
<path d="M301.3 2184.2H331.3" stroke="#000" stroke-width="2.9"/>
<path d="M215 2117.1L265.9 2187.2M215 2143.1L265.9 2188.4M215 2146.9L265.9 2082.6M215 2149.9L265.9 2185.9M215 2162L265.9 2005.2M215 2165.8L265.9 2167M265.9 2167L316.3 2189.7M215 2174.6L265.9 2086.4M215 2178.4L265.9 2177.1M265.9 2177.1L316.3 2160.2M215 2180.9L265.9 2189.7M215 2162L265.9 2167M265.9 2167L316.3 2188.4M215 2183.4L265.9 2184.7M265.9 2184.7L316.3 2178.4M215 2185.9L265.9 2180.9M215 2188.4L265.9 2187.2M265.9 2187.2L316.3 2183.4M215 2143.1L265.9 2189.7M215 1891.1L228.1 1958.4M230.8 1977.3L264.6 2188.4M215 2182.1L259.6 1977.3M215 2187.2L263.4 1977.3M262.1 1958.4L265.9 1956.8M265.9 2189.7L306.2 1977.3M265.9 2185.9L312 1977.3M265.9 2086.4L303.7 1977.3M312.5 1958.4L316.3 1950.3" stroke="#444" stroke-width="0.9" fill="none"/>
<path d="M164.3 2113.3V2180.1M164.3 2188.4V2189.7M154.3 2113.3H174.3M154.3 2189.7H174.3" stroke="#000" stroke-width="2.6" fill="none"/>
<path d="M215 1891.1V2180.9M215 2188.4V2189.7M205 1891.1H225M205 2189.7H225" stroke="#000" stroke-width="2.6" fill="none"/>
<path d="M265.9 1956.8V2185.2M265.9 2188.9V2189.7M255.9 1956.8H275.9M255.9 2189.7H275.9" stroke="#000" stroke-width="2.6" fill="none"/>
<path d="M316.3 1947V2178.9M316.3 2188.4V2189.7M306.3 1947H326.3M306.3 2189.7H326.3" stroke="#000" stroke-width="2.6" fill="none"/>
<g fill="#000"><circle cx="164.3" cy="2113.3" r="4.4"/><circle cx="164.3" cy="2170.8" r="4.4"/><circle cx="164.3" cy="2174.6" r="4.4"/><circle cx="164.3" cy="2178.4" r="4.4"/><circle cx="164.3" cy="2182.1" r="4.4"/><circle cx="164.3" cy="2185.9" r="4.4"/><circle cx="164.3" cy="2188.4" r="4.4"/><circle cx="164.3" cy="2189.7" r="4.4"/><circle cx="215" cy="1891.1" r="4.4"/><circle cx="215" cy="2117.1" r="4.4"/><circle cx="215" cy="2143.1" r="4.4"/><circle cx="215" cy="2146.9" r="4.4"/><circle cx="215" cy="2149.9" r="4.4"/><circle cx="215" cy="2162" r="4.4"/><circle cx="215" cy="2165.8" r="4.4"/><circle cx="215" cy="2174.6" r="4.4"/><circle cx="215" cy="2178.4" r="4.4"/><circle cx="215" cy="2180.9" r="4.4"/><circle cx="215" cy="2183.4" r="4.4"/><circle cx="215" cy="2185.9" r="4.4"/><circle cx="215" cy="2188.4" r="4.4"/><circle cx="215" cy="2189.7" r="4.4"/><circle cx="265.9" cy="1956.8" r="4.4"/><circle cx="265.9" cy="2005.2" r="4.4"/><circle cx="265.9" cy="2082.6" r="4.4"/><circle cx="265.9" cy="2086.4" r="4.4"/><circle cx="265.9" cy="2167" r="4.4"/><circle cx="265.9" cy="2177.1" r="4.4"/><circle cx="265.9" cy="2180.9" r="4.4"/><circle cx="265.9" cy="2184.7" r="4.4"/><circle cx="265.9" cy="2187.2" r="4.4"/><circle cx="265.9" cy="2189.7" r="4.4"/><circle cx="316.3" cy="1947" r="4.4"/><circle cx="316.3" cy="1950.3" r="4.4"/><circle cx="316.3" cy="2160.2" r="4.4"/><circle cx="316.3" cy="2178.4" r="4.4"/><circle cx="316.3" cy="2183.4" r="4.4"/><circle cx="316.3" cy="2189.7" r="4.4"/></g>
<rect x="119" y="1959.6" width="233.3" height="16.5" fill="#fff"/>
<path d="M131 1886.5V1958.4M131 1977.3V2189.7" stroke="#000" stroke-width="2.5" fill="none"/>
<path d="M122.7 2189.7H350.3" stroke="#000" stroke-width="2.5" fill="none"/>
<text x="117.8" y="1894" font-size="16.3" font-weight="bold" text-anchor="end" stroke="#000" stroke-width="0.4">10</text>
<text x="117.8" y="1909.1" font-size="16.3" font-weight="bold" text-anchor="end" stroke="#000" stroke-width="0.4">8</text>
<text x="117.8" y="1923.7" font-size="16.3" font-weight="bold" text-anchor="end" stroke="#000" stroke-width="0.4">6</text>
<text x="117.8" y="1938.8" font-size="16.3" font-weight="bold" text-anchor="end" stroke="#000" stroke-width="0.4">4</text>
<text x="117.8" y="1953.5" font-size="16.3" font-weight="bold" text-anchor="end" stroke="#000" stroke-width="0.4">2</text>
<text x="117.8" y="1983.5" font-size="16.3" font-weight="bold" text-anchor="end" stroke="#000" stroke-width="0.4">0.5</text>
<text x="117.8" y="2026" font-size="16.3" font-weight="bold" text-anchor="end" stroke="#000" stroke-width="0.4">0.4</text>
<text x="117.8" y="2068.6" font-size="16.3" font-weight="bold" text-anchor="end" stroke="#000" stroke-width="0.4">0.3</text>
<text x="117.8" y="2111" font-size="16.3" font-weight="bold" text-anchor="end" stroke="#000" stroke-width="0.4">0.2</text>
<text x="117.8" y="2153.6" font-size="16.3" font-weight="bold" text-anchor="end" stroke="#000" stroke-width="0.4">0.1</text>
<text x="117.8" y="2195.9" font-size="16.3" font-weight="bold" text-anchor="end" stroke="#000" stroke-width="0.4">0.0</text>
<path d="M122.5 1887.8H131M122.5 1902.9H131M122.5 1917.5H131M122.5 1932.6H131M122.5 1947.3H131M122.5 1958.4H137M122.5 1977.3H137M122.5 2019.8H131M122.5 2062.4H131M122.5 2104.8H131M122.5 2147.4H131M122.5 2189.7H131M164.3 2189.7V2199.2M215 2189.7V2199.2M265.9 2189.7V2199.2M316.3 2189.7V2199.2" stroke="#000" stroke-width="2.5" fill="none"/>
<g transform="translate(163.3 2214.2) rotate(-45)" font-size="16.7" font-weight="bold" text-anchor="end" stroke="#000" stroke-width="0.45"><text x="-1" y="-1.5">Healthy</text><text x="-1" y="18.5">Volunteers</text></g>
<g transform="translate(214 2210.2) rotate(-45)" font-size="16.7" font-weight="bold" text-anchor="end" stroke="#000" stroke-width="0.45"><text x="0" y="6">ICU Day 1</text></g>
<g transform="translate(264.9 2210.2) rotate(-45)" font-size="16.7" font-weight="bold" text-anchor="end" stroke="#000" stroke-width="0.45"><text x="0" y="6">ICU Day 3</text></g>
<g transform="translate(315.3 2210.2) rotate(-45)" font-size="16.7" font-weight="bold" text-anchor="end" stroke="#000" stroke-width="0.45"><text x="0" y="6">ICU Day 7</text></g>
</g>
<g id="bp-Streptococcaceae">
<text x="614.2" y="1858.3" font-size="20.9" font-weight="bold" text-anchor="middle">Streptococcaceae</text>
<text x="460.5" y="2038.7" font-size="17.5" font-weight="bold" text-anchor="middle" transform="rotate(-90 460.5 2038.7)" stroke="#000" stroke-width="0.7">Relative Abundance (%)</text>
<rect x="522.9" y="2178.9" width="30" height="10.1" fill="#8c8c8c" stroke="#000" stroke-width="2.9"/>
<path d="M522.9 2185.9H552.9" stroke="#000" stroke-width="2.9"/>
<rect x="573.5" y="2173.8" width="30" height="14.6" fill="#c8ecc8" stroke="#000" stroke-width="2.9"/>
<path d="M573.5 2185.2H603.5" stroke="#000" stroke-width="2.9"/>
<rect x="624.4" y="2182.6" width="30" height="6.3" fill="#c8ecc8" stroke="#000" stroke-width="2.9"/>
<path d="M624.4 2187.2H654.4" stroke="#000" stroke-width="2.9"/>
<rect x="674.8" y="2187.2" width="30" height="2.5" fill="#c8ecc8" stroke="#000" stroke-width="2.9"/>
<path d="M674.8 2188.7H704.8" stroke="#000" stroke-width="2.9"/>
<path d="M588.5 2043L639.4 2182.1M588.5 2131L639.4 2117.1M588.5 2138L639.4 2185.9M588.5 2144.3L639.4 2182.1M588.5 2151.9L639.4 2178.4M588.5 2158.2L639.4 2189.7M588.5 2164.5L639.4 2173.3M588.5 2169.5L639.4 2187.2M588.5 2185.9L639.4 2044.3M588.5 2182.1L639.4 2124.7M588.5 2174.6L639.4 2162M639.4 2162L689.8 2160.2M588.5 2178.4L639.4 2165.8M639.4 2165.8L689.8 2189.7M588.5 2043L639.4 2167M639.4 2124.7L689.8 2184.7M639.4 2117.1L689.8 2188.4M639.4 2169.5L689.8 2160.2M588.5 2131L639.4 2185.9M588.5 2080.1L639.4 2188.4M588.5 2080.1L614.2 1991.4M618.8 1972.5L639.4 1902.4" stroke="#444" stroke-width="0.9" fill="none"/>
<path d="M537.9 2122.9V2178.9M537.9 2188.9V2189.7M527.9 2122.9H547.9M527.9 2189.7H547.9" stroke="#000" stroke-width="2.6" fill="none"/>
<path d="M588.5 2043V2173.8M588.5 2188.4V2189.7M578.5 2043H598.5M578.5 2189.7H598.5" stroke="#000" stroke-width="2.6" fill="none"/>
<path d="M639.4 1902.4V2182.6M639.4 2188.9V2189.7M629.4 1902.4H649.4M629.4 2189.7H649.4" stroke="#000" stroke-width="2.6" fill="none"/>
<path d="M689.8 2160.2V2187.2M689.8 2189.7V2189.7M679.8 2160.2H699.8M679.8 2189.7H699.8" stroke="#000" stroke-width="2.6" fill="none"/>
<g fill="#000"><circle cx="537.9" cy="2122.9" r="4.4"/><circle cx="537.9" cy="2156.9" r="4.4"/><circle cx="537.9" cy="2175.8" r="4.4"/><circle cx="537.9" cy="2180.9" r="4.4"/><circle cx="537.9" cy="2184.7" r="4.4"/><circle cx="537.9" cy="2187.2" r="4.4"/><circle cx="537.9" cy="2189.7" r="4.4"/><circle cx="588.5" cy="2043" r="4.4"/><circle cx="588.5" cy="2080.1" r="4.4"/><circle cx="588.5" cy="2131" r="4.4"/><circle cx="588.5" cy="2138" r="4.4"/><circle cx="588.5" cy="2144.3" r="4.4"/><circle cx="588.5" cy="2151.9" r="4.4"/><circle cx="588.5" cy="2158.2" r="4.4"/><circle cx="588.5" cy="2164.5" r="4.4"/><circle cx="588.5" cy="2169.5" r="4.4"/><circle cx="588.5" cy="2174.6" r="4.4"/><circle cx="588.5" cy="2178.4" r="4.4"/><circle cx="588.5" cy="2182.1" r="4.4"/><circle cx="588.5" cy="2185.9" r="4.4"/><circle cx="588.5" cy="2189.7" r="4.4"/><circle cx="639.4" cy="1902.4" r="4.4"/><circle cx="639.4" cy="2044.3" r="4.4"/><circle cx="639.4" cy="2117.1" r="4.4"/><circle cx="639.4" cy="2124.7" r="4.4"/><circle cx="639.4" cy="2162" r="4.4"/><circle cx="639.4" cy="2165.8" r="4.4"/><circle cx="639.4" cy="2169.5" r="4.4"/><circle cx="639.4" cy="2173.3" r="4.4"/><circle cx="639.4" cy="2178.4" r="4.4"/><circle cx="639.4" cy="2182.1" r="4.4"/><circle cx="639.4" cy="2185.9" r="4.4"/><circle cx="639.4" cy="2189.7" r="4.4"/><circle cx="689.8" cy="2160.2" r="4.4"/><circle cx="689.8" cy="2184.7" r="4.4"/><circle cx="689.8" cy="2189.7" r="4.4"/></g>
<rect x="492.6" y="1973.7" width="233.3" height="16.5" fill="#fff"/>
<path d="M504.6 1886.5V1972.5M504.6 1991.4V2189.7" stroke="#000" stroke-width="2.5" fill="none"/>
<path d="M495.8 2189.7H723.8" stroke="#000" stroke-width="2.5" fill="none"/>
<text x="491.4" y="1894" font-size="16.3" font-weight="bold" text-anchor="end" stroke="#000" stroke-width="0.4">30</text>
<text x="491.4" y="1922" font-size="16.3" font-weight="bold" text-anchor="end" stroke="#000" stroke-width="0.4">25</text>
<text x="491.4" y="1950.4" font-size="16.3" font-weight="bold" text-anchor="end" stroke="#000" stroke-width="0.4">20</text>
<text x="491.4" y="1978.7" font-size="16.3" font-weight="bold" text-anchor="end" stroke="#000" stroke-width="0.4">15</text>
<text x="491.4" y="1997.6" font-size="16.3" font-weight="bold" text-anchor="end" stroke="#000" stroke-width="0.4">15</text>
<text x="491.4" y="2063.6" font-size="16.3" font-weight="bold" text-anchor="end" stroke="#000" stroke-width="0.4">10</text>
<text x="491.4" y="2129.6" font-size="16.3" font-weight="bold" text-anchor="end" stroke="#000" stroke-width="0.4">5</text>
<text x="491.4" y="2195.9" font-size="16.3" font-weight="bold" text-anchor="end" stroke="#000" stroke-width="0.4">0</text>
<path d="M496.1 1887.8H504.6M496.1 1915.8H504.6M496.1 1944.2H504.6M496.1 1972.5H510.6M496.1 1991.4H510.6M496.1 2057.4H504.6M496.1 2123.4H504.6M496.1 2189.7H504.6M537.9 2189.7V2199.2M588.5 2189.7V2199.2M639.4 2189.7V2199.2M689.8 2189.7V2199.2" stroke="#000" stroke-width="2.5" fill="none"/>
<g transform="translate(536.9 2214.2) rotate(-45)" font-size="16.7" font-weight="bold" text-anchor="end" stroke="#000" stroke-width="0.45"><text x="-1" y="-1.5">Healthy</text><text x="-1" y="18.5">Volunteers</text></g>
<g transform="translate(587.5 2210.2) rotate(-45)" font-size="16.7" font-weight="bold" text-anchor="end" stroke="#000" stroke-width="0.45"><text x="0" y="6">ICU Day 1</text></g>
<g transform="translate(638.4 2210.2) rotate(-45)" font-size="16.7" font-weight="bold" text-anchor="end" stroke="#000" stroke-width="0.45"><text x="0" y="6">ICU Day 3</text></g>
<g transform="translate(688.8 2210.2) rotate(-45)" font-size="16.7" font-weight="bold" text-anchor="end" stroke="#000" stroke-width="0.45"><text x="0" y="6">ICU Day 7</text></g>
</g>
<g id="bp-Tannerellaceae">
<text x="987.8" y="1859.6" font-size="20.9" font-weight="bold" text-anchor="middle">Tannerellaceae</text>
<text x="836.6" y="2039.1" font-size="17.5" font-weight="bold" text-anchor="middle" transform="rotate(-90 836.6 2039.1)" stroke="#000" stroke-width="0.7">Relative Abundance (%)</text>
<rect x="897" y="2167.5" width="30" height="20.4" fill="#8c8c8c" stroke="#000" stroke-width="2.9"/>
<path d="M897 2185.9H927" stroke="#000" stroke-width="2.9"/>
<rect x="947.6" y="2174.6" width="30" height="13.9" fill="#c8ecc8" stroke="#000" stroke-width="2.9"/>
<path d="M947.6 2184.7H977.6" stroke="#000" stroke-width="2.9"/>
<rect x="998" y="2172.1" width="30" height="15.9" fill="#c8ecc8" stroke="#000" stroke-width="2.9"/>
<path d="M998 2183.4H1028" stroke="#000" stroke-width="2.9"/>
<rect x="1048.9" y="2128.7" width="30" height="59.2" fill="#c8ecc8" stroke="#000" stroke-width="2.9"/>
<path d="M1048.9 2179.6H1078.9" stroke="#000" stroke-width="2.9"/>
<path d="M962.6 2001.2L1013 1964.7M1013 1964.7L1063.9 2067.5M962.6 2109.6L1013 1920.8M962.6 2109.6L1013 2098.5M962.6 2126.7L1013 2133M1013 2133L1063.9 2127.5M962.6 2138.8L1013 2124.7M962.6 2151.9L1013 2140.6M1013 2140.6L1063.9 2138M962.6 2161.5L1013 2189.7M962.6 2168.3L1013 2166.5M1013 2166.5L1063.9 2189.7M962.6 2173.3L1013 2187.2M1013 2187.2L1063.9 2116.6M962.6 2178.4L1013 2172.1M1013 2172.1L1063.9 2119.6M962.6 2182.1L1013 2143.1M1013 2143.1L1063.9 2183.4M962.6 2185.9L1013 2179.6M1013 2179.6L1063.9 2146.9M962.6 2189.7L1013 2183.4M1013 2183.4L1063.9 2158.7M962.6 2182.1L1013 2189.7M1013 2189.7L1063.9 2179.6M1013 2140.6L1063.9 2187.2M1013 2166.5L1063.9 2127.5M962.6 2173.3L1013 2183.4M962.6 2178.4L1013 2187.2" stroke="#747474" stroke-width="0.9" fill="none"/>
<path d="M912 2093.2V2167.5M912 2187.9V2189.7M902 2093.2H922M902 2189.7H922" stroke="#000" stroke-width="2.6" fill="none"/>
<path d="M962.6 2001.2V2174.6M962.6 2188.4V2189.7M952.6 2001.2H972.6M952.6 2189.7H972.6" stroke="#000" stroke-width="2.6" fill="none"/>
<path d="M1013 1920.8V2172.1M1013 2187.9V2189.7M1003 1920.8H1023M1003 2189.7H1023" stroke="#000" stroke-width="2.6" fill="none"/>
<path d="M1063.9 2067.5V2128.7M1063.9 2187.9V2189.7M1053.9 2067.5H1073.9M1053.9 2189.7H1073.9" stroke="#000" stroke-width="2.6" fill="none"/>
<g fill="#000"><circle cx="912" cy="2093.2" r="4.4"/><circle cx="912" cy="2139.8" r="4.4"/><circle cx="912" cy="2165.8" r="4.4"/><circle cx="912" cy="2170.8" r="4.4"/><circle cx="912" cy="2182.1" r="4.4"/><circle cx="912" cy="2185.9" r="4.4"/><circle cx="912" cy="2189.7" r="4.4"/><circle cx="962.6" cy="2001.2" r="4.4"/><circle cx="962.6" cy="2109.6" r="4.4"/><circle cx="962.6" cy="2126.7" r="4.4"/><circle cx="962.6" cy="2138.8" r="4.4"/><circle cx="962.6" cy="2151.9" r="4.4"/><circle cx="962.6" cy="2161.5" r="4.4"/><circle cx="962.6" cy="2168.3" r="4.4"/><circle cx="962.6" cy="2173.3" r="4.4"/><circle cx="962.6" cy="2178.4" r="4.4"/><circle cx="962.6" cy="2182.1" r="4.4"/><circle cx="962.6" cy="2185.9" r="4.4"/><circle cx="962.6" cy="2189.7" r="4.4"/><circle cx="1013" cy="1920.8" r="4.4"/><circle cx="1013" cy="1964.7" r="4.4"/><circle cx="1013" cy="2098.5" r="4.4"/><circle cx="1013" cy="2124.7" r="4.4"/><circle cx="1013" cy="2133" r="4.4"/><circle cx="1013" cy="2140.6" r="4.4"/><circle cx="1013" cy="2143.1" r="4.4"/><circle cx="1013" cy="2166.5" r="4.4"/><circle cx="1013" cy="2172.1" r="4.4"/><circle cx="1013" cy="2179.6" r="4.4"/><circle cx="1013" cy="2183.4" r="4.4"/><circle cx="1013" cy="2187.2" r="4.4"/><circle cx="1013" cy="2189.7" r="4.4"/><circle cx="1063.9" cy="2067.5" r="4.4"/><circle cx="1063.9" cy="2116.6" r="4.4"/><circle cx="1063.9" cy="2119.6" r="4.4"/><circle cx="1063.9" cy="2127.5" r="4.4"/><circle cx="1063.9" cy="2138" r="4.4"/><circle cx="1063.9" cy="2146.9" r="4.4"/><circle cx="1063.9" cy="2158.7" r="4.4"/><circle cx="1063.9" cy="2179.6" r="4.4"/><circle cx="1063.9" cy="2183.4" r="4.4"/><circle cx="1063.9" cy="2187.2" r="4.4"/><circle cx="1063.9" cy="2189.7" r="4.4"/></g>
<path d="M878.2 1887.3V2189.7" stroke="#000" stroke-width="2.5" fill="none"/>
<path d="M869.4 2189.7H1097.5" stroke="#000" stroke-width="2.5" fill="none"/>
<text x="865" y="1894.7" font-size="16.3" font-weight="bold" text-anchor="end" stroke="#000" stroke-width="0.4">30</text>
<text x="865" y="1995.6" font-size="16.3" font-weight="bold" text-anchor="end" stroke="#000" stroke-width="0.4">20</text>
<text x="865" y="2095.6" font-size="16.3" font-weight="bold" text-anchor="end" stroke="#000" stroke-width="0.4">10</text>
<text x="865" y="2195.9" font-size="16.3" font-weight="bold" text-anchor="end" stroke="#000" stroke-width="0.4">0</text>
<path d="M869.7 1888.5H878.2M869.7 1989.4H878.2M869.7 2089.4H878.2M869.7 2189.7H878.2M912 2189.7V2199.2M962.6 2189.7V2199.2M1013 2189.7V2199.2M1063.9 2189.7V2199.2" stroke="#000" stroke-width="2.5" fill="none"/>
<g transform="translate(911 2214.2) rotate(-45)" font-size="16.7" font-weight="bold" text-anchor="end" stroke="#000" stroke-width="0.45"><text x="-1" y="-1.5">Healthy</text><text x="-1" y="18.5">Volunteers</text></g>
<g transform="translate(961.6 2210.2) rotate(-45)" font-size="16.7" font-weight="bold" text-anchor="end" stroke="#000" stroke-width="0.45"><text x="0" y="6">ICU Day 1</text></g>
<g transform="translate(1012 2210.2) rotate(-45)" font-size="16.7" font-weight="bold" text-anchor="end" stroke="#000" stroke-width="0.45"><text x="0" y="6">ICU Day 3</text></g>
<g transform="translate(1062.9 2210.2) rotate(-45)" font-size="16.7" font-weight="bold" text-anchor="end" stroke="#000" stroke-width="0.45"><text x="0" y="6">ICU Day 7</text></g>
</g>
<g id="bp-Veillonellaceae">
<text x="1369.1" y="1858.3" font-size="20.9" font-weight="bold" text-anchor="middle">Veillonellaceae</text>
<text x="1217.9" y="2038.7" font-size="17.5" font-weight="bold" text-anchor="middle" transform="rotate(-90 1217.9 2038.7)" stroke="#000" stroke-width="0.7">Relative Abundance (%)</text>
<rect x="1278.5" y="2151.4" width="30" height="33.3" fill="#8c8c8c" stroke="#000" stroke-width="2.9"/>
<path d="M1278.5 2175.1H1308.5" stroke="#000" stroke-width="2.9"/>
<rect x="1328.9" y="2119.1" width="30" height="47.9" fill="#c8ecc8" stroke="#000" stroke-width="2.9"/>
<path d="M1328.9 2149.4H1358.9" stroke="#000" stroke-width="2.9"/>
<rect x="1379.3" y="2139.8" width="30" height="46.1" fill="#c8ecc8" stroke="#000" stroke-width="2.9"/>
<path d="M1379.3 2170.8H1409.3" stroke="#000" stroke-width="2.9"/>
<rect x="1429.7" y="2168.3" width="30" height="19.4" fill="#c8ecc8" stroke="#000" stroke-width="2.9"/>
<path d="M1429.7 2186.7H1459.7" stroke="#000" stroke-width="2.9"/>
<path d="M1343.9 1906.2L1394.3 2167M1343.9 1973L1394.3 2128M1343.9 1990.1L1394.3 2182.1M1343.9 2017.8L1394.3 2086.4M1394.3 2086.4L1444.7 2189.7M1343.9 2031.4L1394.3 2154.4M1343.9 2048.6L1394.3 2006.2M1343.9 2060.7L1394.3 2187.2M1343.9 2075.8L1394.3 2167M1343.9 2090.2L1394.3 2189.7M1343.9 2167L1394.3 1945.2M1343.9 2182.1L1394.3 1945.2M1394.3 1945.2L1444.7 2069.5M1343.9 2095.2L1394.3 2099.5M1394.3 2099.5L1444.7 2088.4M1343.9 2109.1L1394.3 2077.6M1343.9 2141.8L1394.3 2006.2M1394.3 2083.9L1444.7 2184.7M1394.3 2112.8L1444.7 2179.6M1394.3 2136.8L1444.7 2144.3M1394.3 2162L1444.7 2167M1394.3 2077.6L1444.7 2189.7M1343.9 2156.3L1394.3 2174.4M1343.9 2169.1L1394.3 2147.3M1343.9 2117.4L1394.3 2160.5M1343.9 2141.8L1394.3 2181.4M1343.9 2170.6L1394.3 2171.8M1343.9 2162L1394.3 2174.6M1343.9 2131.2L1394.3 2163.9M1343.9 2132.7L1394.3 2185.6M1343.9 2123.1L1394.3 2181.8M1343.9 2124.7L1394.3 2175.8M1343.9 2146.5L1394.3 2162.1M1343.9 2180.2L1394.3 2138.2M1343.9 2123.3L1394.3 2186M1343.9 2158.7L1394.3 2143.9M1343.9 2188.9L1394.3 2187.4M1343.9 2128.3L1394.3 2163M1343.9 2130.3L1394.3 2157.2M1343.9 2166.2L1394.3 2148.6M1343.9 2171L1394.3 2141M1343.9 2133.5L1394.3 2181.6M1343.9 2151.1L1394.3 2162.8M1343.9 2164.5L1394.3 2165.7M1343.9 2150L1394.3 2139.3M1343.9 2172.9L1394.3 2188.3M1343.9 2188.3L1394.3 2174.7M1343.9 2147.9L1394.3 2159.9M1343.9 2170.6L1394.3 2175.2M1343.9 2128.4L1394.3 2152.9M1343.9 2148.4L1394.3 2167.4M1343.9 2178.2L1394.3 2166.9M1343.9 2119.6L1394.3 2181.9M1343.9 2153.2L1394.3 2167.8M1343.9 2137.7L1394.3 2163.2M1343.9 2150.2L1394.3 2179.7M1343.9 2127.4L1394.3 2169.3M1394.3 2149.5L1444.7 2189.7M1394.3 2155.1L1444.7 2179.6M1394.3 2155.2L1444.7 2174.6M1394.3 2171.8L1444.7 2189.7M1394.3 2141.1L1444.7 2179.6M1394.3 2160.2L1444.7 2174.6M1394.3 2155.5L1444.7 2179.6M1394.3 2176.2L1444.7 2179.6M1394.3 2153.2L1444.7 2167M1394.3 2165.1L1444.7 2184.7" stroke="#747474" stroke-width="0.9" fill="none"/>
<path d="M1293.5 2107.3V2151.4M1293.5 2184.7V2188.4M1283.5 2107.3H1303.5M1283.5 2188.4H1303.5" stroke="#000" stroke-width="2.6" fill="none"/>
<path d="M1343.9 1906.2V2119.1M1343.9 2167V2189.7M1333.9 1906.2H1353.9M1333.9 2189.7H1353.9" stroke="#000" stroke-width="2.6" fill="none"/>
<path d="M1394.3 1945.2V2139.8M1394.3 2185.9V2189.7M1384.3 1945.2H1404.3M1384.3 2189.7H1404.3" stroke="#000" stroke-width="2.6" fill="none"/>
<path d="M1444.7 2069.5V2168.3M1444.7 2187.7V2189.7M1434.7 2069.5H1454.7M1434.7 2189.7H1454.7" stroke="#000" stroke-width="2.6" fill="none"/>
<g fill="#000"><circle cx="1293.5" cy="2107.3" r="4.4"/><circle cx="1293.5" cy="2141.8" r="4.4"/><circle cx="1293.5" cy="2159.5" r="4.4"/><circle cx="1293.5" cy="2162" r="4.4"/><circle cx="1293.5" cy="2173.3" r="4.4"/><circle cx="1293.5" cy="2178.4" r="4.4"/><circle cx="1293.5" cy="2182.1" r="4.4"/><circle cx="1293.5" cy="2185.9" r="4.4"/><circle cx="1293.5" cy="2188.4" r="4.4"/><circle cx="1343.9" cy="1906.2" r="4.4"/><circle cx="1343.9" cy="1973" r="4.4"/><circle cx="1343.9" cy="1990.1" r="4.4"/><circle cx="1343.9" cy="2017.8" r="4.4"/><circle cx="1343.9" cy="2031.4" r="4.4"/><circle cx="1343.9" cy="2048.6" r="4.4"/><circle cx="1343.9" cy="2060.7" r="4.4"/><circle cx="1343.9" cy="2075.8" r="4.4"/><circle cx="1343.9" cy="2090.2" r="4.4"/><circle cx="1343.9" cy="2095.2" r="4.4"/><circle cx="1343.9" cy="2109.1" r="4.4"/><circle cx="1343.9" cy="2114.1" r="4.4"/><circle cx="1343.9" cy="2116.7" r="4.4"/><circle cx="1343.9" cy="2119.3" r="4.4"/><circle cx="1343.9" cy="2121.9" r="4.4"/><circle cx="1343.9" cy="2124.5" r="4.4"/><circle cx="1343.9" cy="2127.1" r="4.4"/><circle cx="1343.9" cy="2129.7" r="4.4"/><circle cx="1343.9" cy="2132.4" r="4.4"/><circle cx="1343.9" cy="2135" r="4.4"/><circle cx="1343.9" cy="2137.6" r="4.4"/><circle cx="1343.9" cy="2140.2" r="4.4"/><circle cx="1343.9" cy="2142.8" r="4.4"/><circle cx="1343.9" cy="2145.4" r="4.4"/><circle cx="1343.9" cy="2148" r="4.4"/><circle cx="1343.9" cy="2150.6" r="4.4"/><circle cx="1343.9" cy="2153.2" r="4.4"/><circle cx="1343.9" cy="2155.8" r="4.4"/><circle cx="1343.9" cy="2158.4" r="4.4"/><circle cx="1343.9" cy="2161" r="4.4"/><circle cx="1343.9" cy="2163.6" r="4.4"/><circle cx="1343.9" cy="2166.2" r="4.4"/><circle cx="1343.9" cy="2168.8" r="4.4"/><circle cx="1343.9" cy="2171.5" r="4.4"/><circle cx="1343.9" cy="2174.1" r="4.4"/><circle cx="1343.9" cy="2176.7" r="4.4"/><circle cx="1343.9" cy="2179.3" r="4.4"/><circle cx="1343.9" cy="2181.9" r="4.4"/><circle cx="1343.9" cy="2184.5" r="4.4"/><circle cx="1343.9" cy="2187.1" r="4.4"/><circle cx="1343.9" cy="2189.7" r="4.4"/><circle cx="1394.3" cy="1945.2" r="4.4"/><circle cx="1394.3" cy="2006.2" r="4.4"/><circle cx="1394.3" cy="2077.6" r="4.4"/><circle cx="1394.3" cy="2083.9" r="4.4"/><circle cx="1394.3" cy="2086.4" r="4.4"/><circle cx="1394.3" cy="2099.5" r="4.4"/><circle cx="1394.3" cy="2112.8" r="4.4"/><circle cx="1394.3" cy="2128" r="4.4"/><circle cx="1394.3" cy="2136.8" r="4.4"/><circle cx="1394.3" cy="2141.8" r="4.4"/><circle cx="1394.3" cy="2143.8" r="4.4"/><circle cx="1394.3" cy="2145.8" r="4.4"/><circle cx="1394.3" cy="2147.8" r="4.4"/><circle cx="1394.3" cy="2149.8" r="4.4"/><circle cx="1394.3" cy="2151.8" r="4.4"/><circle cx="1394.3" cy="2153.8" r="4.4"/><circle cx="1394.3" cy="2155.8" r="4.4"/><circle cx="1394.3" cy="2157.8" r="4.4"/><circle cx="1394.3" cy="2159.8" r="4.4"/><circle cx="1394.3" cy="2161.8" r="4.4"/><circle cx="1394.3" cy="2163.8" r="4.4"/><circle cx="1394.3" cy="2165.8" r="4.4"/><circle cx="1394.3" cy="2167.8" r="4.4"/><circle cx="1394.3" cy="2169.8" r="4.4"/><circle cx="1394.3" cy="2171.7" r="4.4"/><circle cx="1394.3" cy="2173.7" r="4.4"/><circle cx="1394.3" cy="2175.7" r="4.4"/><circle cx="1394.3" cy="2177.7" r="4.4"/><circle cx="1394.3" cy="2179.7" r="4.4"/><circle cx="1394.3" cy="2181.7" r="4.4"/><circle cx="1394.3" cy="2183.7" r="4.4"/><circle cx="1394.3" cy="2185.7" r="4.4"/><circle cx="1394.3" cy="2187.7" r="4.4"/><circle cx="1394.3" cy="2189.7" r="4.4"/><circle cx="1444.7" cy="2069.5" r="4.4"/><circle cx="1444.7" cy="2088.4" r="4.4"/><circle cx="1444.7" cy="2144.3" r="4.4"/><circle cx="1444.7" cy="2167" r="4.4"/><circle cx="1444.7" cy="2174.6" r="4.4"/><circle cx="1444.7" cy="2179.6" r="4.4"/><circle cx="1444.7" cy="2184.7" r="4.4"/><circle cx="1444.7" cy="2189.7" r="4.4"/></g>
<path d="M1259.5 1886.5V2189.7" stroke="#000" stroke-width="2.5" fill="none"/>
<path d="M1250.6 2189.7H1478.7" stroke="#000" stroke-width="2.5" fill="none"/>
<text x="1246.3" y="1894" font-size="16.3" font-weight="bold" text-anchor="end" stroke="#000" stroke-width="0.4">25</text>
<text x="1246.3" y="1954.5" font-size="16.3" font-weight="bold" text-anchor="end" stroke="#000" stroke-width="0.4">20</text>
<text x="1246.3" y="2015" font-size="16.3" font-weight="bold" text-anchor="end" stroke="#000" stroke-width="0.4">15</text>
<text x="1246.3" y="2075.4" font-size="16.3" font-weight="bold" text-anchor="end" stroke="#000" stroke-width="0.4">10</text>
<text x="1246.3" y="2135.7" font-size="16.3" font-weight="bold" text-anchor="end" stroke="#000" stroke-width="0.4">5</text>
<text x="1246.3" y="2195.9" font-size="16.3" font-weight="bold" text-anchor="end" stroke="#000" stroke-width="0.4">0</text>
<path d="M1251 1887.8H1259.5M1251 1948.3H1259.5M1251 2008.8H1259.5M1251 2069.2H1259.5M1251 2129.5H1259.5M1251 2189.7H1259.5M1293.5 2189.7V2199.2M1343.9 2189.7V2199.2M1394.3 2189.7V2199.2M1444.7 2189.7V2199.2" stroke="#000" stroke-width="2.5" fill="none"/>
<g transform="translate(1292.5 2214.2) rotate(-45)" font-size="16.7" font-weight="bold" text-anchor="end" stroke="#000" stroke-width="0.45"><text x="-1" y="-1.5">Healthy</text><text x="-1" y="18.5">Volunteers</text></g>
<g transform="translate(1342.9 2210.2) rotate(-45)" font-size="16.7" font-weight="bold" text-anchor="end" stroke="#000" stroke-width="0.45"><text x="0" y="6">ICU Day 1</text></g>
<g transform="translate(1393.3 2210.2) rotate(-45)" font-size="16.7" font-weight="bold" text-anchor="end" stroke="#000" stroke-width="0.45"><text x="0" y="6">ICU Day 3</text></g>
<g transform="translate(1443.7 2210.2) rotate(-45)" font-size="16.7" font-weight="bold" text-anchor="end" stroke="#000" stroke-width="0.45"><text x="0" y="6">ICU Day 7</text></g>
</g>
</g>
<g id="panelC">
<text transform="translate(1537.5 702) scale(0.86 1)" font-size="64" stroke="#000" stroke-width="1.2">C</text>
<rect x="1807.2" y="730.3" width="299.8" height="57.3" fill="#74D36B"/>
<rect x="1799" y="758" width="8" height="2" fill="#333"/>
<text x="1790.5" y="770" font-size="26.3" text-anchor="end" fill="#666">Enterobacteriaceae</text>
<rect x="1807.2" y="795.7" width="146.6" height="59.1" fill="#74D36B"/>
<rect x="1799" y="824.2" width="8" height="2" fill="#333"/>
<text x="1790.5" y="836.2" font-size="26.3" text-anchor="end" fill="#666">Pasteurellaceae</text>
<rect x="1807.2" y="863" width="135.2" height="57.7" fill="#74D36B"/>
<rect x="1799" y="890.9" width="8" height="2" fill="#333"/>
<text x="1790.5" y="902.9" font-size="26.3" text-anchor="end" fill="#666">Barnesiellaceae</text>
<rect x="1807.2" y="928.5" width="4.3" height="59.1" fill="#74D36B"/>
<rect x="1799" y="957" width="8" height="2" fill="#333"/>
<text x="1790.5" y="969" font-size="26.3" text-anchor="end" fill="#666">Veillonellaceae</text>
<rect x="1807.2" y="995.7" width="322.1" height="57.3" fill="#D3D1D1"/>
<rect x="1799" y="1023.3" width="8" height="2" fill="#333"/>
<text x="1790.5" y="1035.3" font-size="26.3" text-anchor="end" fill="#666">Ruminococcaceae</text>
<rect x="1807.2" y="1061.2" width="247.8" height="59.5" fill="#D3D1D1"/>
<rect x="1799" y="1090" width="8" height="2" fill="#333"/>
<text x="1790.5" y="1102" font-size="26.3" text-anchor="end" fill="#666">Lachnospiraceae</text>
<rect x="1807.2" y="1128.3" width="182.3" height="57.7" fill="#D3D1D1"/>
<rect x="1799" y="1156.2" width="8" height="2" fill="#333"/>
<text x="1790.5" y="1168.2" font-size="26.3" text-anchor="end" fill="#666">Family XI</text>
<rect x="1807.2" y="1193.8" width="164.3" height="59.5" fill="#D3D1D1"/>
<rect x="1799" y="1222.5" width="8" height="2" fill="#333"/>
<text x="1790.5" y="1234.5" font-size="26.3" text-anchor="end" fill="#666">Acidaminococcaceae</text>
<rect x="1807.2" y="1261" width="76.8" height="57.7" fill="#D3D1D1"/>
<rect x="1799" y="1288.8" width="8" height="2" fill="#333"/>
<text x="1790.5" y="1300.8" font-size="26.3" text-anchor="end" fill="#666">Anaerovoracaceae</text>
<rect x="1807.2" y="1327.2" width="8.8" height="58.8" fill="#D3D1D1"/>
<rect x="1799" y="1355.6" width="8" height="2" fill="#333"/>
<text x="1790.5" y="1367.6" font-size="26.3" text-anchor="end" fill="#666">Sutterellaceae</text>
<path d="M1807.2 719V1396" stroke="#000" stroke-width="2.6"/>
<path d="M1805.9 1394.8H2129.5" stroke="#333" stroke-width="3.2"/>
<rect x="1805.5" y="1395" width="2" height="8" fill="#333"/>
<text x="1806.5" y="1429.5" font-size="27" text-anchor="middle" fill="#666">0.0</text>
<rect x="1887" y="1395" width="2" height="8" fill="#333"/>
<text x="1888" y="1429.5" font-size="27" text-anchor="middle" fill="#666">0.5</text>
<rect x="1969" y="1395" width="2" height="8" fill="#333"/>
<text x="1970" y="1429.5" font-size="27" text-anchor="middle" fill="#666">1.0</text>
<rect x="2050.4" y="1395" width="2" height="8" fill="#333"/>
<text x="2051.4" y="1429.5" font-size="27" text-anchor="middle" fill="#666">1.5</text>
<text x="1967" y="1467" font-size="32.9" text-anchor="middle" fill="#222">CLR differential means</text>
<text x="2123" y="783.5" font-size="44" font-weight="bold" text-anchor="middle">*</text>
<text x="2153" y="1050" font-size="44" font-weight="bold" text-anchor="middle">*</text>
<text x="2080.5" y="1110.5" font-size="44" font-weight="bold" text-anchor="middle">*</text>
<rect x="1779.6" y="1514.8" width="55" height="54.5" fill="#D3D1D1"/>
<rect x="1779.6" y="1575.4" width="55" height="54.5" fill="#74D36B"/>
<text x="1868" y="1554" font-size="31.3" stroke="#000" stroke-width="0.3">Healthy Volunteers</text>
<text x="1868" y="1613.5" font-size="30.5" stroke="#000" stroke-width="0.3">ICU Patients</text>
</g>
</svg>
</body></html>
